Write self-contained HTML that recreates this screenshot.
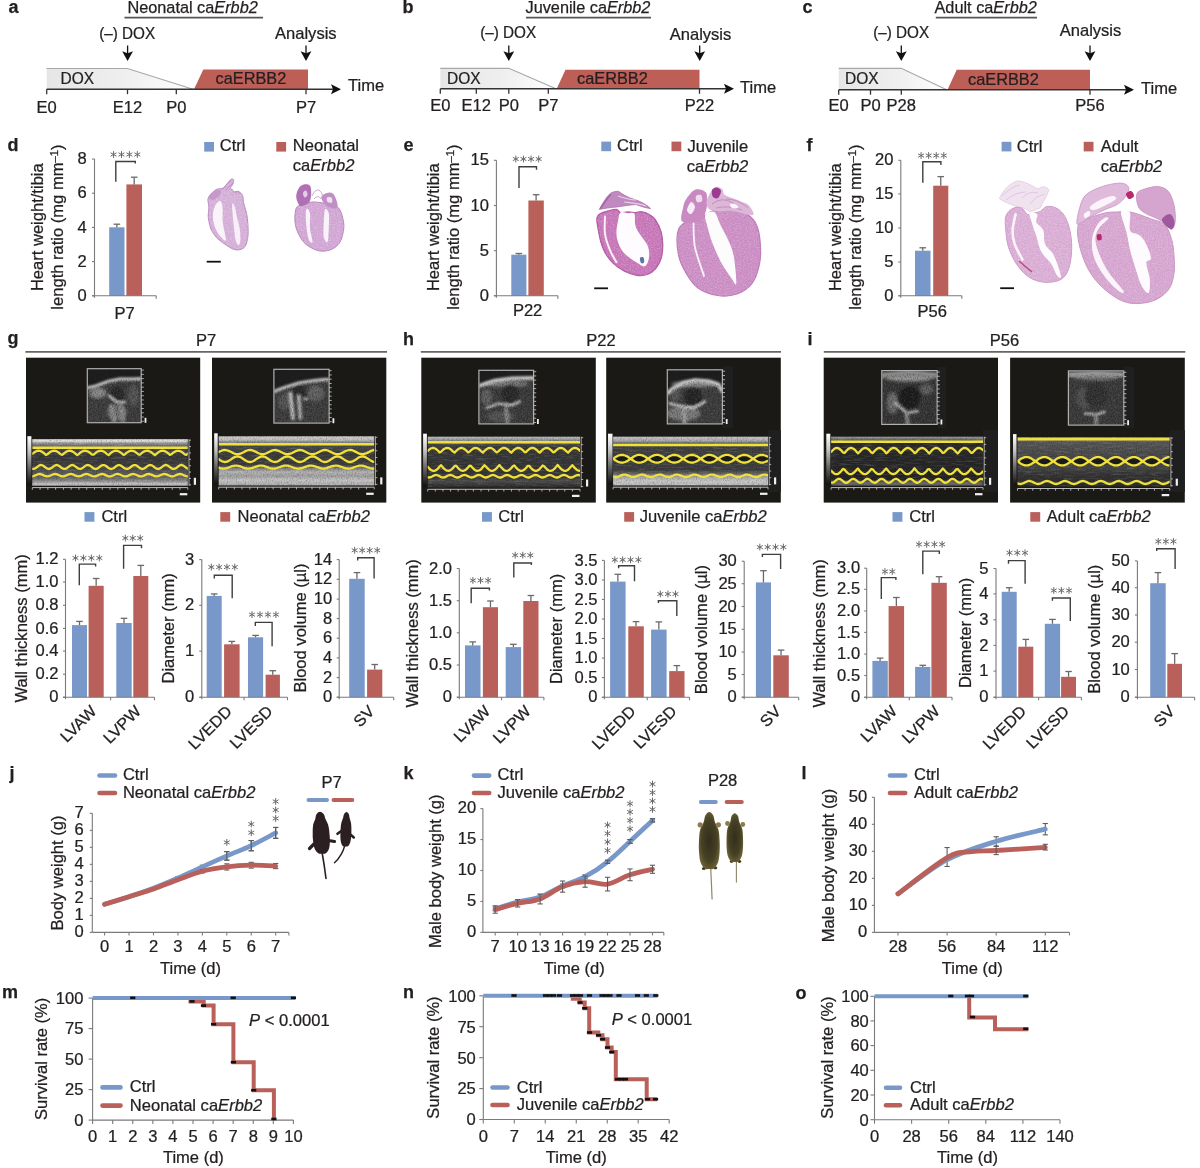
<!DOCTYPE html>
<html><head><meta charset="utf-8"><title>Figure</title>
<style>
html,body{margin:0;padding:0;background:#fff;}
svg{display:block;}
text{font-family:"Liberation Sans",sans-serif;fill:#231f20;stroke:#231f20;stroke-width:0.25px;}
</style></head><body>
<svg width="1200" height="1168" viewBox="0 0 1200 1168" style="will-change:transform">
<rect width="1200" height="1168" fill="#ffffff"/>
<text transform="translate(8.50 12.80)" font-size="18" font-weight="bold" fill="#111">a</text>
<text transform="translate(402.50 13.00)" font-size="18" font-weight="bold" fill="#111">b</text>
<text transform="translate(802.50 12.50)" font-size="18" font-weight="bold" fill="#111">c</text>
<linearGradient id="ga" x1="0" x2="1" y1="0" y2="0"><stop offset="0" stop-color="#e6e6e6"/><stop offset="0.55" stop-color="#efefef"/><stop offset="1" stop-color="#ffffff"/></linearGradient>
<path d="M46.7,89.2 L46.7,68.5 L127.5,68.5 L193,89.2 Z" fill="url(#ga)"/>
<path d="M46.7,68.5 L127.5,68.5 L193,89.2" fill="none" stroke="#a8a8a8" stroke-width="1.2"/>
<text transform="translate(60.50 84.00) scale(0.97 1)" font-size="16">DOX</text>
<path d="M194,89.2 L203.3,69.6 L308,69.6 L308,89.2 Z" fill="#bd5e57"/>
<text transform="translate(215.50 84.20) scale(1.035 1)" font-size="15.8" fill="#3a1d1c">caERBB2</text>
<line x1="46.70" y1="89.20" x2="335.00" y2="89.20" stroke="#333" stroke-width="1.4"/>
<path d="M341,89.2 L331,84.2 L333,89.2 L331,94.2 Z" fill="#111"/>
<text transform="translate(348.00 91.00) scale(1.035 1)" font-size="16">Time</text>
<line x1="46.70" y1="89.20" x2="46.70" y2="94.20" stroke="#333" stroke-width="1.3"/>
<text transform="translate(46.70 112.50) scale(1.035 1)" font-size="16" text-anchor="middle">E0</text>
<line x1="127.50" y1="89.20" x2="127.50" y2="94.20" stroke="#333" stroke-width="1.3"/>
<text transform="translate(127.50 112.50) scale(1.035 1)" font-size="16" text-anchor="middle">E12</text>
<line x1="176.30" y1="89.20" x2="176.30" y2="94.20" stroke="#333" stroke-width="1.3"/>
<text transform="translate(176.30 112.50) scale(1.035 1)" font-size="16" text-anchor="middle">P0</text>
<line x1="306.00" y1="89.20" x2="306.00" y2="94.20" stroke="#333" stroke-width="1.3"/>
<text transform="translate(306.00 112.50) scale(1.035 1)" font-size="16" text-anchor="middle">P7</text>
<line x1="127.60" y1="45.50" x2="127.60" y2="54.00" stroke="#111" stroke-width="1.3"/>
<path d="M122.2,51.2 L127.6,53.3 L133.0,51.2 L127.6,61.0 Z" fill="#111"/>
<text transform="translate(99.20 39.00) scale(0.955 1)" font-size="16">(–) DOX</text>
<line x1="306.00" y1="45.50" x2="306.00" y2="54.00" stroke="#111" stroke-width="1.3"/>
<path d="M300.6,51.2 L306.0,53.3 L311.4,51.2 L306.0,61.0 Z" fill="#111"/>
<text transform="translate(275.00 38.50) scale(1.035 1)" font-size="16">Analysis</text>
<text transform="translate(127.40 13.30)" font-size="16.3">Neonatal ca<tspan font-style="italic">Erbb2</tspan></text>
<line x1="124.50" y1="17.60" x2="263.00" y2="17.60" stroke="#555" stroke-width="1.6"/>
<linearGradient id="gb" x1="0" x2="1" y1="0" y2="0"><stop offset="0" stop-color="#e6e6e6"/><stop offset="0.55" stop-color="#efefef"/><stop offset="1" stop-color="#ffffff"/></linearGradient>
<path d="M440.3,88.8 L440.3,68.3 L508.8,68.3 L556,88.8 Z" fill="url(#gb)"/>
<path d="M440.3,68.3 L508.8,68.3 L556,88.8" fill="none" stroke="#a8a8a8" stroke-width="1.2"/>
<text transform="translate(447.00 83.50) scale(0.97 1)" font-size="16">DOX</text>
<path d="M556.7,88.8 L565.5,69.8 L699.5,69.8 L699.5,88.8 Z" fill="#bd5e57"/>
<text transform="translate(577.00 84.00) scale(1.035 1)" font-size="15.8" fill="#3a1d1c">caERBB2</text>
<line x1="440.30" y1="88.80" x2="728.00" y2="88.80" stroke="#333" stroke-width="1.4"/>
<path d="M734,88.8 L724,83.8 L726,88.8 L724,93.8 Z" fill="#111"/>
<text transform="translate(740.00 93.30) scale(1.035 1)" font-size="16">Time</text>
<line x1="440.30" y1="88.80" x2="440.30" y2="93.80" stroke="#333" stroke-width="1.3"/>
<text transform="translate(440.30 110.80) scale(1.035 1)" font-size="16" text-anchor="middle">E0</text>
<line x1="476.30" y1="88.80" x2="476.30" y2="93.80" stroke="#333" stroke-width="1.3"/>
<text transform="translate(476.30 110.80) scale(1.035 1)" font-size="16" text-anchor="middle">E12</text>
<line x1="508.80" y1="88.80" x2="508.80" y2="93.80" stroke="#333" stroke-width="1.3"/>
<text transform="translate(508.80 110.80) scale(1.035 1)" font-size="16" text-anchor="middle">P0</text>
<line x1="548.30" y1="88.80" x2="548.30" y2="93.80" stroke="#333" stroke-width="1.3"/>
<text transform="translate(548.30 110.80) scale(1.035 1)" font-size="16" text-anchor="middle">P7</text>
<line x1="699.50" y1="88.80" x2="699.50" y2="93.80" stroke="#333" stroke-width="1.3"/>
<text transform="translate(699.50 110.80) scale(1.035 1)" font-size="16" text-anchor="middle">P22</text>
<line x1="508.80" y1="45.50" x2="508.80" y2="54.00" stroke="#111" stroke-width="1.3"/>
<path d="M503.4,51.2 L508.8,53.3 L514.2,51.2 L508.8,61.0 Z" fill="#111"/>
<text transform="translate(480.20 38.00) scale(0.955 1)" font-size="16">(–) DOX</text>
<line x1="699.70" y1="45.50" x2="699.70" y2="54.00" stroke="#111" stroke-width="1.3"/>
<path d="M694.3,51.2 L699.7,53.3 L705.1,51.2 L699.7,61.0 Z" fill="#111"/>
<text transform="translate(669.70 39.70) scale(1.035 1)" font-size="16">Analysis</text>
<text transform="translate(525.50 13.30)" font-size="16.3">Juvenile ca<tspan font-style="italic">Erbb2</tspan></text>
<line x1="526.00" y1="17.60" x2="651.00" y2="17.60" stroke="#555" stroke-width="1.6"/>
<linearGradient id="gc" x1="0" x2="1" y1="0" y2="0"><stop offset="0" stop-color="#e6e6e6"/><stop offset="0.55" stop-color="#efefef"/><stop offset="1" stop-color="#ffffff"/></linearGradient>
<path d="M838.7,89.7 L838.7,68.3 L901.3,68.3 L946.7,89.7 Z" fill="url(#gc)"/>
<path d="M838.7,68.3 L901.3,68.3 L946.7,89.7" fill="none" stroke="#a8a8a8" stroke-width="1.2"/>
<text transform="translate(845.00 84.00) scale(0.97 1)" font-size="16">DOX</text>
<path d="M947.5,89.7 L956.7,69.8 L1090,69.8 L1090,89.7 Z" fill="#bd5e57"/>
<text transform="translate(968.00 84.50) scale(1.035 1)" font-size="15.8" fill="#3a1d1c">caERBB2</text>
<line x1="838.70" y1="89.70" x2="1128.00" y2="89.70" stroke="#333" stroke-width="1.4"/>
<path d="M1134,89.7 L1124,84.7 L1126,89.7 L1124,94.7 Z" fill="#111"/>
<text transform="translate(1141.00 94.00) scale(1.035 1)" font-size="16">Time</text>
<line x1="838.70" y1="89.70" x2="838.70" y2="94.70" stroke="#333" stroke-width="1.3"/>
<text transform="translate(838.70 110.80) scale(1.035 1)" font-size="16" text-anchor="middle">E0</text>
<line x1="870.50" y1="89.70" x2="870.50" y2="94.70" stroke="#333" stroke-width="1.3"/>
<text transform="translate(870.50 110.80) scale(1.035 1)" font-size="16" text-anchor="middle">P0</text>
<line x1="901.30" y1="89.70" x2="901.30" y2="94.70" stroke="#333" stroke-width="1.3"/>
<text transform="translate(901.30 110.80) scale(1.035 1)" font-size="16" text-anchor="middle">P28</text>
<line x1="1090.00" y1="89.70" x2="1090.00" y2="94.70" stroke="#333" stroke-width="1.3"/>
<text transform="translate(1090.00 110.80) scale(1.035 1)" font-size="16" text-anchor="middle">P56</text>
<line x1="901.30" y1="45.50" x2="901.30" y2="54.00" stroke="#111" stroke-width="1.3"/>
<path d="M895.9,51.2 L901.3,53.3 L906.7,51.2 L901.3,61.0 Z" fill="#111"/>
<text transform="translate(873.20 38.00) scale(0.955 1)" font-size="16">(–) DOX</text>
<line x1="1090.00" y1="45.50" x2="1090.00" y2="54.00" stroke="#111" stroke-width="1.3"/>
<path d="M1084.6,51.2 L1090.0,53.3 L1095.4,51.2 L1090.0,61.0 Z" fill="#111"/>
<text transform="translate(1059.70 35.80) scale(1.035 1)" font-size="16">Analysis</text>
<text transform="translate(934.50 13.30)" font-size="16.3">Adult ca<tspan font-style="italic">Erbb2</tspan></text>
<line x1="935.80" y1="17.60" x2="1037.00" y2="17.60" stroke="#555" stroke-width="1.6"/>
<text transform="translate(7.50 151.20)" font-size="18" font-weight="bold" fill="#111">d</text>
<text transform="translate(403.50 150.80)" font-size="18" font-weight="bold" fill="#111">e</text>
<text transform="translate(806.50 150.80)" font-size="18" font-weight="bold" fill="#111">f</text>
<defs>
<filter id="nzw2" x="0" y="0" width="1" height="1"><feTurbulence type="fractalNoise" baseFrequency="0.7" numOctaves="2" seed="11"/><feColorMatrix type="matrix" values="0 0 0 0 1  0 0 0 0 1  0 0 0 0 1  1.8 0 0 0 -0.8"/></filter>
<filter id="nzk2" x="0" y="0" width="1" height="1"><feTurbulence type="fractalNoise" baseFrequency="0.6" numOctaves="2" seed="5"/><feColorMatrix type="matrix" values="0 0 0 0 0.3  0 0 0 0 0  0 0 0 0 0.3  1.8 0 0 0 -0.8"/></filter>
</defs>
<rect x="109.20" y="227.30" width="15.30" height="68.50" fill="#7898ca"/>
<line x1="116.85" y1="227.30" x2="116.85" y2="224.20" stroke="#6a6a6a" stroke-width="1.3"/>
<line x1="113.55" y1="224.20" x2="120.15" y2="224.20" stroke="#6a6a6a" stroke-width="1.3"/>
<rect x="126.40" y="184.40" width="15.60" height="111.40" fill="#b9605a"/>
<line x1="134.20" y1="184.40" x2="134.20" y2="177.20" stroke="#6a6a6a" stroke-width="1.3"/>
<line x1="130.90" y1="177.20" x2="137.50" y2="177.20" stroke="#6a6a6a" stroke-width="1.3"/>
<line x1="94.50" y1="159.00" x2="94.50" y2="297.80" stroke="#7a7a7a" stroke-width="1.1"/>
<line x1="92.00" y1="295.80" x2="156.20" y2="295.80" stroke="#7a7a7a" stroke-width="1.1"/>
<line x1="92.00" y1="295.80" x2="94.50" y2="295.80" stroke="#7a7a7a" stroke-width="1.1"/>
<text transform="translate(86.80 300.90) scale(1.035 1)" font-size="16" text-anchor="end">0</text>
<line x1="92.00" y1="261.60" x2="94.50" y2="261.60" stroke="#7a7a7a" stroke-width="1.1"/>
<text transform="translate(86.80 266.70) scale(1.035 1)" font-size="16" text-anchor="end">2</text>
<line x1="92.00" y1="227.40" x2="94.50" y2="227.40" stroke="#7a7a7a" stroke-width="1.1"/>
<text transform="translate(86.80 232.50) scale(1.035 1)" font-size="16" text-anchor="end">4</text>
<line x1="92.00" y1="193.20" x2="94.50" y2="193.20" stroke="#7a7a7a" stroke-width="1.1"/>
<text transform="translate(86.80 198.30) scale(1.035 1)" font-size="16" text-anchor="end">6</text>
<line x1="92.00" y1="159.00" x2="94.50" y2="159.00" stroke="#7a7a7a" stroke-width="1.1"/>
<text transform="translate(86.80 164.10) scale(1.035 1)" font-size="16" text-anchor="end">8</text>
<line x1="156.20" y1="295.80" x2="156.20" y2="298.80" stroke="#7a7a7a" stroke-width="1.1"/>
<path d="M115.8,181.7 L115.8,161.5 L135.3,161.5 L135.3,163.6" fill="none" stroke="#3f3f3f" stroke-width="1.4"/>
<path d="M113.56,151.10 L113.56,157.90 M116.51,152.80 L110.62,156.20 M116.51,156.20 L110.62,152.80 " fill="none" stroke="#6a6a6a" stroke-width="1.0"/>
<path d="M121.49,151.10 L121.49,157.90 M124.43,152.80 L118.54,156.20 M124.43,156.20 L118.54,152.80 " fill="none" stroke="#6a6a6a" stroke-width="1.0"/>
<path d="M129.41,151.10 L129.41,157.90 M132.36,152.80 L126.47,156.20 M132.36,156.20 L126.47,152.80 " fill="none" stroke="#6a6a6a" stroke-width="1.0"/>
<path d="M137.34,151.10 L137.34,157.90 M140.28,152.80 L134.39,156.20 M140.28,156.20 L134.39,152.80 " fill="none" stroke="#6a6a6a" stroke-width="1.0"/>
<text transform="translate(42.70 227.20) rotate(-90) scale(1.035 1)" font-size="16" text-anchor="middle">Heart weight/tibia</text>
<text transform="translate(63.20 227.00) rotate(-90) scale(1.035 1)" font-size="16" text-anchor="middle">length ratio (mg mm<tspan dy="-5" font-size="11">–1</tspan><tspan dy="5">)</tspan></text>
<text transform="translate(124.50 319.20) scale(1.035 1)" font-size="16" text-anchor="middle">P7</text>
<rect x="511.30" y="254.70" width="15.10" height="41.10" fill="#7898ca"/>
<line x1="518.85" y1="254.70" x2="518.85" y2="253.50" stroke="#6a6a6a" stroke-width="1.3"/>
<line x1="515.55" y1="253.50" x2="522.15" y2="253.50" stroke="#6a6a6a" stroke-width="1.3"/>
<rect x="528.40" y="200.50" width="15.40" height="95.30" fill="#b9605a"/>
<line x1="536.10" y1="200.50" x2="536.10" y2="194.70" stroke="#6a6a6a" stroke-width="1.3"/>
<line x1="532.80" y1="194.70" x2="539.40" y2="194.70" stroke="#6a6a6a" stroke-width="1.3"/>
<line x1="496.40" y1="160.30" x2="496.40" y2="297.80" stroke="#7a7a7a" stroke-width="1.1"/>
<line x1="493.90" y1="295.80" x2="557.90" y2="295.80" stroke="#7a7a7a" stroke-width="1.1"/>
<line x1="493.90" y1="295.80" x2="496.40" y2="295.80" stroke="#7a7a7a" stroke-width="1.1"/>
<text transform="translate(489.00 300.90) scale(1.035 1)" font-size="16" text-anchor="end">0</text>
<line x1="493.90" y1="250.70" x2="496.40" y2="250.70" stroke="#7a7a7a" stroke-width="1.1"/>
<text transform="translate(489.00 255.80) scale(1.035 1)" font-size="16" text-anchor="end">5</text>
<line x1="493.90" y1="205.50" x2="496.40" y2="205.50" stroke="#7a7a7a" stroke-width="1.1"/>
<text transform="translate(489.00 210.60) scale(1.035 1)" font-size="16" text-anchor="end">10</text>
<line x1="493.90" y1="160.30" x2="496.40" y2="160.30" stroke="#7a7a7a" stroke-width="1.1"/>
<text transform="translate(489.00 165.40) scale(1.035 1)" font-size="16" text-anchor="end">15</text>
<line x1="557.90" y1="295.80" x2="557.90" y2="298.80" stroke="#7a7a7a" stroke-width="1.1"/>
<path d="M519.0,187.9 L519.0,166.8 L536.5,166.8 L536.5,169.7" fill="none" stroke="#3f3f3f" stroke-width="1.4"/>
<path d="M515.81,155.60 L515.81,162.40 M518.76,157.30 L512.87,160.70 M518.76,160.70 L512.87,157.30 " fill="none" stroke="#6a6a6a" stroke-width="1.0"/>
<path d="M523.44,155.60 L523.44,162.40 M526.38,157.30 L520.49,160.70 M526.38,160.70 L520.49,157.30 " fill="none" stroke="#6a6a6a" stroke-width="1.0"/>
<path d="M531.06,155.60 L531.06,162.40 M534.01,157.30 L528.12,160.70 M534.01,160.70 L528.12,157.30 " fill="none" stroke="#6a6a6a" stroke-width="1.0"/>
<path d="M538.69,155.60 L538.69,162.40 M541.63,157.30 L535.74,160.70 M541.63,160.70 L535.74,157.30 " fill="none" stroke="#6a6a6a" stroke-width="1.0"/>
<text transform="translate(439.20 227.20) rotate(-90) scale(1.035 1)" font-size="16" text-anchor="middle">Heart weight/tibia</text>
<text transform="translate(459.00 227.00) rotate(-90) scale(1.035 1)" font-size="16" text-anchor="middle">length ratio (mg mm<tspan dy="-5" font-size="11">–1</tspan><tspan dy="5">)</tspan></text>
<text transform="translate(527.60 316.30) scale(1.035 1)" font-size="16" text-anchor="middle">P22</text>
<rect x="915.00" y="250.70" width="15.50" height="45.10" fill="#7898ca"/>
<line x1="922.75" y1="250.70" x2="922.75" y2="247.80" stroke="#6a6a6a" stroke-width="1.3"/>
<line x1="919.45" y1="247.80" x2="926.05" y2="247.80" stroke="#6a6a6a" stroke-width="1.3"/>
<rect x="933.20" y="185.70" width="15.10" height="110.10" fill="#b9605a"/>
<line x1="940.75" y1="185.70" x2="940.75" y2="176.60" stroke="#6a6a6a" stroke-width="1.3"/>
<line x1="937.45" y1="176.60" x2="944.05" y2="176.60" stroke="#6a6a6a" stroke-width="1.3"/>
<line x1="900.80" y1="160.30" x2="900.80" y2="297.80" stroke="#7a7a7a" stroke-width="1.1"/>
<line x1="898.30" y1="295.80" x2="961.80" y2="295.80" stroke="#7a7a7a" stroke-width="1.1"/>
<line x1="898.30" y1="295.80" x2="900.80" y2="295.80" stroke="#7a7a7a" stroke-width="1.1"/>
<text transform="translate(893.50 300.90) scale(1.035 1)" font-size="16" text-anchor="end">0</text>
<line x1="898.30" y1="262.00" x2="900.80" y2="262.00" stroke="#7a7a7a" stroke-width="1.1"/>
<text transform="translate(893.50 267.10) scale(1.035 1)" font-size="16" text-anchor="end">5</text>
<line x1="898.30" y1="228.00" x2="900.80" y2="228.00" stroke="#7a7a7a" stroke-width="1.1"/>
<text transform="translate(893.50 233.10) scale(1.035 1)" font-size="16" text-anchor="end">10</text>
<line x1="898.30" y1="193.90" x2="900.80" y2="193.90" stroke="#7a7a7a" stroke-width="1.1"/>
<text transform="translate(893.50 199.00) scale(1.035 1)" font-size="16" text-anchor="end">15</text>
<line x1="898.30" y1="160.30" x2="900.80" y2="160.30" stroke="#7a7a7a" stroke-width="1.1"/>
<text transform="translate(893.50 165.40) scale(1.035 1)" font-size="16" text-anchor="end">20</text>
<line x1="961.80" y1="295.80" x2="961.80" y2="298.80" stroke="#7a7a7a" stroke-width="1.1"/>
<path d="M922.8,182.7 L922.8,161.7 L940.9,161.7 L940.9,165.1" fill="none" stroke="#3f3f3f" stroke-width="1.4"/>
<path d="M921.09,152.10 L921.09,158.90 M924.03,153.80 L918.14,157.20 M924.03,157.20 L918.14,153.80 " fill="none" stroke="#6a6a6a" stroke-width="1.0"/>
<path d="M928.66,152.10 L928.66,158.90 M931.61,153.80 L925.72,157.20 M931.61,157.20 L925.72,153.80 " fill="none" stroke="#6a6a6a" stroke-width="1.0"/>
<path d="M936.24,152.10 L936.24,158.90 M939.18,153.80 L933.29,157.20 M939.18,157.20 L933.29,153.80 " fill="none" stroke="#6a6a6a" stroke-width="1.0"/>
<path d="M943.81,152.10 L943.81,158.90 M946.76,153.80 L940.87,157.20 M946.76,157.20 L940.87,153.80 " fill="none" stroke="#6a6a6a" stroke-width="1.0"/>
<text transform="translate(841.00 227.20) rotate(-90) scale(1.035 1)" font-size="16" text-anchor="middle">Heart weight/tibia</text>
<text transform="translate(860.70 227.00) rotate(-90) scale(1.035 1)" font-size="16" text-anchor="middle">length ratio (mg mm<tspan dy="-5" font-size="11">–1</tspan><tspan dy="5">)</tspan></text>
<text transform="translate(932.20 316.60) scale(1.035 1)" font-size="16" text-anchor="middle">P56</text>
<rect x="204.20" y="142.00" width="9.80" height="9.60" fill="#7898ca"/>
<text transform="translate(219.70 151.40) scale(1.035 1)" font-size="16">Ctrl</text>
<rect x="276.30" y="142.00" width="9.80" height="9.60" fill="#b9605a"/>
<text transform="translate(292.80 151.40) scale(1.035 1)" font-size="16">Neonatal</text>
<text transform="translate(292.80 170.80) scale(1.035 1)" font-size="16">ca<tspan font-style="italic">Erbb2</tspan></text>
<rect x="601.30" y="141.60" width="9.80" height="9.60" fill="#7898ca"/>
<text transform="translate(617.00 151.40) scale(1.035 1)" font-size="16">Ctrl</text>
<rect x="671.50" y="141.60" width="9.80" height="9.60" fill="#b9605a"/>
<text transform="translate(687.50 151.80) scale(1.035 1)" font-size="16">Juvenile</text>
<text transform="translate(686.70 171.70) scale(1.035 1)" font-size="16">ca<tspan font-style="italic">Erbb2</tspan></text>
<rect x="1001.60" y="141.80" width="9.80" height="9.60" fill="#7898ca"/>
<text transform="translate(1016.70 151.60) scale(1.035 1)" font-size="16">Ctrl</text>
<rect x="1083.70" y="141.80" width="9.80" height="9.60" fill="#b9605a"/>
<text transform="translate(1100.70 151.60) scale(1.035 1)" font-size="16">Adult</text>
<text transform="translate(1100.70 171.80) scale(1.035 1)" font-size="16">ca<tspan font-style="italic">Erbb2</tspan></text>
<path d="M207.9,199.7 C207.9,201.5 208.9,205.2 208.9,207.9 C208.9,210.6 208.0,212.9 208.2,216.1 C208.4,219.3 209.4,224.1 210.3,227.1 C211.2,230.1 212.2,231.7 213.7,233.9 C215.2,236.1 217.1,238.3 219.2,240.1 C221.2,241.9 223.7,243.4 226.0,244.9 C228.3,246.4 230.6,248.2 232.9,249.0 C235.2,249.8 237.6,250.2 239.7,249.7 C241.8,249.2 243.8,248.4 245.2,246.2 C246.6,244.0 247.4,240.2 247.9,236.6 C248.4,232.9 248.1,228.2 247.9,224.3 C247.7,220.4 247.3,216.8 246.6,213.4 C245.9,210.0 244.5,206.8 243.8,203.8 C243.1,200.8 243.4,197.6 242.5,195.5 C241.6,193.4 239.8,192.0 238.4,191.4 C237.0,190.8 235.2,192.4 234.2,192.1 C233.2,191.8 232.9,190.0 232.2,189.4 C231.5,188.8 230.0,189.6 230.1,188.7 C230.2,187.8 232.3,185.4 232.9,183.9 C233.5,182.4 233.9,180.5 233.6,179.8 C233.2,179.1 232.1,178.6 230.8,179.5 C229.5,180.4 227.2,183.9 226.0,185.3 C224.8,186.7 224.2,187.4 223.3,188.0 C222.4,188.6 221.7,188.5 220.5,188.7 C219.3,188.9 217.8,188.7 216.4,189.4 C215.0,190.1 213.6,191.6 212.3,192.8 C211.1,194.1 209.6,195.8 208.9,196.9 C208.2,198.1 207.9,197.9 207.9,199.7 Z" fill="#d6b3d9" stroke="#bb8ac1" stroke-width="1.0"/>
<clipPath id="hc1"><path d="M207.9,199.7 C207.9,201.5 208.9,205.2 208.9,207.9 C208.9,210.6 208.0,212.9 208.2,216.1 C208.4,219.3 209.4,224.1 210.3,227.1 C211.2,230.1 212.2,231.7 213.7,233.9 C215.2,236.1 217.1,238.3 219.2,240.1 C221.2,241.9 223.7,243.4 226.0,244.9 C228.3,246.4 230.6,248.2 232.9,249.0 C235.2,249.8 237.6,250.2 239.7,249.7 C241.8,249.2 243.8,248.4 245.2,246.2 C246.6,244.0 247.4,240.2 247.9,236.6 C248.4,232.9 248.1,228.2 247.9,224.3 C247.7,220.4 247.3,216.8 246.6,213.4 C245.9,210.0 244.5,206.8 243.8,203.8 C243.1,200.8 243.4,197.6 242.5,195.5 C241.6,193.4 239.8,192.0 238.4,191.4 C237.0,190.8 235.2,192.4 234.2,192.1 C233.2,191.8 232.9,190.0 232.2,189.4 C231.5,188.8 230.0,189.6 230.1,188.7 C230.2,187.8 232.3,185.4 232.9,183.9 C233.5,182.4 233.9,180.5 233.6,179.8 C233.2,179.1 232.1,178.6 230.8,179.5 C229.5,180.4 227.2,183.9 226.0,185.3 C224.8,186.7 224.2,187.4 223.3,188.0 C222.4,188.6 221.7,188.5 220.5,188.7 C219.3,188.9 217.8,188.7 216.4,189.4 C215.0,190.1 213.6,191.6 212.3,192.8 C211.1,194.1 209.6,195.8 208.9,196.9 C208.2,198.1 207.9,197.9 207.9,199.7 Z"/></clipPath>
<g clip-path="url(#hc1)">
<rect x="205.90" y="177.50" width="44.00" height="74.20" fill="#fff" filter="url(#nzw2)" opacity="0.35"/>
<rect x="205.90" y="177.50" width="44.00" height="74.20" fill="#000" filter="url(#nzk2)" opacity="0.12"/>
</g>
<path d="M215.8,204.5 C217.1,202.4 219.4,200.4 220.5,201.0 C221.6,201.6 222.2,204.8 222.6,207.9 C222.9,211.0 222.4,215.8 222.6,219.5 C222.8,223.2 223.4,226.4 224.0,229.8 C224.6,233.2 226.2,238.6 226.0,240.1 C225.8,241.6 224.1,240.1 222.6,238.7 C221.1,237.3 218.6,234.4 217.1,231.8 C215.6,229.2 214.4,226.0 213.7,222.9 C213.0,219.8 212.7,216.5 213.0,213.4 C213.3,210.3 214.6,206.6 215.8,204.5 Z" fill="#faf4fa"/>
<path d="M232.2,203.8 C232.5,202.1 234.1,204.9 234.9,207.2 C235.7,209.5 236.2,214.0 237.0,217.5 C237.8,221.0 239.1,224.6 239.7,228.4 C240.3,232.2 240.6,237.2 240.4,240.1 C240.2,242.9 239.2,245.5 238.4,245.5 C237.6,245.5 236.3,242.7 235.6,240.1 C234.9,237.5 234.6,233.6 234.2,229.8 C233.8,226.0 233.2,221.8 232.9,217.5 C232.6,213.2 231.9,205.5 232.2,203.8 Z" fill="#f8eff8"/>
<path d="M208.5,197.0 C208.3,195.8 210.6,193.7 212.0,192.5 C213.4,191.3 215.5,190.2 217.0,190.0 C218.5,189.8 220.7,190.0 221.0,191.0 C221.3,192.0 220.3,194.5 219.0,196.0 C217.7,197.5 214.8,199.8 213.0,200.0 C211.2,200.2 208.7,198.2 208.5,197.0 Z" fill="#c59ac9"/>
<path d="M223,189 Q226,184 231,180.5 M226,190 Q229,186 233,183 M234,192 Q238,190 241,194" fill="none" stroke="#b98bbf" stroke-width="0.9"/>
<path d="M296.2,208.2 C295.0,211.2 294.6,217.6 295.0,222.0 C295.4,226.4 296.9,230.8 298.8,234.5 C300.6,238.2 302.9,241.8 306.2,244.5 C309.6,247.2 314.6,249.9 318.8,250.8 C322.9,251.6 327.7,251.0 331.2,249.5 C334.8,248.0 337.9,245.5 340.0,242.0 C342.1,238.5 343.3,232.4 343.8,228.2 C344.2,224.1 343.3,220.3 342.5,217.0 C341.7,213.7 340.5,210.4 338.8,208.2 C337.0,206.1 334.3,204.8 332.0,204.0 C329.7,203.2 328.2,203.6 325.0,203.2 C321.8,202.9 316.2,201.8 312.5,202.0 C308.8,202.2 305.2,203.5 302.5,204.5 C299.8,205.5 297.5,205.3 296.2,208.2 Z" fill="#d3a9d6" stroke="#b986be" stroke-width="1.0"/>
<clipPath id="hc2"><path d="M296.2,208.2 C295.0,211.2 294.6,217.6 295.0,222.0 C295.4,226.4 296.9,230.8 298.8,234.5 C300.6,238.2 302.9,241.8 306.2,244.5 C309.6,247.2 314.6,249.9 318.8,250.8 C322.9,251.6 327.7,251.0 331.2,249.5 C334.8,248.0 337.9,245.5 340.0,242.0 C342.1,238.5 343.3,232.4 343.8,228.2 C344.2,224.1 343.3,220.3 342.5,217.0 C341.7,213.7 340.5,210.4 338.8,208.2 C337.0,206.1 334.3,204.8 332.0,204.0 C329.7,203.2 328.2,203.6 325.0,203.2 C321.8,202.9 316.2,201.8 312.5,202.0 C308.8,202.2 305.2,203.5 302.5,204.5 C299.8,205.5 297.5,205.3 296.2,208.2 Z"/></clipPath>
<g clip-path="url(#hc2)">
<rect x="293.00" y="200.00" width="52.75" height="52.75" fill="#fff" filter="url(#nzw2)" opacity="0.35"/>
<rect x="293.00" y="200.00" width="52.75" height="52.75" fill="#000" filter="url(#nzk2)" opacity="0.12"/>
</g>
<path d="M296.2,197.0 C296.0,194.1 297.5,190.3 298.8,188.2 C300.0,186.2 301.9,184.9 303.8,184.5 C305.6,184.1 308.8,184.3 310.0,185.8 C311.2,187.2 311.2,190.8 311.2,193.2 C311.2,195.8 310.8,198.9 310.0,200.8 C309.2,202.6 307.9,203.7 306.2,204.5 C304.6,205.3 301.7,207.0 300.0,205.8 C298.3,204.5 296.5,199.9 296.2,197.0 Z" fill="#b070b4"/>
<path d="M303.0,193.0 C303.2,191.8 305.2,190.2 306.0,190.5 C306.8,190.8 307.8,193.8 307.5,195.0 C307.2,196.2 305.2,197.8 304.5,197.5 C303.8,197.2 302.8,194.2 303.0,193.0 Z" fill="#e6cde8"/>
<path d="M321.2,197.0 C321.5,195.1 324.4,193.9 326.2,193.2 C328.1,192.6 330.8,192.2 332.5,193.2 C334.2,194.3 335.4,197.2 336.2,199.5 C337.1,201.8 338.1,205.5 337.5,207.0 C336.9,208.5 334.6,208.7 332.5,208.2 C330.4,207.8 326.9,206.4 325.0,204.5 C323.1,202.6 321.0,198.9 321.2,197.0 Z" fill="#c08fc5"/>
<path d="M327.0,197.5 C327.7,196.8 330.7,196.7 331.5,197.5 C332.3,198.3 332.7,201.8 332.0,202.5 C331.3,203.2 328.3,202.8 327.5,202.0 C326.7,201.2 326.3,198.2 327.0,197.5 Z" fill="#efe0f0"/>
<path d="M312,196 Q315,189 319,190 Q322,192 323,197 M314,199 Q318,194 321,199" fill="none" stroke="#c7a2cb" stroke-width="0.9"/>
<path d="M306.2,209.5 C306.9,207.6 309.4,210.1 310.0,213.2 C310.6,216.4 309.6,223.5 310.0,228.2 C310.4,233.0 312.7,240.1 312.5,242.0 C312.3,243.9 309.8,242.4 308.8,239.5 C307.7,236.6 306.7,229.5 306.2,224.5 C305.8,219.5 305.6,211.4 306.2,209.5 Z" fill="#f9f2f9"/>
<path d="M325.0,209.5 C325.8,208.0 328.1,210.1 328.8,213.2 C329.4,216.4 329.0,223.5 328.8,228.2 C328.5,233.0 328.3,240.5 327.5,242.0 C326.7,243.5 324.4,240.3 323.8,237.0 C323.1,233.7 323.5,226.6 323.8,222.0 C324.0,217.4 324.2,211.0 325.0,209.5 Z" fill="#f9f2f9"/>
<path d="M596.9,219.1 C596.8,221.8 597.8,226.7 598.5,230.5 C599.2,234.3 599.8,238.2 600.9,241.9 C602.0,245.6 603.0,249.0 605.0,252.5 C607.0,256.0 609.9,259.9 613.1,263.0 C616.4,266.1 620.6,269.2 624.5,271.2 C628.4,273.2 632.9,274.7 636.7,275.2 C640.5,275.7 644.2,275.5 647.3,274.4 C650.4,273.3 653.1,271.4 655.4,268.7 C657.7,266.0 659.9,262.1 661.1,258.2 C662.3,254.3 662.7,249.5 662.7,245.2 C662.7,240.9 662.3,236.4 661.1,232.2 C659.9,228.0 657.4,223.0 655.4,220.0 C653.4,217.0 651.3,215.7 648.9,214.3 C646.5,212.9 643.0,212.1 640.8,211.8 C638.6,211.5 638.0,212.6 635.9,212.6 C633.8,212.6 630.6,212.0 628.0,212.0 C625.4,212.0 622.4,213.0 620.5,212.6 C618.6,212.2 618.4,209.7 616.4,209.4 C614.4,209.1 611.1,210.2 608.3,211.0 C605.4,211.8 601.2,213.0 599.3,214.3 C597.4,215.7 597.0,216.4 596.9,219.1 Z" fill="#c878b8" stroke="#b65ca7" stroke-width="1.4"/>
<clipPath id="hc3"><path d="M596.9,219.1 C596.8,221.8 597.8,226.7 598.5,230.5 C599.2,234.3 599.8,238.2 600.9,241.9 C602.0,245.6 603.0,249.0 605.0,252.5 C607.0,256.0 609.9,259.9 613.1,263.0 C616.4,266.1 620.6,269.2 624.5,271.2 C628.4,273.2 632.9,274.7 636.7,275.2 C640.5,275.7 644.2,275.5 647.3,274.4 C650.4,273.3 653.1,271.4 655.4,268.7 C657.7,266.0 659.9,262.1 661.1,258.2 C662.3,254.3 662.7,249.5 662.7,245.2 C662.7,240.9 662.3,236.4 661.1,232.2 C659.9,228.0 657.4,223.0 655.4,220.0 C653.4,217.0 651.3,215.7 648.9,214.3 C646.5,212.9 643.0,212.1 640.8,211.8 C638.6,211.5 638.0,212.6 635.9,212.6 C633.8,212.6 630.6,212.0 628.0,212.0 C625.4,212.0 622.4,213.0 620.5,212.6 C618.6,212.2 618.4,209.7 616.4,209.4 C614.4,209.1 611.1,210.2 608.3,211.0 C605.4,211.8 601.2,213.0 599.3,214.3 C597.4,215.7 597.0,216.4 596.9,219.1 Z"/></clipPath>
<g clip-path="url(#hc3)">
<rect x="594.90" y="207.40" width="69.80" height="69.80" fill="#fff" filter="url(#nzw2)" opacity="0.35"/>
<rect x="594.90" y="207.40" width="69.80" height="69.80" fill="#000" filter="url(#nzk2)" opacity="0.12"/>
</g>
<path d="M599.3,209.4 C603,203 606,197 610.7,193.1 C614,191.5 617,191 618.8,191.5 C622,194 626,196 630,198 C637,200 645,203 650.5,208.6 C646,208 640,206 635.9,204.5 C628,205 622,206.5 616.4,207 C610,207.5 604,208.5 599.3,209.4 Z" fill="#c08ac0" stroke="#b070b0" stroke-width="0.8"/>
<path d="M618,196 C624,198 630,200 636,200 M624,202 C630,203 638,203 646,206" fill="none" stroke="#e6d3e6" stroke-width="1.2"/>
<path d="M600.5,208.5 C605,202 608,197 611,194.5" fill="none" stroke="#a862a8" stroke-width="1.6"/>
<path d="M620.5,212.6 C622.2,211.2 625.7,213.0 628.0,213.2 C630.3,213.3 633.1,211.7 634.3,213.5 C635.5,215.3 634.6,221.2 635.1,224.0 C635.6,226.8 636.3,228.2 637.5,230.5 C638.7,232.8 640.6,235.1 642.4,237.8 C644.2,240.5 647.0,243.4 648.1,246.8 C649.2,250.2 649.5,254.9 648.9,258.2 C648.3,261.4 646.7,265.5 644.8,266.3 C642.9,267.1 639.9,264.4 637.5,263.0 C635.1,261.6 632.6,260.1 630.2,258.2 C627.8,256.3 624.9,254.4 622.9,251.7 C620.9,249.0 619.1,245.2 618.0,241.9 C616.9,238.7 616.4,235.6 616.4,232.2 C616.4,228.8 617.3,224.9 618.0,221.6 C618.7,218.3 618.8,214.0 620.5,212.6 Z" fill="#fefcfe"/>
<path d="M605.0,216.5 C605.0,219.4 604.2,228.2 605.0,233.8 C605.8,239.4 608.0,245.3 609.9,250.0 C611.8,254.7 615.3,260.2 616.4,262.2 " fill="none" stroke="#fbf0f9" stroke-width="2.0" stroke-linecap="round"/>
<path d="M640.0,258.0 C640.4,257.1 642.8,256.8 643.5,257.5 C644.2,258.2 644.4,261.6 644.0,262.5 C643.6,263.4 641.7,263.8 641.0,263.0 C640.3,262.2 639.6,258.9 640.0,258.0 Z" fill="#5a78a8"/>
<path d="M678.5,229.5 C676.2,235.5 677.2,247.8 678.5,255.0 C679.8,262.2 682.8,267.5 686.0,273.0 C689.2,278.5 692.8,284.2 698.0,288.0 C703.2,291.8 711.0,294.5 717.5,295.5 C724.0,296.5 731.2,296.0 737.0,294.0 C742.8,292.0 748.2,288.5 752.0,283.5 C755.8,278.5 758.1,270.8 759.5,264.0 C760.9,257.2 760.8,249.5 760.2,243.0 C759.8,236.5 758.6,229.8 756.5,225.0 C754.4,220.2 751.5,217.0 747.5,214.5 C743.5,212.0 738.0,210.8 732.5,210.0 C727.0,209.2 719.2,209.0 714.5,210.0 C709.8,211.0 707.8,214.5 704.0,216.0 C700.2,217.5 696.2,216.8 692.0,219.0 C687.8,221.2 680.8,223.5 678.5,229.5 Z" fill="#cc90c5" stroke="#c07ab8" stroke-width="1.2"/>
<clipPath id="hc4"><path d="M678.5,229.5 C676.2,235.5 677.2,247.8 678.5,255.0 C679.8,262.2 682.8,267.5 686.0,273.0 C689.2,278.5 692.8,284.2 698.0,288.0 C703.2,291.8 711.0,294.5 717.5,295.5 C724.0,296.5 731.2,296.0 737.0,294.0 C742.8,292.0 748.2,288.5 752.0,283.5 C755.8,278.5 758.1,270.8 759.5,264.0 C760.9,257.2 760.8,249.5 760.2,243.0 C759.8,236.5 758.6,229.8 756.5,225.0 C754.4,220.2 751.5,217.0 747.5,214.5 C743.5,212.0 738.0,210.8 732.5,210.0 C727.0,209.2 719.2,209.0 714.5,210.0 C709.8,211.0 707.8,214.5 704.0,216.0 C700.2,217.5 696.2,216.8 692.0,219.0 C687.8,221.2 680.8,223.5 678.5,229.5 Z"/></clipPath>
<g clip-path="url(#hc4)">
<rect x="676.50" y="208.00" width="85.75" height="89.50" fill="#fff" filter="url(#nzw2)" opacity="0.35"/>
<rect x="676.50" y="208.00" width="85.75" height="89.50" fill="#000" filter="url(#nzk2)" opacity="0.12"/>
</g>
<path d="M681.5,220.5 C680.3,218.0 682.2,211.5 683.0,208.0 C683.8,204.5 684.0,202.5 686.0,199.5 C688.0,196.5 691.8,191.0 695.0,189.8 C698.2,188.5 703.5,190.3 705.5,192.0 C707.5,193.7 706.9,197.0 707.0,200.0 C707.1,203.0 707.2,206.6 706.2,210.0 C705.2,213.4 703.7,218.3 701.0,220.5 C698.3,222.7 693.2,223.0 690.0,223.0 C686.8,223.0 682.7,223.0 681.5,220.5 Z" fill="#c98ac2"/>
<path d="M687.0,210.0 C687.0,208.0 689.7,202.5 691.0,202.0 C692.3,201.5 695.0,205.0 695.0,207.0 C695.0,209.0 692.3,213.5 691.0,214.0 C689.7,214.5 687.0,212.0 687.0,210.0 Z" fill="#f6ecf6"/>
<path d="M696.0,196.0 C696.7,194.8 700.0,194.2 701.0,195.0 C702.0,195.8 702.7,199.8 702.0,201.0 C701.3,202.2 698.0,202.8 697.0,202.0 C696.0,201.2 695.3,197.2 696.0,196.0 Z" fill="#efdcef"/>
<path d="M707.0,199.5 C708.1,196.1 712.0,189.2 714.5,187.5 C717.0,185.8 720.2,187.8 722.0,189.0 C723.8,190.2 722.0,193.0 725.0,195.0 C728.0,197.0 736.0,199.2 740.0,201.0 C744.0,202.8 746.8,203.2 749.0,205.5 C751.2,207.8 754.2,213.1 753.5,214.5 C752.8,215.9 748.6,214.6 745.0,214.0 C741.4,213.4 736.8,211.5 732.0,211.0 C727.2,210.5 720.0,211.5 716.0,211.0 C712.0,210.5 709.5,209.9 708.0,208.0 C706.5,206.1 705.9,202.9 707.0,199.5 Z" fill="#dcb8d8"/>
<path d="M712,204 Q722,196 733,203 M726,199 Q738,199 748,208 M716,208 Q728,205 742,210" fill="none" stroke="#c58cc0" stroke-width="1.0"/>
<path d="M730.0,204.0 C730.7,203.4 734.7,203.8 736.0,204.5 C737.3,205.2 738.7,207.4 738.0,208.0 C737.3,208.6 733.3,208.7 732.0,208.0 C730.7,207.3 729.3,204.6 730.0,204.0 Z" fill="#fbf4fb"/>
<path d="M712.0,190.0 C712.7,188.4 715.5,187.3 717.0,187.5 C718.5,187.7 720.8,189.2 721.0,191.0 C721.2,192.8 719.3,197.0 718.0,198.0 C716.7,199.0 714.0,198.3 713.0,197.0 C712.0,195.7 711.3,191.6 712.0,190.0 Z" fill="#9b3c91"/>
<path d="M705.5,214.5 C706.8,212.4 712.0,210.5 714.5,212.2 C717.0,214.0 718.0,219.9 720.5,225.0 C723.0,230.1 727.2,237.5 729.5,243.0 C731.8,248.5 732.9,251.2 734.0,258.0 C735.1,264.8 736.8,280.2 736.2,283.5 C735.8,286.8 733.4,280.8 731.0,277.5 C728.6,274.2 725.0,269.5 722.0,264.0 C719.0,258.5 715.5,251.0 713.0,244.5 C710.5,238.0 708.2,230.0 707.0,225.0 C705.8,220.0 704.2,216.6 705.5,214.5 Z" fill="#fdfcfd"/>
<path d="M693.5,223.5 C693.8,227.5 693.2,238.8 695.0,247.5 C696.8,256.2 702.5,271.2 704.0,276.0 " fill="none" stroke="#fbf2fa" stroke-width="1.8" stroke-linecap="round"/>
<path d="M999.4,198.6 C1003,190 1010,183 1017.6,180.9 C1025,181 1032,186 1038,189 C1042,186 1046,186 1049,189.8 C1047,196 1043,202 1040,208 L1030,212 C1026,208 1022,207.5 1018,207 C1010,204 1004,202 999.4,198.6 Z" fill="#f1e2f0" stroke="#e0c4de" stroke-width="0.7"/>
<path d="M1002,196 Q1012,186 1020,185 M1006,200 Q1016,192 1026,192 M1022,198 Q1030,190 1038,193 M1030,204 Q1036,196 1044,194" fill="none" stroke="#dcc0da" stroke-width="0.8"/>
<path d="M1005.8,216.4 C1006.9,212.8 1010.0,209.9 1012.6,208.5 C1015.2,207.1 1019.0,207.0 1021.5,208.0 C1024.0,209.0 1025.5,213.6 1027.4,214.4 C1029.3,215.2 1030.9,213.5 1033.0,213.0 C1035.1,212.5 1037.9,212.5 1040.2,211.4 C1042.5,210.3 1044.3,207.0 1047.1,206.5 C1049.9,206.0 1054.0,206.8 1057.0,208.5 C1060.0,210.2 1062.7,212.8 1064.8,216.4 C1066.9,220.0 1068.6,224.7 1069.8,230.1 C1071.0,235.5 1071.9,242.4 1071.7,248.8 C1071.5,255.2 1070.6,263.4 1068.8,268.5 C1067.0,273.6 1064.9,277.1 1060.9,279.4 C1057.0,281.7 1050.3,282.6 1045.1,282.3 C1039.8,282.0 1034.0,280.2 1029.4,277.4 C1024.8,274.6 1021.1,270.5 1017.6,265.6 C1014.1,260.7 1010.7,253.8 1008.7,247.9 C1006.7,242.0 1006.3,235.3 1005.8,230.1 C1005.3,224.8 1004.7,220.0 1005.8,216.4 Z" fill="#dbb0d6" stroke="#cd9bc8" stroke-width="1.0"/>
<clipPath id="hc5"><path d="M1005.8,216.4 C1006.9,212.8 1010.0,209.9 1012.6,208.5 C1015.2,207.1 1019.0,207.0 1021.5,208.0 C1024.0,209.0 1025.5,213.6 1027.4,214.4 C1029.3,215.2 1030.9,213.5 1033.0,213.0 C1035.1,212.5 1037.9,212.5 1040.2,211.4 C1042.5,210.3 1044.3,207.0 1047.1,206.5 C1049.9,206.0 1054.0,206.8 1057.0,208.5 C1060.0,210.2 1062.7,212.8 1064.8,216.4 C1066.9,220.0 1068.6,224.7 1069.8,230.1 C1071.0,235.5 1071.9,242.4 1071.7,248.8 C1071.5,255.2 1070.6,263.4 1068.8,268.5 C1067.0,273.6 1064.9,277.1 1060.9,279.4 C1057.0,281.7 1050.3,282.6 1045.1,282.3 C1039.8,282.0 1034.0,280.2 1029.4,277.4 C1024.8,274.6 1021.1,270.5 1017.6,265.6 C1014.1,260.7 1010.7,253.8 1008.7,247.9 C1006.7,242.0 1006.3,235.3 1005.8,230.1 C1005.3,224.8 1004.7,220.0 1005.8,216.4 Z"/></clipPath>
<g clip-path="url(#hc5)">
<rect x="1003.80" y="204.50" width="69.90" height="79.80" fill="#fff" filter="url(#nzw2)" opacity="0.35"/>
<rect x="1003.80" y="204.50" width="69.90" height="79.80" fill="#000" filter="url(#nzk2)" opacity="0.12"/>
</g>
<path d="M1029.4,212.4 C1030.2,210.8 1036.2,212.8 1037.3,214.4 C1038.4,216.1 1035.3,219.7 1036.3,222.3 C1037.3,224.9 1041.7,226.5 1043.2,230.1 C1044.7,233.7 1043.5,239.9 1045.1,243.9 C1046.7,247.9 1050.7,249.7 1053.0,253.8 C1055.3,257.9 1057.6,264.6 1058.9,268.5 C1060.2,272.4 1061.2,276.2 1060.9,277.4 C1060.6,278.5 1058.7,277.7 1057.0,275.4 C1055.3,273.1 1053.6,267.5 1051.0,263.6 C1048.4,259.7 1043.7,256.4 1041.2,251.8 C1038.8,247.2 1037.8,240.6 1036.3,236.0 C1034.8,231.4 1033.4,228.1 1032.3,224.2 C1031.2,220.3 1028.6,214.0 1029.4,212.4 Z" fill="#fdfbfd"/>
<path d="M1015.6,214.4 C1015.1,217.0 1012.8,225.2 1012.6,230.1 C1012.4,235.0 1013.0,239.0 1014.6,243.9 C1016.2,248.8 1021.2,257.1 1022.5,259.7 " fill="none" stroke="#fbf3fa" stroke-width="2.6" stroke-linecap="round"/>
<path d="M1019.5,261.5 C1020.6,262.4 1024.0,265.3 1026.0,267.0 C1028.0,268.7 1030.5,270.8 1031.4,271.5 " fill="none" stroke="#b8507e" stroke-width="1.6" stroke-linecap="round"/>
<path d="M1078.1,225.9 C1076.8,230.1 1077.8,237.8 1079.2,244.3 C1080.6,250.9 1083.3,259.0 1086.2,265.2 C1089.1,271.4 1092.5,276.5 1096.6,281.3 C1100.6,286.1 1105.7,290.5 1110.5,294.0 C1115.3,297.5 1120.3,300.6 1125.5,302.1 C1130.7,303.7 1136.3,303.9 1141.7,303.3 C1147.1,302.7 1153.2,301.2 1157.8,298.7 C1162.4,296.2 1166.7,292.6 1169.4,288.3 C1172.1,284.1 1173.2,278.6 1174.0,273.2 C1174.8,267.8 1174.4,261.5 1174.0,255.9 C1173.6,250.3 1173.2,244.9 1171.7,239.7 C1170.2,234.5 1168.3,228.2 1164.8,224.7 C1161.3,221.2 1155.9,220.8 1150.9,218.9 C1145.9,217.0 1138.6,214.2 1134.7,213.1 C1130.8,211.9 1130.9,212.2 1127.8,212.0 C1124.7,211.8 1120.0,211.8 1116.2,212.0 C1112.4,212.2 1109.5,211.9 1104.7,213.1 C1099.9,214.2 1091.7,216.8 1087.3,218.9 C1082.9,221.0 1079.4,221.7 1078.1,225.9 Z" fill="#d7a8d1" stroke="#c995c3" stroke-width="1.0"/>
<clipPath id="hc6"><path d="M1078.1,225.9 C1076.8,230.1 1077.8,237.8 1079.2,244.3 C1080.6,250.9 1083.3,259.0 1086.2,265.2 C1089.1,271.4 1092.5,276.5 1096.6,281.3 C1100.6,286.1 1105.7,290.5 1110.5,294.0 C1115.3,297.5 1120.3,300.6 1125.5,302.1 C1130.7,303.7 1136.3,303.9 1141.7,303.3 C1147.1,302.7 1153.2,301.2 1157.8,298.7 C1162.4,296.2 1166.7,292.6 1169.4,288.3 C1172.1,284.1 1173.2,278.6 1174.0,273.2 C1174.8,267.8 1174.4,261.5 1174.0,255.9 C1173.6,250.3 1173.2,244.9 1171.7,239.7 C1170.2,234.5 1168.3,228.2 1164.8,224.7 C1161.3,221.2 1155.9,220.8 1150.9,218.9 C1145.9,217.0 1138.6,214.2 1134.7,213.1 C1130.8,211.9 1130.9,212.2 1127.8,212.0 C1124.7,211.8 1120.0,211.8 1116.2,212.0 C1112.4,212.2 1109.5,211.9 1104.7,213.1 C1099.9,214.2 1091.7,216.8 1087.3,218.9 C1082.9,221.0 1079.4,221.7 1078.1,225.9 Z"/></clipPath>
<g clip-path="url(#hc6)">
<rect x="1076.10" y="210.00" width="99.90" height="95.30" fill="#fff" filter="url(#nzw2)" opacity="0.35"/>
<rect x="1076.10" y="210.00" width="99.90" height="95.30" fill="#000" filter="url(#nzk2)" opacity="0.12"/>
</g>
<path d="M1076.9,223.5 C1076.5,221.4 1077.9,214.3 1079.2,209.7 C1080.5,205.1 1081.7,199.5 1085.0,195.8 C1088.3,192.1 1094.1,189.7 1098.9,187.7 C1103.7,185.7 1109.7,184.4 1113.9,183.7 C1118.1,183.0 1121.8,182.8 1124.3,183.7 C1126.8,184.6 1128.9,186.5 1128.9,188.9 C1128.9,191.3 1126.4,195.4 1124.3,198.1 C1122.2,200.8 1119.5,203.1 1116.2,205.0 C1112.9,206.9 1108.6,207.9 1104.7,209.7 C1100.8,211.4 1096.9,213.4 1093.1,215.5 C1089.2,217.6 1084.3,221.1 1081.6,222.4 C1078.9,223.7 1077.3,225.6 1076.9,223.5 Z" fill="#dfbadb" stroke="#c99ac5" stroke-width="0.9"/>
<path d="M1090.0,207.0 C1091.0,205.3 1096.3,201.8 1100.0,200.0 C1103.7,198.2 1109.3,196.2 1112.0,196.0 C1114.7,195.8 1117.0,197.5 1116.0,199.0 C1115.0,200.5 1109.7,203.2 1106.0,205.0 C1102.3,206.8 1096.7,209.7 1094.0,210.0 C1091.3,210.3 1089.0,208.7 1090.0,207.0 Z" fill="#fbf4fb"/>
<path d="M1084.0,214.0 C1084.7,212.8 1088.0,210.8 1089.0,211.0 C1090.0,211.2 1090.7,213.8 1090.0,215.0 C1089.3,216.2 1086.0,218.2 1085.0,218.0 C1084.0,217.8 1083.3,215.2 1084.0,214.0 Z" fill="#fbf4fb"/>
<path d="M1137.0,193.5 C1138.2,190.6 1141.6,190.1 1145.1,188.9 C1148.6,187.8 1153.9,186.2 1157.8,186.6 C1161.7,187.0 1165.5,188.1 1168.2,191.2 C1170.9,194.3 1172.8,200.0 1174.0,205.0 C1175.2,210.0 1175.6,217.1 1175.2,221.2 C1174.8,225.2 1173.4,228.9 1171.7,229.3 C1170.0,229.7 1167.1,225.2 1164.8,223.5 C1162.5,221.8 1161.1,220.6 1157.8,218.9 C1154.5,217.2 1148.4,215.2 1145.1,213.1 C1141.8,211.0 1139.5,209.5 1138.2,206.2 C1136.9,202.9 1135.8,196.4 1137.0,193.5 Z" fill="#d5a5cf" stroke="#c893c2" stroke-width="0.9"/>
<path d="M1162.0,219.0 C1162.7,217.0 1167.9,213.5 1170.0,214.0 C1172.1,214.5 1174.2,219.5 1174.5,222.0 C1174.8,224.5 1173.4,228.3 1172.0,229.0 C1170.6,229.7 1167.7,227.7 1166.0,226.0 C1164.3,224.3 1161.3,221.0 1162.0,219.0 Z" fill="#a0589c"/>
<path d="M1126.0,194.0 C1126.3,192.7 1129.7,190.7 1131.0,191.0 C1132.3,191.3 1134.3,194.7 1134.0,196.0 C1133.7,197.3 1130.3,199.3 1129.0,199.0 C1127.7,198.7 1125.7,195.3 1126.0,194.0 Z" fill="#b8286a"/>
<path d="M1125.5,209.7 C1127.0,209.7 1129.3,209.6 1130.1,213.1 C1130.9,216.6 1128.6,226.8 1130.1,230.5 C1131.6,234.2 1136.6,232.8 1139.3,235.1 C1142.0,237.4 1144.4,240.5 1146.3,244.3 C1148.2,248.2 1150.9,255.1 1150.9,258.2 C1150.9,261.3 1146.5,259.3 1146.3,262.8 C1146.1,266.3 1149.4,274.0 1149.8,279.0 C1150.2,284.0 1149.9,291.7 1148.6,292.9 C1147.2,294.1 1143.8,289.9 1141.7,286.0 C1139.6,282.1 1137.8,275.8 1135.9,269.8 C1134.0,263.8 1131.6,256.3 1130.1,250.1 C1128.5,243.9 1128.1,239.0 1126.6,232.8 C1125.1,226.6 1121.1,216.9 1120.9,213.1 C1120.7,209.2 1124.0,209.7 1125.5,209.7 Z" fill="#fdfbfd"/>
<path d="M1108.1,218.9 C1107.1,220.6 1101.0,224.7 1098.9,228.2 C1096.8,231.7 1095.2,235.1 1095.4,239.7 C1095.6,244.3 1097.7,250.3 1100.0,255.9 C1102.3,261.5 1105.4,267.4 1109.3,273.2 C1113.2,279.0 1121.5,287.5 1123.2,290.6 C1124.9,293.7 1122.6,293.8 1119.7,291.7 C1116.8,289.6 1110.0,283.5 1105.8,277.9 C1101.6,272.3 1096.6,264.6 1094.3,258.2 C1092.0,251.8 1091.6,245.1 1092.0,239.7 C1092.4,234.3 1094.5,229.6 1096.6,225.9 C1098.7,222.2 1102.8,219.0 1104.7,217.8 C1106.6,216.6 1109.1,217.2 1108.1,218.9 Z" fill="#fbf5fb"/>
<path d="M1097.0,235.0 C1097.6,234.1 1100.2,233.8 1101.0,234.5 C1101.8,235.2 1102.1,238.6 1101.5,239.5 C1100.9,240.4 1098.2,240.8 1097.5,240.0 C1096.8,239.2 1096.4,235.9 1097.0,235.0 Z" fill="#b8286a"/>
<line x1="206.70" y1="261.70" x2="220.80" y2="261.70" stroke="#111" stroke-width="1.8"/>
<line x1="594.20" y1="288.30" x2="608.00" y2="288.30" stroke="#111" stroke-width="1.8"/>
<line x1="1000.20" y1="288.20" x2="1014.00" y2="288.20" stroke="#111" stroke-width="1.8"/>
<text transform="translate(7.50 344.00)" font-size="18" font-weight="bold" fill="#111">g</text>
<text transform="translate(403.00 344.70)" font-size="18" font-weight="bold" fill="#111">h</text>
<text transform="translate(807.50 344.70)" font-size="18" font-weight="bold" fill="#111">i</text>
<line x1="25.40" y1="351.90" x2="387.00" y2="351.90" stroke="#666" stroke-width="1.8"/>
<text transform="translate(206.00 345.80) scale(1.035 1)" font-size="16" text-anchor="middle">P7</text>
<line x1="420.80" y1="351.90" x2="781.00" y2="351.90" stroke="#666" stroke-width="1.8"/>
<text transform="translate(601.00 345.80) scale(1.035 1)" font-size="16" text-anchor="middle">P22</text>
<line x1="823.80" y1="351.90" x2="1185.30" y2="351.90" stroke="#666" stroke-width="1.8"/>
<text transform="translate(1004.50 345.80) scale(1.035 1)" font-size="16" text-anchor="middle">P56</text>
<defs>
<linearGradient id="gbar" x1="0" x2="0" y1="0" y2="1"><stop offset="0" stop-color="#ffffff"/><stop offset="0.3" stop-color="#c8c8c8"/><stop offset="0.7" stop-color="#5a5a5a"/><stop offset="1" stop-color="#101010"/></linearGradient>
<filter id="nzw" x="0" y="0" width="1" height="1"><feTurbulence type="fractalNoise" baseFrequency="0.9 0.6" numOctaves="2" seed="4"/><feColorMatrix type="matrix" values="0 0 0 0 1  0 0 0 0 1  0 0 0 0 1  1.6 0 0 0 -0.75"/></filter>
<filter id="nzk" x="0" y="0" width="1" height="1"><feTurbulence type="fractalNoise" baseFrequency="0.8 0.5" numOctaves="2" seed="9"/><feColorMatrix type="matrix" values="0 0 0 0 0  0 0 0 0 0  0 0 0 0 0  1.6 0 0 0 -0.7"/></filter>
<filter id="nzh" x="0" y="0" width="1" height="1"><feTurbulence type="fractalNoise" baseFrequency="0.08 0.7" numOctaves="2" seed="7"/><feColorMatrix type="matrix" values="0 0 0 0 1  0 0 0 0 1  0 0 0 0 1  1.8 0 0 0 -0.85"/></filter>
<filter id="blur1"><feGaussianBlur stdDeviation="0.8"/></filter>
<filter id="blur2"><feGaussianBlur stdDeviation="1.5"/></filter>
</defs>
<rect x="26.00" y="357.70" width="174.20" height="144.90" fill="#1a1915"/>
<rect x="86.70" y="368.10" width="55.10" height="55.20" fill="#1c1c1c"/>
<clipPath id="bc1"><rect x="87.7" y="369.1" width="53.1" height="53.2"/></clipPath>
<g clip-path="url(#bc1)">
<clipPath id="tc2"><path d="M86.7,423.3 L86.7,388.0 L95.0,386.3 L108.7,381.3 L119.8,379.1 L133.5,379.1 L141.8,378.6 L141.8,423.3 Z"/></clipPath>
<path d="M86.7,423.3 L86.7,388.0 L95.0,386.3 L108.7,381.3 L119.8,379.1 L133.5,379.1 L141.8,378.6 L141.8,423.3 Z" fill="#3e3e3e"/>
<g filter="url(#blur2)">
<ellipse cx="97.7" cy="392.9" rx="8.8" ry="5.5" fill="#9a9a9a" opacity="0.8"/>
<ellipse cx="117.0" cy="412.3" rx="9.9" ry="8.3" fill="#7a7a7a" opacity="0.8"/>
<ellipse cx="133.5" cy="395.7" rx="5.5" ry="11.0" fill="#5a5a5a" opacity="0.8"/>
</g>
<g filter="url(#blur1)">
<path d="M86.7,388.0 L95.0,386.3 L108.7,381.3 L119.8,379.1 L133.5,379.1 L141.8,378.6" fill="none" stroke="#c4c4c4" stroke-width="3.2"/>
<ellipse cx="117.0" cy="394.6" rx="7.7" ry="8.1" fill="#2c2c2c"/>
<path d="M108.7,395.7 L117.0,402.3 L125.3,402.3" fill="none" stroke="#d8d8d8" stroke-width="2" stroke-linecap="round"/>
<path d="M111.5,406.7 L114.2,420.5" fill="none" stroke="#8a8a8a" stroke-width="5" stroke-linecap="round"/>
<path d="M120.9,406.7 L123.1,420.5" fill="none" stroke="#8a8a8a" stroke-width="5" stroke-linecap="round"/>
</g>
<g clip-path="url(#tc2)">
<rect x="86.70" y="368.10" width="55.10" height="55.20" fill="#fff" filter="url(#nzw)" opacity="0.16"/>
<rect x="86.70" y="368.10" width="55.10" height="55.20" fill="#000" filter="url(#nzk)" opacity="0.55"/>
</g>
<rect x="86.70" y="368.10" width="55.10" height="55.20" fill="#fff" filter="url(#nzw)" opacity="0.06"/>
</g>
<rect x="87.3" y="368.7" width="53.9" height="54.0" fill="none" stroke="#b0b0b0" stroke-width="1.2"/>
<line x1="141.30" y1="370.10" x2="143.80" y2="370.10" stroke="#d0d0d0" stroke-width="0.8"/>
<line x1="141.30" y1="374.37" x2="143.80" y2="374.37" stroke="#d0d0d0" stroke-width="0.8"/>
<line x1="141.30" y1="378.63" x2="143.80" y2="378.63" stroke="#d0d0d0" stroke-width="0.8"/>
<line x1="141.30" y1="382.90" x2="143.80" y2="382.90" stroke="#d0d0d0" stroke-width="0.8"/>
<line x1="141.30" y1="387.17" x2="143.80" y2="387.17" stroke="#d0d0d0" stroke-width="0.8"/>
<line x1="141.30" y1="391.43" x2="143.80" y2="391.43" stroke="#d0d0d0" stroke-width="0.8"/>
<line x1="141.30" y1="395.70" x2="143.80" y2="395.70" stroke="#d0d0d0" stroke-width="0.8"/>
<line x1="141.30" y1="399.97" x2="143.80" y2="399.97" stroke="#d0d0d0" stroke-width="0.8"/>
<line x1="141.30" y1="404.23" x2="143.80" y2="404.23" stroke="#d0d0d0" stroke-width="0.8"/>
<line x1="141.30" y1="408.50" x2="143.80" y2="408.50" stroke="#d0d0d0" stroke-width="0.8"/>
<line x1="141.30" y1="412.77" x2="143.80" y2="412.77" stroke="#d0d0d0" stroke-width="0.8"/>
<line x1="141.30" y1="417.03" x2="143.80" y2="417.03" stroke="#d0d0d0" stroke-width="0.8"/>
<line x1="141.30" y1="421.30" x2="143.80" y2="421.30" stroke="#d0d0d0" stroke-width="0.8"/>
<rect x="144.60" y="417.80" width="1.80" height="5.00" fill="#f0f0f0"/>
<rect x="27.40" y="436.20" width="4.00" height="48.60" fill="url(#gbar)"/>
<defs><linearGradient id="vg3" gradientUnits="userSpaceOnUse" x1="0" x2="0" y1="439.2" y2="485.8"><stop offset="0.000" stop-color="#e6e6e6"/><stop offset="0.049" stop-color="#d6d6d6"/><stop offset="0.082" stop-color="#9a9a9a"/><stop offset="0.146" stop-color="#6a6a6a"/><stop offset="0.210" stop-color="#454545"/><stop offset="0.361" stop-color="#3a3a3a"/><stop offset="0.554" stop-color="#3c3c3c"/><stop offset="0.661" stop-color="#505050"/><stop offset="0.747" stop-color="#5a5a5a"/><stop offset="0.833" stop-color="#6a6a6a"/><stop offset="0.897" stop-color="#8e8e8e"/><stop offset="0.961" stop-color="#cacaca"/><stop offset="1.000" stop-color="#9a9a9a"/></linearGradient></defs>
<rect x="32.30" y="439.20" width="155.50" height="46.60" fill="url(#vg3)"/>
<clipPath id="mc4"><rect x="32.3" y="439.2" width="155.5" height="46.6"/></clipPath>
<g clip-path="url(#mc4)">
<rect x="32.30" y="439.20" width="155.50" height="46.60" fill="#fff" filter="url(#nzh)" opacity="0.22"/>
<rect x="32.30" y="439.20" width="155.50" height="46.60" fill="#000" filter="url(#nzk)" opacity="0.35"/>
<line x1="32.30" y1="447.70" x2="187.80" y2="447.70" stroke="#efe03c" stroke-width="2.4"/>
<path d="M32.3,453.9 L33.8,452.7 L35.3,451.7 L36.8,451.0 L38.3,450.7 L39.8,450.8 L41.3,451.4 L42.8,452.3 L44.3,453.4 L45.8,454.8 L47.3,454.4 L48.7,453.1 L50.2,452.0 L51.7,451.2 L53.2,450.8 L54.7,450.7 L56.2,451.1 L57.7,451.9 L59.2,453.0 L60.7,454.3 L62.2,454.9 L63.7,453.6 L65.2,452.4 L66.7,451.5 L68.2,450.9 L69.7,450.7 L71.2,450.9 L72.7,451.6 L74.2,452.6 L75.7,453.8 L77.2,455.1 L78.7,454.1 L80.1,452.8 L81.6,451.8 L83.1,451.0 L84.6,450.7 L86.1,450.8 L87.6,451.3 L89.1,452.2 L90.6,453.3 L92.1,454.6 L93.6,454.6 L95.1,453.3 L96.6,452.1 L98.1,451.3 L99.6,450.8 L101.1,450.7 L102.6,451.1 L104.1,451.8 L105.6,452.9 L107.1,454.1 L108.6,455.1 L110.0,453.7 L111.5,452.5 L113.0,451.5 L114.5,450.9 L116.0,450.7 L117.5,450.9 L119.0,451.5 L120.5,452.4 L122.0,453.7 L123.5,455.0 L125.0,454.2 L126.5,452.9 L128.0,451.9 L129.5,451.1 L131.0,450.7 L132.5,450.8 L134.0,451.2 L135.5,452.1 L137.0,453.2 L138.5,454.5 L140.0,454.7 L141.4,453.4 L142.9,452.2 L144.4,451.3 L145.9,450.8 L147.4,450.7 L148.9,451.0 L150.4,451.7 L151.9,452.7 L153.4,454.0 L154.9,455.2 L156.4,453.9 L157.9,452.6 L159.4,451.6 L160.9,451.0 L162.4,450.7 L163.9,450.9 L165.4,451.4 L166.9,452.3 L168.4,453.5 L169.9,454.9 L171.4,454.3 L172.8,453.0 L174.3,452.0 L175.8,451.2 L177.3,450.8 L178.8,450.8 L180.3,451.2 L181.8,452.0 L183.3,453.1 L184.8,454.4 L186.3,454.8 L187.8,453.5" fill="none" stroke="#efe03c" stroke-width="2.3" stroke-linejoin="round" stroke-linecap="round"/>
<path d="M32.3,468.9 L33.8,468.9 L35.3,468.3 L36.8,467.3 L38.3,466.1 L39.8,465.2 L41.3,465.0 L42.8,465.5 L44.3,466.5 L45.8,467.7 L47.3,468.6 L48.7,469.0 L50.2,468.7 L51.7,467.8 L53.2,466.6 L54.7,465.6 L56.2,465.0 L57.7,465.2 L59.2,466.0 L60.7,467.2 L62.2,468.3 L63.7,468.9 L65.2,468.9 L66.7,468.2 L68.2,467.1 L69.7,466.0 L71.2,465.2 L72.7,465.0 L74.2,465.6 L75.7,466.6 L77.2,467.8 L78.7,468.7 L80.1,469.0 L81.6,468.6 L83.1,467.6 L84.6,466.4 L86.1,465.4 L87.6,465.0 L89.1,465.3 L90.6,466.1 L92.1,467.3 L93.6,468.4 L95.1,469.0 L96.6,468.8 L98.1,468.1 L99.6,466.9 L101.1,465.8 L102.6,465.1 L104.1,465.1 L105.6,465.7 L107.1,466.8 L108.6,468.0 L110.0,468.8 L111.5,469.0 L113.0,468.5 L114.5,467.5 L116.0,466.3 L117.5,465.4 L119.0,465.0 L120.5,465.4 L122.0,466.3 L123.5,467.5 L125.0,468.5 L126.5,469.0 L128.0,468.8 L129.5,468.0 L131.0,466.8 L132.5,465.7 L134.0,465.1 L135.5,465.1 L137.0,465.8 L138.5,467.0 L140.0,468.1 L141.4,468.8 L142.9,469.0 L144.4,468.4 L145.9,467.3 L147.4,466.1 L148.9,465.3 L150.4,465.0 L151.9,465.4 L153.4,466.4 L154.9,467.6 L156.4,468.6 L157.9,469.0 L159.4,468.7 L160.9,467.8 L162.4,466.6 L163.9,465.6 L165.4,465.0 L166.9,465.2 L168.4,466.0 L169.9,467.1 L171.4,468.2 L172.8,468.9 L174.3,468.9 L175.8,468.3 L177.3,467.2 L178.8,466.0 L180.3,465.2 L181.8,465.0 L183.3,465.6 L184.8,466.6 L186.3,467.8 L187.8,468.7" fill="none" stroke="#efe03c" stroke-width="2.3" stroke-linejoin="round" stroke-linecap="round"/>
<path d="M32.3,476.4 L33.8,476.0 L35.3,475.4 L36.8,474.7 L38.3,474.1 L39.8,474.0 L41.3,474.3 L42.8,474.9 L44.3,475.6 L45.8,476.2 L47.3,476.4 L48.7,476.2 L50.2,475.7 L51.7,475.0 L53.2,474.3 L54.7,474.0 L56.2,474.1 L57.7,474.6 L59.2,475.3 L60.7,476.0 L62.2,476.3 L63.7,476.3 L65.2,475.9 L66.7,475.3 L68.2,474.6 L69.7,474.1 L71.2,474.0 L72.7,474.3 L74.2,475.0 L75.7,475.7 L77.2,476.2 L78.7,476.4 L80.1,476.2 L81.6,475.6 L83.1,474.9 L84.6,474.3 L86.1,474.0 L87.6,474.2 L89.1,474.7 L90.6,475.4 L92.1,476.0 L93.6,476.4 L95.1,476.3 L96.6,475.9 L98.1,475.2 L99.6,474.5 L101.1,474.1 L102.6,474.0 L104.1,474.4 L105.6,475.1 L107.1,475.8 L108.6,476.3 L110.0,476.4 L111.5,476.1 L113.0,475.5 L114.5,474.8 L116.0,474.2 L117.5,474.0 L119.0,474.2 L120.5,474.8 L122.0,475.5 L123.5,476.1 L125.0,476.4 L126.5,476.3 L128.0,475.8 L129.5,475.1 L131.0,474.4 L132.5,474.0 L134.0,474.1 L135.5,474.5 L137.0,475.2 L138.5,475.9 L140.0,476.3 L141.4,476.4 L142.9,476.0 L144.4,475.4 L145.9,474.7 L147.4,474.2 L148.9,474.0 L150.4,474.3 L151.9,474.9 L153.4,475.6 L154.9,476.2 L156.4,476.4 L157.9,476.2 L159.4,475.7 L160.9,475.0 L162.4,474.4 L163.9,474.0 L165.4,474.1 L166.9,474.6 L168.4,475.3 L169.9,475.9 L171.4,476.3 L172.8,476.4 L174.3,476.0 L175.8,475.3 L177.3,474.6 L178.8,474.1 L180.3,474.0 L181.8,474.3 L183.3,475.0 L184.8,475.7 L186.3,476.2 L187.8,476.4" fill="none" stroke="#efe03c" stroke-width="2.3" stroke-linejoin="round" stroke-linecap="round"/>
</g>
<line x1="32.30" y1="487.60" x2="187.80" y2="487.60" stroke="#cfcfcf" stroke-width="0.9"/>
<line x1="32.30" y1="487.60" x2="32.30" y2="489.80" stroke="#cfcfcf" stroke-width="0.8"/>
<line x1="40.07" y1="487.60" x2="40.07" y2="489.80" stroke="#cfcfcf" stroke-width="0.8"/>
<line x1="47.85" y1="487.60" x2="47.85" y2="489.80" stroke="#cfcfcf" stroke-width="0.8"/>
<line x1="55.62" y1="487.60" x2="55.62" y2="489.80" stroke="#cfcfcf" stroke-width="0.8"/>
<line x1="63.40" y1="487.60" x2="63.40" y2="489.80" stroke="#cfcfcf" stroke-width="0.8"/>
<line x1="71.17" y1="487.60" x2="71.17" y2="489.80" stroke="#cfcfcf" stroke-width="0.8"/>
<line x1="78.95" y1="487.60" x2="78.95" y2="489.80" stroke="#cfcfcf" stroke-width="0.8"/>
<line x1="86.72" y1="487.60" x2="86.72" y2="489.80" stroke="#cfcfcf" stroke-width="0.8"/>
<line x1="94.50" y1="487.60" x2="94.50" y2="489.80" stroke="#cfcfcf" stroke-width="0.8"/>
<line x1="102.27" y1="487.60" x2="102.27" y2="489.80" stroke="#cfcfcf" stroke-width="0.8"/>
<line x1="110.05" y1="487.60" x2="110.05" y2="489.80" stroke="#cfcfcf" stroke-width="0.8"/>
<line x1="117.83" y1="487.60" x2="117.83" y2="489.80" stroke="#cfcfcf" stroke-width="0.8"/>
<line x1="125.60" y1="487.60" x2="125.60" y2="489.80" stroke="#cfcfcf" stroke-width="0.8"/>
<line x1="133.38" y1="487.60" x2="133.38" y2="489.80" stroke="#cfcfcf" stroke-width="0.8"/>
<line x1="141.15" y1="487.60" x2="141.15" y2="489.80" stroke="#cfcfcf" stroke-width="0.8"/>
<line x1="148.93" y1="487.60" x2="148.93" y2="489.80" stroke="#cfcfcf" stroke-width="0.8"/>
<line x1="156.70" y1="487.60" x2="156.70" y2="489.80" stroke="#cfcfcf" stroke-width="0.8"/>
<line x1="164.48" y1="487.60" x2="164.48" y2="489.80" stroke="#cfcfcf" stroke-width="0.8"/>
<line x1="172.25" y1="487.60" x2="172.25" y2="489.80" stroke="#cfcfcf" stroke-width="0.8"/>
<line x1="180.02" y1="487.60" x2="180.02" y2="489.80" stroke="#cfcfcf" stroke-width="0.8"/>
<line x1="187.80" y1="487.60" x2="187.80" y2="489.80" stroke="#cfcfcf" stroke-width="0.8"/>
<rect x="179.80" y="493.10" width="7.50" height="2.20" fill="#f0f0f0"/>
<line x1="189.00" y1="439.20" x2="189.00" y2="485.80" stroke="#cfcfcf" stroke-width="0.8"/>
<line x1="189.00" y1="440.20" x2="191.00" y2="440.20" stroke="#cfcfcf" stroke-width="0.8"/>
<line x1="189.00" y1="446.57" x2="191.00" y2="446.57" stroke="#cfcfcf" stroke-width="0.8"/>
<line x1="189.00" y1="452.94" x2="191.00" y2="452.94" stroke="#cfcfcf" stroke-width="0.8"/>
<line x1="189.00" y1="459.31" x2="191.00" y2="459.31" stroke="#cfcfcf" stroke-width="0.8"/>
<line x1="189.00" y1="465.69" x2="191.00" y2="465.69" stroke="#cfcfcf" stroke-width="0.8"/>
<line x1="189.00" y1="472.06" x2="191.00" y2="472.06" stroke="#cfcfcf" stroke-width="0.8"/>
<line x1="189.00" y1="478.43" x2="191.00" y2="478.43" stroke="#cfcfcf" stroke-width="0.8"/>
<line x1="189.00" y1="484.80" x2="191.00" y2="484.80" stroke="#cfcfcf" stroke-width="0.8"/>
<rect x="193.80" y="477.80" width="2.20" height="7.00" fill="#f0f0f0"/>
<rect x="212.00" y="357.70" width="174.30" height="144.90" fill="#1a1915"/>
<rect x="273.30" y="368.70" width="56.40" height="55.00" fill="#1c1c1c"/>
<clipPath id="bc5"><rect x="274.3" y="369.7" width="54.4" height="53.0"/></clipPath>
<g clip-path="url(#bc5)">
<clipPath id="tc6"><path d="M273.3,423.7 L273.3,391.8 L284.6,387.4 L298.7,383.0 L312.8,380.8 L324.1,379.7 L329.7,379.7 L329.7,423.7 Z"/></clipPath>
<path d="M273.3,423.7 L273.3,391.8 L284.6,387.4 L298.7,383.0 L312.8,380.8 L324.1,379.7 L329.7,379.7 L329.7,423.7 Z" fill="#3e3e3e"/>
<g filter="url(#blur2)">
<ellipse cx="315.6" cy="393.4" rx="8.5" ry="8.2" fill="#6a6a6a" opacity="0.8"/>
<ellipse cx="284.6" cy="401.7" rx="6.8" ry="8.2" fill="#5a5a5a" opacity="0.8"/>
</g>
<g filter="url(#blur1)">
<path d="M273.3,391.8 L284.6,387.4 L298.7,383.0 L312.8,380.8 L324.1,379.7 L329.7,379.7" fill="none" stroke="#c4c4c4" stroke-width="3.2"/>
<ellipse cx="298.7" cy="391.8" rx="6.8" ry="7.1" fill="#2a2a2a"/>
<path d="M290.2,393.4 L293.0,418.2" fill="none" stroke="#bdbdbd" stroke-width="4" stroke-linecap="round"/>
<path d="M298.7,396.2 L300.4,418.2" fill="none" stroke="#a8a8a8" stroke-width="4" stroke-linecap="round"/>
<path d="M304.3,398.9 L307.1,398.9" fill="none" stroke="#c8c8c8" stroke-width="2" stroke-linecap="round"/>
</g>
<g clip-path="url(#tc6)">
<rect x="273.30" y="368.70" width="56.40" height="55.00" fill="#fff" filter="url(#nzw)" opacity="0.16"/>
<rect x="273.30" y="368.70" width="56.40" height="55.00" fill="#000" filter="url(#nzk)" opacity="0.55"/>
</g>
<rect x="273.30" y="368.70" width="56.40" height="55.00" fill="#fff" filter="url(#nzw)" opacity="0.06"/>
</g>
<rect x="273.9" y="369.3" width="55.2" height="53.8" fill="none" stroke="#b0b0b0" stroke-width="1.2"/>
<line x1="329.20" y1="370.70" x2="331.70" y2="370.70" stroke="#d0d0d0" stroke-width="0.8"/>
<line x1="329.20" y1="374.95" x2="331.70" y2="374.95" stroke="#d0d0d0" stroke-width="0.8"/>
<line x1="329.20" y1="379.20" x2="331.70" y2="379.20" stroke="#d0d0d0" stroke-width="0.8"/>
<line x1="329.20" y1="383.45" x2="331.70" y2="383.45" stroke="#d0d0d0" stroke-width="0.8"/>
<line x1="329.20" y1="387.70" x2="331.70" y2="387.70" stroke="#d0d0d0" stroke-width="0.8"/>
<line x1="329.20" y1="391.95" x2="331.70" y2="391.95" stroke="#d0d0d0" stroke-width="0.8"/>
<line x1="329.20" y1="396.20" x2="331.70" y2="396.20" stroke="#d0d0d0" stroke-width="0.8"/>
<line x1="329.20" y1="400.45" x2="331.70" y2="400.45" stroke="#d0d0d0" stroke-width="0.8"/>
<line x1="329.20" y1="404.70" x2="331.70" y2="404.70" stroke="#d0d0d0" stroke-width="0.8"/>
<line x1="329.20" y1="408.95" x2="331.70" y2="408.95" stroke="#d0d0d0" stroke-width="0.8"/>
<line x1="329.20" y1="413.20" x2="331.70" y2="413.20" stroke="#d0d0d0" stroke-width="0.8"/>
<line x1="329.20" y1="417.45" x2="331.70" y2="417.45" stroke="#d0d0d0" stroke-width="0.8"/>
<line x1="329.20" y1="421.70" x2="331.70" y2="421.70" stroke="#d0d0d0" stroke-width="0.8"/>
<rect x="332.50" y="418.20" width="1.80" height="5.00" fill="#f0f0f0"/>
<rect x="214.20" y="433.30" width="3.50" height="51.10" fill="url(#gbar)"/>
<defs><linearGradient id="vg7" gradientUnits="userSpaceOnUse" x1="0" x2="0" y1="436.3" y2="485.4"><stop offset="0.000" stop-color="#d2d2d2"/><stop offset="0.075" stop-color="#bdbdbd"/><stop offset="0.116" stop-color="#8a8a8a"/><stop offset="0.198" stop-color="#4a4a4a"/><stop offset="0.381" stop-color="#3c3c3c"/><stop offset="0.585" stop-color="#3e3e3e"/><stop offset="0.666" stop-color="#8a8a8a"/><stop offset="0.727" stop-color="#b5b5b5"/><stop offset="0.809" stop-color="#a0a0a0"/><stop offset="0.890" stop-color="#c4c4c4"/><stop offset="1.000" stop-color="#b0b0b0"/></linearGradient></defs>
<rect x="218.70" y="436.30" width="155.50" height="49.10" fill="url(#vg7)"/>
<clipPath id="mc8"><rect x="218.7" y="436.3" width="155.5" height="49.1"/></clipPath>
<g clip-path="url(#mc8)">
<rect x="218.70" y="436.30" width="155.50" height="49.10" fill="#fff" filter="url(#nzh)" opacity="0.22"/>
<rect x="218.70" y="436.30" width="155.50" height="49.10" fill="#000" filter="url(#nzk)" opacity="0.35"/>
<line x1="218.70" y1="444.20" x2="374.20" y2="444.20" stroke="#efe03c" stroke-width="2.4"/>
<path d="M218.7,452.1 L220.2,451.3 L221.7,450.7 L223.2,450.2 L224.7,450.0 L226.2,450.1 L227.7,450.5 L229.2,451.1 L230.7,451.8 L232.2,452.6 L233.7,453.3 L235.1,453.9 L236.6,454.2 L238.1,454.2 L239.6,453.9 L241.1,453.4 L242.6,452.7 L244.1,451.9 L245.6,451.1 L247.1,450.5 L248.6,450.1 L250.1,450.0 L251.6,450.2 L253.1,450.6 L254.6,451.3 L256.1,452.0 L257.6,452.8 L259.1,453.5 L260.6,454.0 L262.1,454.2 L263.6,454.1 L265.1,453.8 L266.5,453.2 L268.0,452.4 L269.5,451.7 L271.0,450.9 L272.5,450.4 L274.0,450.1 L275.5,450.0 L277.0,450.3 L278.5,450.8 L280.0,451.5 L281.5,452.3 L283.0,453.0 L284.5,453.6 L286.0,454.1 L287.5,454.2 L289.0,454.0 L290.5,453.6 L292.0,453.0 L293.5,452.2 L295.0,451.4 L296.4,450.8 L297.9,450.3 L299.4,450.0 L300.9,450.1 L302.4,450.4 L303.9,451.0 L305.4,451.7 L306.9,452.5 L308.4,453.2 L309.9,453.8 L311.4,454.1 L312.9,454.2 L314.4,454.0 L315.9,453.5 L317.4,452.8 L318.9,452.0 L320.4,451.2 L321.9,450.6 L323.4,450.2 L324.9,450.0 L326.4,450.1 L327.8,450.5 L329.3,451.2 L330.8,451.9 L332.3,452.7 L333.8,453.4 L335.3,453.9 L336.8,454.2 L338.3,454.2 L339.8,453.8 L341.3,453.3 L342.8,452.6 L344.3,451.8 L345.8,451.0 L347.3,450.5 L348.8,450.1 L350.3,450.0 L351.8,450.2 L353.3,450.7 L354.8,451.4 L356.3,452.1 L357.8,452.9 L359.2,453.6 L360.7,454.0 L362.2,454.2 L363.7,454.1 L365.2,453.7 L366.7,453.1 L368.2,452.4 L369.7,451.6 L371.2,450.9 L372.7,450.3 L374.2,450.0" fill="none" stroke="#efe03c" stroke-width="2.3" stroke-linejoin="round" stroke-linecap="round"/>
<path d="M218.7,459.2 L220.2,460.2 L221.7,461.1 L223.2,461.7 L224.7,462.0 L226.2,461.9 L227.7,461.4 L229.2,460.6 L230.7,459.6 L232.2,458.5 L233.7,457.6 L235.1,456.9 L236.6,456.5 L238.1,456.4 L239.6,456.8 L241.1,457.5 L242.6,458.5 L244.1,459.5 L245.6,460.5 L247.1,461.3 L248.6,461.8 L250.1,462.0 L251.6,461.8 L253.1,461.2 L254.6,460.3 L256.1,459.3 L257.6,458.3 L259.1,457.4 L260.6,456.7 L262.1,456.4 L263.6,456.5 L265.1,457.0 L266.5,457.8 L268.0,458.7 L269.5,459.8 L271.0,460.7 L272.5,461.5 L274.0,461.9 L275.5,462.0 L277.0,461.6 L278.5,461.0 L280.0,460.0 L281.5,459.0 L283.0,458.0 L284.5,457.1 L286.0,456.6 L287.5,456.4 L289.0,456.6 L290.5,457.2 L292.0,458.0 L293.5,459.0 L295.0,460.1 L296.4,461.0 L297.9,461.7 L299.4,462.0 L300.9,461.9 L302.4,461.5 L303.9,460.7 L305.4,459.7 L306.9,458.7 L308.4,457.7 L309.9,457.0 L311.4,456.5 L312.9,456.4 L314.4,456.7 L315.9,457.4 L317.4,458.3 L318.9,459.3 L320.4,460.3 L321.9,461.2 L323.4,461.8 L324.9,462.0 L326.4,461.8 L327.8,461.3 L329.3,460.5 L330.8,459.5 L332.3,458.4 L333.8,457.5 L335.3,456.8 L336.8,456.4 L338.3,456.5 L339.8,456.9 L341.3,457.6 L342.8,458.6 L344.3,459.6 L345.8,460.6 L347.3,461.4 L348.8,461.9 L350.3,462.0 L351.8,461.7 L353.3,461.1 L354.8,460.2 L356.3,459.2 L357.8,458.1 L359.2,457.3 L360.7,456.7 L362.2,456.4 L363.7,456.5 L365.2,457.1 L366.7,457.9 L368.2,458.9 L369.7,459.9 L371.2,460.9 L372.7,461.6 L374.2,462.0" fill="none" stroke="#efe03c" stroke-width="2.3" stroke-linejoin="round" stroke-linecap="round"/>
<path d="M218.7,467.7 L220.2,468.2 L221.7,468.5 L223.2,468.6 L224.7,468.5 L226.2,468.2 L227.7,467.8 L229.2,467.3 L230.7,466.7 L232.2,466.2 L233.7,465.8 L235.1,465.6 L236.6,465.6 L238.1,465.8 L239.6,466.2 L241.1,466.7 L242.6,467.3 L244.1,467.8 L245.6,468.3 L247.1,468.5 L248.6,468.6 L250.1,468.5 L251.6,468.1 L253.1,467.7 L254.6,467.1 L256.1,466.6 L257.6,466.1 L259.1,465.7 L260.6,465.6 L262.1,465.7 L263.6,465.9 L265.1,466.4 L266.5,466.9 L268.0,467.4 L269.5,468.0 L271.0,468.4 L272.5,468.6 L274.0,468.6 L275.5,468.4 L277.0,468.0 L278.5,467.5 L280.0,467.0 L281.5,466.4 L283.0,466.0 L284.5,465.7 L286.0,465.6 L287.5,465.7 L289.0,466.0 L290.5,466.5 L292.0,467.0 L293.5,467.6 L295.0,468.1 L296.4,468.4 L297.9,468.6 L299.4,468.5 L300.9,468.3 L302.4,467.9 L303.9,467.4 L305.4,466.8 L306.9,466.3 L308.4,465.9 L309.9,465.6 L311.4,465.6 L312.9,465.8 L314.4,466.2 L315.9,466.6 L317.4,467.2 L318.9,467.7 L320.4,468.2 L321.9,468.5 L323.4,468.6 L324.9,468.5 L326.4,468.2 L327.8,467.7 L329.3,467.2 L330.8,466.6 L332.3,466.2 L333.8,465.8 L335.3,465.6 L336.8,465.6 L338.3,465.9 L339.8,466.3 L341.3,466.8 L342.8,467.4 L344.3,467.9 L345.8,468.3 L347.3,468.5 L348.8,468.6 L350.3,468.4 L351.8,468.1 L353.3,467.6 L354.8,467.0 L356.3,466.5 L357.8,466.0 L359.2,465.7 L360.7,465.6 L362.2,465.7 L363.7,466.0 L365.2,466.4 L366.7,467.0 L368.2,467.5 L369.7,468.0 L371.2,468.4 L372.7,468.6 L374.2,468.6" fill="none" stroke="#efe03c" stroke-width="2.3" stroke-linejoin="round" stroke-linecap="round"/>
</g>
<line x1="218.70" y1="487.20" x2="374.20" y2="487.20" stroke="#cfcfcf" stroke-width="0.9"/>
<line x1="218.70" y1="487.20" x2="218.70" y2="489.40" stroke="#cfcfcf" stroke-width="0.8"/>
<line x1="226.47" y1="487.20" x2="226.47" y2="489.40" stroke="#cfcfcf" stroke-width="0.8"/>
<line x1="234.25" y1="487.20" x2="234.25" y2="489.40" stroke="#cfcfcf" stroke-width="0.8"/>
<line x1="242.02" y1="487.20" x2="242.02" y2="489.40" stroke="#cfcfcf" stroke-width="0.8"/>
<line x1="249.80" y1="487.20" x2="249.80" y2="489.40" stroke="#cfcfcf" stroke-width="0.8"/>
<line x1="257.57" y1="487.20" x2="257.57" y2="489.40" stroke="#cfcfcf" stroke-width="0.8"/>
<line x1="265.35" y1="487.20" x2="265.35" y2="489.40" stroke="#cfcfcf" stroke-width="0.8"/>
<line x1="273.12" y1="487.20" x2="273.12" y2="489.40" stroke="#cfcfcf" stroke-width="0.8"/>
<line x1="280.90" y1="487.20" x2="280.90" y2="489.40" stroke="#cfcfcf" stroke-width="0.8"/>
<line x1="288.67" y1="487.20" x2="288.67" y2="489.40" stroke="#cfcfcf" stroke-width="0.8"/>
<line x1="296.45" y1="487.20" x2="296.45" y2="489.40" stroke="#cfcfcf" stroke-width="0.8"/>
<line x1="304.23" y1="487.20" x2="304.23" y2="489.40" stroke="#cfcfcf" stroke-width="0.8"/>
<line x1="312.00" y1="487.20" x2="312.00" y2="489.40" stroke="#cfcfcf" stroke-width="0.8"/>
<line x1="319.77" y1="487.20" x2="319.77" y2="489.40" stroke="#cfcfcf" stroke-width="0.8"/>
<line x1="327.55" y1="487.20" x2="327.55" y2="489.40" stroke="#cfcfcf" stroke-width="0.8"/>
<line x1="335.32" y1="487.20" x2="335.32" y2="489.40" stroke="#cfcfcf" stroke-width="0.8"/>
<line x1="343.10" y1="487.20" x2="343.10" y2="489.40" stroke="#cfcfcf" stroke-width="0.8"/>
<line x1="350.88" y1="487.20" x2="350.88" y2="489.40" stroke="#cfcfcf" stroke-width="0.8"/>
<line x1="358.65" y1="487.20" x2="358.65" y2="489.40" stroke="#cfcfcf" stroke-width="0.8"/>
<line x1="366.42" y1="487.20" x2="366.42" y2="489.40" stroke="#cfcfcf" stroke-width="0.8"/>
<line x1="374.20" y1="487.20" x2="374.20" y2="489.40" stroke="#cfcfcf" stroke-width="0.8"/>
<rect x="366.20" y="492.70" width="7.50" height="2.20" fill="#f0f0f0"/>
<line x1="375.40" y1="436.30" x2="375.40" y2="485.40" stroke="#cfcfcf" stroke-width="0.8"/>
<line x1="375.40" y1="437.30" x2="377.40" y2="437.30" stroke="#cfcfcf" stroke-width="0.8"/>
<line x1="375.40" y1="444.03" x2="377.40" y2="444.03" stroke="#cfcfcf" stroke-width="0.8"/>
<line x1="375.40" y1="450.76" x2="377.40" y2="450.76" stroke="#cfcfcf" stroke-width="0.8"/>
<line x1="375.40" y1="457.49" x2="377.40" y2="457.49" stroke="#cfcfcf" stroke-width="0.8"/>
<line x1="375.40" y1="464.21" x2="377.40" y2="464.21" stroke="#cfcfcf" stroke-width="0.8"/>
<line x1="375.40" y1="470.94" x2="377.40" y2="470.94" stroke="#cfcfcf" stroke-width="0.8"/>
<line x1="375.40" y1="477.67" x2="377.40" y2="477.67" stroke="#cfcfcf" stroke-width="0.8"/>
<line x1="375.40" y1="484.40" x2="377.40" y2="484.40" stroke="#cfcfcf" stroke-width="0.8"/>
<rect x="380.20" y="477.40" width="2.20" height="7.00" fill="#f0f0f0"/>
<rect x="421.30" y="357.70" width="174.50" height="144.90" fill="#1a1915"/>
<rect x="478.30" y="369.70" width="55.90" height="54.80" fill="#1c1c1c"/>
<clipPath id="bc9"><rect x="479.3" y="370.7" width="53.9" height="52.8"/></clipPath>
<g clip-path="url(#bc9)">
<clipPath id="tc10"><path d="M478.3,424.5 L478.3,386.1 L495.1,380.7 L511.8,378.5 L534.2,377.9 L534.2,424.5 Z"/></clipPath>
<path d="M478.3,424.5 L478.3,386.1 L495.1,380.7 L511.8,378.5 L534.2,377.9 L534.2,424.5 Z" fill="#3c3c3c"/>
<g filter="url(#blur2)">
<ellipse cx="506.2" cy="383.9" rx="22.4" ry="3.3" fill="#8a8a8a" opacity="0.8"/>
<ellipse cx="486.7" cy="397.1" rx="5.6" ry="8.2" fill="#6a6a6a" opacity="0.8"/>
<ellipse cx="500.7" cy="416.3" rx="14.0" ry="5.5" fill="#5a5a5a" opacity="0.8"/>
</g>
<g filter="url(#blur1)">
<path d="M478.3,386.1 L495.1,380.7 L511.8,378.5 L534.2,377.9" fill="none" stroke="#c4c4c4" stroke-width="4"/>
<ellipse cx="510.2" cy="394.4" rx="8.9" ry="9.4" fill="#2c2c2c"/>
<path d="M486.7,408.1 L497.9,403.7 L511.8,405.3 L520.2,401.5" fill="none" stroke="#cfcfcf" stroke-width="2.2" stroke-linecap="round"/>
<path d="M506.2,408.1 L507.4,421.8" fill="none" stroke="#8a8a8a" stroke-width="4" stroke-linecap="round"/>
</g>
<g clip-path="url(#tc10)">
<rect x="478.30" y="369.70" width="55.90" height="54.80" fill="#fff" filter="url(#nzw)" opacity="0.16"/>
<rect x="478.30" y="369.70" width="55.90" height="54.80" fill="#000" filter="url(#nzk)" opacity="0.55"/>
</g>
<rect x="478.30" y="369.70" width="55.90" height="54.80" fill="#fff" filter="url(#nzw)" opacity="0.06"/>
</g>
<rect x="478.9" y="370.3" width="54.7" height="53.6" fill="none" stroke="#b0b0b0" stroke-width="1.2"/>
<line x1="533.70" y1="371.70" x2="536.20" y2="371.70" stroke="#d0d0d0" stroke-width="0.8"/>
<line x1="533.70" y1="375.93" x2="536.20" y2="375.93" stroke="#d0d0d0" stroke-width="0.8"/>
<line x1="533.70" y1="380.17" x2="536.20" y2="380.17" stroke="#d0d0d0" stroke-width="0.8"/>
<line x1="533.70" y1="384.40" x2="536.20" y2="384.40" stroke="#d0d0d0" stroke-width="0.8"/>
<line x1="533.70" y1="388.63" x2="536.20" y2="388.63" stroke="#d0d0d0" stroke-width="0.8"/>
<line x1="533.70" y1="392.87" x2="536.20" y2="392.87" stroke="#d0d0d0" stroke-width="0.8"/>
<line x1="533.70" y1="397.10" x2="536.20" y2="397.10" stroke="#d0d0d0" stroke-width="0.8"/>
<line x1="533.70" y1="401.33" x2="536.20" y2="401.33" stroke="#d0d0d0" stroke-width="0.8"/>
<line x1="533.70" y1="405.57" x2="536.20" y2="405.57" stroke="#d0d0d0" stroke-width="0.8"/>
<line x1="533.70" y1="409.80" x2="536.20" y2="409.80" stroke="#d0d0d0" stroke-width="0.8"/>
<line x1="533.70" y1="414.03" x2="536.20" y2="414.03" stroke="#d0d0d0" stroke-width="0.8"/>
<line x1="533.70" y1="418.27" x2="536.20" y2="418.27" stroke="#d0d0d0" stroke-width="0.8"/>
<line x1="533.70" y1="422.50" x2="536.20" y2="422.50" stroke="#d0d0d0" stroke-width="0.8"/>
<rect x="537.00" y="419.00" width="1.80" height="5.00" fill="#f0f0f0"/>
<rect x="423.10" y="433.70" width="3.80" height="52.80" fill="url(#gbar)"/>
<defs><linearGradient id="vg11" gradientUnits="userSpaceOnUse" x1="0" x2="0" y1="436.7" y2="487.5"><stop offset="0.000" stop-color="#c4c4c4"/><stop offset="0.055" stop-color="#9a9a9a"/><stop offset="0.144" stop-color="#4a4a4a"/><stop offset="0.222" stop-color="#383838"/><stop offset="0.656" stop-color="#363636"/><stop offset="0.813" stop-color="#3a3a3a"/><stop offset="0.872" stop-color="#4e4e4e"/><stop offset="1.000" stop-color="#2a2a2a"/></linearGradient></defs>
<rect x="427.70" y="436.70" width="152.30" height="50.80" fill="url(#vg11)"/>
<clipPath id="mc12"><rect x="427.7" y="436.7" width="152.3" height="50.8"/></clipPath>
<g clip-path="url(#mc12)">
<rect x="427.70" y="436.70" width="152.30" height="50.80" fill="#fff" filter="url(#nzh)" opacity="0.22"/>
<rect x="427.70" y="436.70" width="152.30" height="50.80" fill="#000" filter="url(#nzk)" opacity="0.35"/>
<line x1="427.70" y1="442.30" x2="580.00" y2="442.30" stroke="#efe03c" stroke-width="2.4"/>
<path d="M427.7,451.0 L429.2,449.6 L430.7,448.5 L432.2,448.0 L433.7,448.0 L435.2,448.5 L436.7,449.5 L438.2,450.8 L439.6,452.4 L441.1,451.8 L442.6,450.2 L444.1,449.0 L445.6,448.2 L447.1,447.9 L448.6,448.1 L450.1,448.9 L451.6,450.1 L453.1,451.6 L454.6,452.6 L456.1,451.0 L457.6,449.6 L459.1,448.6 L460.5,448.0 L462.0,448.0 L463.5,448.5 L465.0,449.4 L466.5,450.8 L468.0,452.4 L469.5,451.8 L471.0,450.3 L472.5,449.0 L474.0,448.2 L475.5,447.9 L477.0,448.1 L478.5,448.9 L480.0,450.1 L481.5,451.5 L482.9,452.6 L484.4,451.0 L485.9,449.6 L487.4,448.6 L488.9,448.0 L490.4,447.9 L491.9,448.4 L493.4,449.4 L494.9,450.8 L496.4,452.3 L497.9,451.8 L499.4,450.3 L500.9,449.1 L502.4,448.2 L503.9,447.9 L505.3,448.1 L506.8,448.9 L508.3,450.0 L509.8,451.5 L511.3,452.7 L512.8,451.0 L514.3,449.6 L515.8,448.6 L517.3,448.0 L518.8,447.9 L520.3,448.4 L521.8,449.4 L523.3,450.7 L524.8,452.3 L526.2,451.9 L527.7,450.3 L529.2,449.1 L530.7,448.2 L532.2,447.9 L533.7,448.1 L535.2,448.8 L536.7,450.0 L538.2,451.5 L539.7,452.7 L541.2,451.1 L542.7,449.7 L544.2,448.6 L545.7,448.0 L547.2,447.9 L548.6,448.4 L550.1,449.4 L551.6,450.7 L553.1,452.3 L554.6,451.9 L556.1,450.4 L557.6,449.1 L559.1,448.2 L560.6,447.9 L562.1,448.1 L563.6,448.8 L565.1,450.0 L566.6,451.4 L568.1,452.7 L569.5,451.1 L571.0,449.7 L572.5,448.6 L574.0,448.0 L575.5,447.9 L577.0,448.4 L578.5,449.3 L580.0,450.7" fill="none" stroke="#efe03c" stroke-width="2.3" stroke-linejoin="round" stroke-linecap="round"/>
<path d="M427.7,466.7 L429.2,468.4 L430.7,469.8 L432.2,470.6 L433.7,470.9 L435.2,470.6 L436.7,469.7 L438.2,468.3 L439.6,466.5 L441.1,465.2 L442.6,467.1 L444.1,468.7 L445.6,470.0 L447.1,470.7 L448.6,470.9 L450.1,470.4 L451.6,469.4 L453.1,467.9 L454.6,466.1 L456.1,465.6 L457.6,467.5 L459.1,469.1 L460.5,470.2 L462.0,470.8 L463.5,470.8 L465.0,470.2 L466.5,469.1 L468.0,467.5 L469.5,465.7 L471.0,466.0 L472.5,467.8 L474.0,469.3 L475.5,470.4 L477.0,470.9 L478.5,470.7 L480.0,470.0 L481.5,468.8 L482.9,467.1 L484.4,465.2 L485.9,466.5 L487.4,468.2 L488.9,469.6 L490.4,470.6 L491.9,470.9 L493.4,470.6 L494.9,469.8 L496.4,468.4 L497.9,466.7 L499.4,465.0 L500.9,466.9 L502.4,468.6 L503.9,469.9 L505.3,470.7 L506.8,470.9 L508.3,470.5 L509.8,469.5 L511.3,468.1 L512.8,466.3 L514.3,465.4 L515.8,467.3 L517.3,468.9 L518.8,470.1 L520.3,470.8 L521.8,470.9 L523.3,470.3 L524.8,469.2 L526.2,467.7 L527.7,465.9 L529.2,465.8 L530.7,467.7 L532.2,469.2 L533.7,470.3 L535.2,470.9 L536.7,470.8 L538.2,470.1 L539.7,468.9 L541.2,467.3 L542.7,465.5 L544.2,466.3 L545.7,468.0 L547.2,469.5 L548.6,470.5 L550.1,470.9 L551.6,470.7 L553.1,469.9 L554.6,468.6 L556.1,466.9 L557.6,465.0 L559.1,466.7 L560.6,468.4 L562.1,469.8 L563.6,470.6 L565.1,470.9 L566.6,470.6 L568.1,469.7 L569.5,468.3 L571.0,466.5 L572.5,465.2 L574.0,467.1 L575.5,468.7 L577.0,470.0 L578.5,470.7 L580.0,470.9" fill="none" stroke="#efe03c" stroke-width="2.3" stroke-linejoin="round" stroke-linecap="round"/>
<path d="M427.7,477.3 L429.2,477.5 L430.7,477.2 L432.2,476.5 L433.7,475.6 L435.2,475.1 L436.7,475.0 L438.2,475.5 L439.6,476.3 L441.1,477.1 L442.6,477.5 L444.1,477.4 L445.6,476.9 L447.1,476.0 L448.6,475.3 L450.1,475.0 L451.6,475.2 L453.1,475.8 L454.6,476.7 L456.1,477.3 L457.6,477.5 L459.1,477.2 L460.5,476.5 L462.0,475.6 L463.5,475.1 L465.0,475.0 L466.5,475.4 L468.0,476.2 L469.5,477.0 L471.0,477.5 L472.5,477.4 L474.0,476.9 L475.5,476.1 L477.0,475.3 L478.5,475.0 L480.0,475.1 L481.5,475.8 L482.9,476.6 L484.4,477.3 L485.9,477.5 L487.4,477.2 L488.9,476.5 L490.4,475.7 L491.9,475.1 L493.4,475.0 L494.9,475.4 L496.4,476.2 L497.9,477.0 L499.4,477.5 L500.9,477.5 L502.4,476.9 L503.9,476.1 L505.3,475.3 L506.8,475.0 L508.3,475.1 L509.8,475.8 L511.3,476.6 L512.8,477.3 L514.3,477.5 L515.8,477.2 L517.3,476.5 L518.8,475.7 L520.3,475.1 L521.8,475.0 L523.3,475.4 L524.8,476.2 L526.2,477.0 L527.7,477.5 L529.2,477.5 L530.7,476.9 L532.2,476.1 L533.7,475.3 L535.2,475.0 L536.7,475.1 L538.2,475.8 L539.7,476.6 L541.2,477.3 L542.7,477.5 L544.2,477.2 L545.7,476.5 L547.2,475.7 L548.6,475.1 L550.1,475.0 L551.6,475.4 L553.1,476.2 L554.6,477.0 L556.1,477.5 L557.6,477.5 L559.1,476.9 L560.6,476.1 L562.1,475.3 L563.6,475.0 L565.1,475.1 L566.6,475.8 L568.1,476.6 L569.5,477.3 L571.0,477.5 L572.5,477.3 L574.0,476.5 L575.5,475.7 L577.0,475.1 L578.5,475.0 L580.0,475.4" fill="none" stroke="#efe03c" stroke-width="2.3" stroke-linejoin="round" stroke-linecap="round"/>
</g>
<line x1="427.70" y1="489.30" x2="580.00" y2="489.30" stroke="#cfcfcf" stroke-width="0.9"/>
<line x1="427.70" y1="489.30" x2="427.70" y2="491.50" stroke="#cfcfcf" stroke-width="0.8"/>
<line x1="435.31" y1="489.30" x2="435.31" y2="491.50" stroke="#cfcfcf" stroke-width="0.8"/>
<line x1="442.93" y1="489.30" x2="442.93" y2="491.50" stroke="#cfcfcf" stroke-width="0.8"/>
<line x1="450.55" y1="489.30" x2="450.55" y2="491.50" stroke="#cfcfcf" stroke-width="0.8"/>
<line x1="458.16" y1="489.30" x2="458.16" y2="491.50" stroke="#cfcfcf" stroke-width="0.8"/>
<line x1="465.77" y1="489.30" x2="465.77" y2="491.50" stroke="#cfcfcf" stroke-width="0.8"/>
<line x1="473.39" y1="489.30" x2="473.39" y2="491.50" stroke="#cfcfcf" stroke-width="0.8"/>
<line x1="481.00" y1="489.30" x2="481.00" y2="491.50" stroke="#cfcfcf" stroke-width="0.8"/>
<line x1="488.62" y1="489.30" x2="488.62" y2="491.50" stroke="#cfcfcf" stroke-width="0.8"/>
<line x1="496.24" y1="489.30" x2="496.24" y2="491.50" stroke="#cfcfcf" stroke-width="0.8"/>
<line x1="503.85" y1="489.30" x2="503.85" y2="491.50" stroke="#cfcfcf" stroke-width="0.8"/>
<line x1="511.47" y1="489.30" x2="511.47" y2="491.50" stroke="#cfcfcf" stroke-width="0.8"/>
<line x1="519.08" y1="489.30" x2="519.08" y2="491.50" stroke="#cfcfcf" stroke-width="0.8"/>
<line x1="526.69" y1="489.30" x2="526.69" y2="491.50" stroke="#cfcfcf" stroke-width="0.8"/>
<line x1="534.31" y1="489.30" x2="534.31" y2="491.50" stroke="#cfcfcf" stroke-width="0.8"/>
<line x1="541.92" y1="489.30" x2="541.92" y2="491.50" stroke="#cfcfcf" stroke-width="0.8"/>
<line x1="549.54" y1="489.30" x2="549.54" y2="491.50" stroke="#cfcfcf" stroke-width="0.8"/>
<line x1="557.15" y1="489.30" x2="557.15" y2="491.50" stroke="#cfcfcf" stroke-width="0.8"/>
<line x1="564.77" y1="489.30" x2="564.77" y2="491.50" stroke="#cfcfcf" stroke-width="0.8"/>
<line x1="572.38" y1="489.30" x2="572.38" y2="491.50" stroke="#cfcfcf" stroke-width="0.8"/>
<line x1="580.00" y1="489.30" x2="580.00" y2="491.50" stroke="#cfcfcf" stroke-width="0.8"/>
<rect x="572.00" y="494.80" width="7.50" height="2.20" fill="#f0f0f0"/>
<line x1="581.20" y1="436.70" x2="581.20" y2="487.50" stroke="#cfcfcf" stroke-width="0.8"/>
<line x1="581.20" y1="437.70" x2="583.20" y2="437.70" stroke="#cfcfcf" stroke-width="0.8"/>
<line x1="581.20" y1="444.67" x2="583.20" y2="444.67" stroke="#cfcfcf" stroke-width="0.8"/>
<line x1="581.20" y1="451.64" x2="583.20" y2="451.64" stroke="#cfcfcf" stroke-width="0.8"/>
<line x1="581.20" y1="458.61" x2="583.20" y2="458.61" stroke="#cfcfcf" stroke-width="0.8"/>
<line x1="581.20" y1="465.59" x2="583.20" y2="465.59" stroke="#cfcfcf" stroke-width="0.8"/>
<line x1="581.20" y1="472.56" x2="583.20" y2="472.56" stroke="#cfcfcf" stroke-width="0.8"/>
<line x1="581.20" y1="479.53" x2="583.20" y2="479.53" stroke="#cfcfcf" stroke-width="0.8"/>
<line x1="581.20" y1="486.50" x2="583.20" y2="486.50" stroke="#cfcfcf" stroke-width="0.8"/>
<rect x="586.00" y="479.50" width="2.20" height="7.00" fill="#f0f0f0"/>
<rect x="606.20" y="357.70" width="174.60" height="144.90" fill="#1a1915"/>
<rect x="723.00" y="366.00" width="10.00" height="62.00" fill="#1f1f1f"/>
<rect x="768.00" y="430.00" width="12.80" height="62.00" fill="#1f1f1f"/>
<rect x="666.70" y="369.20" width="56.30" height="55.30" fill="#1c1c1c"/>
<clipPath id="bc13"><rect x="667.7" y="370.2" width="54.3" height="53.3"/></clipPath>
<g clip-path="url(#bc13)">
<clipPath id="tc14"><path d="M666.7,424.5 L666.7,394.1 L672.3,389.1 L683.6,383.0 L694.9,380.3 L708.9,381.4 L718.5,384.7 L723.0,392.4 L723.0,424.5 Z"/></clipPath>
<path d="M666.7,424.5 L666.7,394.1 L672.3,389.1 L683.6,383.0 L694.9,380.3 L708.9,381.4 L718.5,384.7 L723.0,392.4 L723.0,424.5 Z" fill="#3e3e3e"/>
<g filter="url(#blur2)">
<ellipse cx="694.9" cy="384.1" rx="23.6" ry="3.3" fill="#9a9a9a" opacity="0.8"/>
<ellipse cx="683.6" cy="413.4" rx="16.9" ry="7.7" fill="#8a8a8a" opacity="0.8"/>
<ellipse cx="675.1" cy="394.1" rx="5.6" ry="8.3" fill="#5a5a5a" opacity="0.8"/>
</g>
<g filter="url(#blur1)">
<path d="M666.7,394.1 L672.3,389.1 L683.6,383.0 L694.9,380.3 L708.9,381.4 L718.5,384.7 L723.0,392.4" fill="none" stroke="#c4c4c4" stroke-width="4"/>
<ellipse cx="693.2" cy="396.9" rx="9.0" ry="9.5" fill="#262626"/>
<path d="M669.5,403.5 L683.6,406.8 L693.2,407.9 L701.6,404.0 L705.0,401.3" fill="none" stroke="#d2d2d2" stroke-width="2.5" stroke-linecap="round"/>
<path d="M683.6,409.0 L684.7,421.7" fill="none" stroke="#9a9a9a" stroke-width="5" stroke-linecap="round"/>
</g>
<g clip-path="url(#tc14)">
<rect x="666.70" y="369.20" width="56.30" height="55.30" fill="#fff" filter="url(#nzw)" opacity="0.16"/>
<rect x="666.70" y="369.20" width="56.30" height="55.30" fill="#000" filter="url(#nzk)" opacity="0.55"/>
</g>
<rect x="666.70" y="369.20" width="56.30" height="55.30" fill="#fff" filter="url(#nzw)" opacity="0.06"/>
</g>
<rect x="667.3" y="369.8" width="55.1" height="54.1" fill="none" stroke="#b0b0b0" stroke-width="1.2"/>
<line x1="722.50" y1="371.20" x2="725.00" y2="371.20" stroke="#d0d0d0" stroke-width="0.8"/>
<line x1="722.50" y1="375.47" x2="725.00" y2="375.47" stroke="#d0d0d0" stroke-width="0.8"/>
<line x1="722.50" y1="379.75" x2="725.00" y2="379.75" stroke="#d0d0d0" stroke-width="0.8"/>
<line x1="722.50" y1="384.02" x2="725.00" y2="384.02" stroke="#d0d0d0" stroke-width="0.8"/>
<line x1="722.50" y1="388.30" x2="725.00" y2="388.30" stroke="#d0d0d0" stroke-width="0.8"/>
<line x1="722.50" y1="392.57" x2="725.00" y2="392.57" stroke="#d0d0d0" stroke-width="0.8"/>
<line x1="722.50" y1="396.85" x2="725.00" y2="396.85" stroke="#d0d0d0" stroke-width="0.8"/>
<line x1="722.50" y1="401.12" x2="725.00" y2="401.12" stroke="#d0d0d0" stroke-width="0.8"/>
<line x1="722.50" y1="405.40" x2="725.00" y2="405.40" stroke="#d0d0d0" stroke-width="0.8"/>
<line x1="722.50" y1="409.68" x2="725.00" y2="409.68" stroke="#d0d0d0" stroke-width="0.8"/>
<line x1="722.50" y1="413.95" x2="725.00" y2="413.95" stroke="#d0d0d0" stroke-width="0.8"/>
<line x1="722.50" y1="418.23" x2="725.00" y2="418.23" stroke="#d0d0d0" stroke-width="0.8"/>
<line x1="722.50" y1="422.50" x2="725.00" y2="422.50" stroke="#d0d0d0" stroke-width="0.8"/>
<rect x="725.80" y="419.00" width="1.80" height="5.00" fill="#f0f0f0"/>
<rect x="608.00" y="433.70" width="4.50" height="50.70" fill="url(#gbar)"/>
<defs><linearGradient id="vg15" gradientUnits="userSpaceOnUse" x1="0" x2="0" y1="436.7" y2="485.4"><stop offset="0.000" stop-color="#cacaca"/><stop offset="0.088" stop-color="#a8a8a8"/><stop offset="0.129" stop-color="#6a6a6a"/><stop offset="0.211" stop-color="#414141"/><stop offset="0.684" stop-color="#3d3d3d"/><stop offset="0.766" stop-color="#6a6a6a"/><stop offset="0.828" stop-color="#a8a8a8"/><stop offset="0.910" stop-color="#c8c8c8"/><stop offset="1.000" stop-color="#bcbcbc"/></linearGradient></defs>
<rect x="613.10" y="436.70" width="154.90" height="48.70" fill="url(#vg15)"/>
<clipPath id="mc16"><rect x="613.1" y="436.7" width="154.9" height="48.7"/></clipPath>
<g clip-path="url(#mc16)">
<rect x="613.10" y="436.70" width="154.90" height="48.70" fill="#fff" filter="url(#nzh)" opacity="0.22"/>
<rect x="613.10" y="436.70" width="154.90" height="48.70" fill="#000" filter="url(#nzk)" opacity="0.35"/>
<line x1="613.10" y1="445.00" x2="768.00" y2="445.00" stroke="#efe03c" stroke-width="2.4"/>
<path d="M613.1,458.8 L614.6,459.8 L616.1,460.7 L617.6,461.6 L619.1,462.2 L620.5,462.5 L622.0,462.6 L623.5,462.5 L625.0,462.0 L626.5,461.4 L628.0,460.5 L629.5,459.5 L631.0,458.5 L632.5,457.5 L634.0,456.5 L635.4,455.8 L636.9,455.2 L638.4,454.9 L639.9,454.9 L641.4,455.1 L642.9,455.6 L644.4,456.3 L645.9,457.2 L647.4,458.2 L648.8,459.3 L650.3,460.3 L651.8,461.2 L653.3,461.9 L654.8,462.4 L656.3,462.6 L657.8,462.6 L659.3,462.3 L660.8,461.7 L662.3,461.0 L663.7,460.0 L665.2,459.0 L666.7,458.0 L668.2,457.0 L669.7,456.1 L671.2,455.5 L672.7,455.0 L674.2,454.9 L675.7,455.0 L677.1,455.3 L678.6,455.9 L680.1,456.8 L681.6,457.7 L683.1,458.8 L684.6,459.8 L686.1,460.7 L687.6,461.6 L689.1,462.2 L690.5,462.5 L692.0,462.6 L693.5,462.5 L695.0,462.0 L696.5,461.4 L698.0,460.5 L699.5,459.5 L701.0,458.5 L702.5,457.5 L704.0,456.5 L705.4,455.8 L706.9,455.2 L708.4,454.9 L709.9,454.9 L711.4,455.1 L712.9,455.6 L714.4,456.3 L715.9,457.2 L717.4,458.2 L718.8,459.3 L720.3,460.3 L721.8,461.2 L723.3,461.9 L724.8,462.4 L726.3,462.6 L727.8,462.6 L729.3,462.3 L730.8,461.7 L732.3,461.0 L733.7,460.0 L735.2,459.0 L736.7,458.0 L738.2,457.0 L739.7,456.1 L741.2,455.5 L742.7,455.0 L744.2,454.9 L745.7,455.0 L747.1,455.3 L748.6,455.9 L750.1,456.8 L751.6,457.7 L753.1,458.8 L754.6,459.8 L756.1,460.7 L757.6,461.6 L759.1,462.2 L760.6,462.5 L762.0,462.6 L763.5,462.5 L765.0,462.0 L766.5,461.4 L768.0,460.5 L768.0,457.0 L766.5,456.1 L765.0,455.5 L763.5,455.0 L762.0,454.9 L760.6,455.0 L759.1,455.3 L757.6,455.9 L756.1,456.8 L754.6,457.7 L753.1,458.7 L751.6,459.8 L750.1,460.7 L748.6,461.6 L747.1,462.2 L745.7,462.5 L744.2,462.6 L742.7,462.5 L741.2,462.0 L739.7,461.4 L738.2,460.5 L736.7,459.5 L735.2,458.5 L733.7,457.5 L732.3,456.5 L730.8,455.8 L729.3,455.2 L727.8,454.9 L726.3,454.9 L724.8,455.1 L723.3,455.6 L721.8,456.3 L720.3,457.2 L718.8,458.2 L717.4,459.3 L715.9,460.3 L714.4,461.2 L712.9,461.9 L711.4,462.4 L709.9,462.6 L708.4,462.6 L706.9,462.3 L705.4,461.7 L704.0,461.0 L702.5,460.0 L701.0,459.0 L699.5,458.0 L698.0,457.0 L696.5,456.1 L695.0,455.5 L693.5,455.0 L692.0,454.9 L690.5,455.0 L689.1,455.3 L687.6,455.9 L686.1,456.8 L684.6,457.7 L683.1,458.7 L681.6,459.8 L680.1,460.7 L678.6,461.6 L677.1,462.2 L675.7,462.5 L674.2,462.6 L672.7,462.5 L671.2,462.0 L669.7,461.4 L668.2,460.5 L666.7,459.5 L665.2,458.5 L663.7,457.5 L662.3,456.5 L660.8,455.8 L659.3,455.2 L657.8,454.9 L656.3,454.9 L654.8,455.1 L653.3,455.6 L651.8,456.3 L650.3,457.2 L648.8,458.2 L647.4,459.3 L645.9,460.3 L644.4,461.2 L642.9,461.9 L641.4,462.4 L639.9,462.6 L638.4,462.6 L636.9,462.3 L635.4,461.7 L634.0,461.0 L632.5,460.0 L631.0,459.0 L629.5,458.0 L628.0,457.0 L626.5,456.1 L625.0,455.5 L623.5,455.0 L622.0,454.9 L620.5,455.0 L619.1,455.3 L617.6,455.9 L616.1,456.8 L614.6,457.7 L613.1,458.8 Z" fill="#1a1a1a" fill-rule="evenodd"/>
<path d="M613.1,458.8 L614.6,459.8 L616.1,460.7 L617.6,461.6 L619.1,462.2 L620.5,462.5 L622.0,462.6 L623.5,462.5 L625.0,462.0 L626.5,461.4 L628.0,460.5 L629.5,459.5 L631.0,458.5 L632.5,457.5 L634.0,456.5 L635.4,455.8 L636.9,455.2 L638.4,454.9 L639.9,454.9 L641.4,455.1 L642.9,455.6 L644.4,456.3 L645.9,457.2 L647.4,458.2 L648.8,459.3 L650.3,460.3 L651.8,461.2 L653.3,461.9 L654.8,462.4 L656.3,462.6 L657.8,462.6 L659.3,462.3 L660.8,461.7 L662.3,461.0 L663.7,460.0 L665.2,459.0 L666.7,458.0 L668.2,457.0 L669.7,456.1 L671.2,455.5 L672.7,455.0 L674.2,454.9 L675.7,455.0 L677.1,455.3 L678.6,455.9 L680.1,456.8 L681.6,457.7 L683.1,458.8 L684.6,459.8 L686.1,460.7 L687.6,461.6 L689.1,462.2 L690.5,462.5 L692.0,462.6 L693.5,462.5 L695.0,462.0 L696.5,461.4 L698.0,460.5 L699.5,459.5 L701.0,458.5 L702.5,457.5 L704.0,456.5 L705.4,455.8 L706.9,455.2 L708.4,454.9 L709.9,454.9 L711.4,455.1 L712.9,455.6 L714.4,456.3 L715.9,457.2 L717.4,458.2 L718.8,459.3 L720.3,460.3 L721.8,461.2 L723.3,461.9 L724.8,462.4 L726.3,462.6 L727.8,462.6 L729.3,462.3 L730.8,461.7 L732.3,461.0 L733.7,460.0 L735.2,459.0 L736.7,458.0 L738.2,457.0 L739.7,456.1 L741.2,455.5 L742.7,455.0 L744.2,454.9 L745.7,455.0 L747.1,455.3 L748.6,455.9 L750.1,456.8 L751.6,457.7 L753.1,458.8 L754.6,459.8 L756.1,460.7 L757.6,461.6 L759.1,462.2 L760.6,462.5 L762.0,462.6 L763.5,462.5 L765.0,462.0 L766.5,461.4 L768.0,460.5" fill="none" stroke="#efe03c" stroke-width="2.3" stroke-linejoin="round"/>
<path d="M613.1,458.8 L614.6,457.7 L616.1,456.8 L617.6,455.9 L619.1,455.3 L620.5,455.0 L622.0,454.9 L623.5,455.0 L625.0,455.5 L626.5,456.1 L628.0,457.0 L629.5,458.0 L631.0,459.0 L632.5,460.0 L634.0,461.0 L635.4,461.7 L636.9,462.3 L638.4,462.6 L639.9,462.6 L641.4,462.4 L642.9,461.9 L644.4,461.2 L645.9,460.3 L647.4,459.3 L648.8,458.2 L650.3,457.2 L651.8,456.3 L653.3,455.6 L654.8,455.1 L656.3,454.9 L657.8,454.9 L659.3,455.2 L660.8,455.8 L662.3,456.5 L663.7,457.5 L665.2,458.5 L666.7,459.5 L668.2,460.5 L669.7,461.4 L671.2,462.0 L672.7,462.5 L674.2,462.6 L675.7,462.5 L677.1,462.2 L678.6,461.6 L680.1,460.7 L681.6,459.8 L683.1,458.7 L684.6,457.7 L686.1,456.8 L687.6,455.9 L689.1,455.3 L690.5,455.0 L692.0,454.9 L693.5,455.0 L695.0,455.5 L696.5,456.1 L698.0,457.0 L699.5,458.0 L701.0,459.0 L702.5,460.0 L704.0,461.0 L705.4,461.7 L706.9,462.3 L708.4,462.6 L709.9,462.6 L711.4,462.4 L712.9,461.9 L714.4,461.2 L715.9,460.3 L717.4,459.3 L718.8,458.2 L720.3,457.2 L721.8,456.3 L723.3,455.6 L724.8,455.1 L726.3,454.9 L727.8,454.9 L729.3,455.2 L730.8,455.8 L732.3,456.5 L733.7,457.5 L735.2,458.5 L736.7,459.5 L738.2,460.5 L739.7,461.4 L741.2,462.0 L742.7,462.5 L744.2,462.6 L745.7,462.5 L747.1,462.2 L748.6,461.6 L750.1,460.7 L751.6,459.8 L753.1,458.7 L754.6,457.7 L756.1,456.8 L757.6,455.9 L759.1,455.3 L760.6,455.0 L762.0,454.9 L763.5,455.0 L765.0,455.5 L766.5,456.1 L768.0,457.0" fill="none" stroke="#efe03c" stroke-width="2.3" stroke-linejoin="round"/>
<path d="M613.1,476.5 L614.6,476.9 L616.1,477.0 L617.6,476.8 L619.1,476.3 L620.5,475.6 L622.0,475.1 L623.5,474.7 L625.0,474.6 L626.5,474.9 L628.0,475.4 L629.5,476.0 L631.0,476.6 L632.5,476.9 L634.0,477.0 L635.4,476.7 L636.9,476.1 L638.4,475.5 L639.9,474.9 L641.4,474.6 L642.9,474.7 L644.4,475.0 L645.9,475.6 L647.4,476.2 L648.8,476.7 L650.3,477.0 L651.8,476.9 L653.3,476.5 L654.8,476.0 L656.3,475.3 L657.8,474.8 L659.3,474.6 L660.8,474.7 L662.3,475.1 L663.7,475.7 L665.2,476.3 L666.7,476.8 L668.2,477.0 L669.7,476.9 L671.2,476.4 L672.7,475.8 L674.2,475.2 L675.7,474.7 L677.1,474.6 L678.6,474.8 L680.1,475.3 L681.6,475.9 L683.1,476.5 L684.6,476.9 L686.1,477.0 L687.6,476.8 L689.1,476.3 L690.5,475.6 L692.0,475.1 L693.5,474.7 L695.0,474.6 L696.5,474.9 L698.0,475.4 L699.5,476.0 L701.0,476.6 L702.5,476.9 L704.0,477.0 L705.4,476.7 L706.9,476.1 L708.4,475.5 L709.9,474.9 L711.4,474.6 L712.9,474.7 L714.4,475.0 L715.9,475.6 L717.4,476.2 L718.8,476.7 L720.3,477.0 L721.8,476.9 L723.3,476.5 L724.8,476.0 L726.3,475.3 L727.8,474.8 L729.3,474.6 L730.8,474.7 L732.3,475.1 L733.7,475.7 L735.2,476.3 L736.7,476.8 L738.2,477.0 L739.7,476.9 L741.2,476.4 L742.7,475.8 L744.2,475.2 L745.7,474.7 L747.1,474.6 L748.6,474.8 L750.1,475.3 L751.6,475.9 L753.1,476.5 L754.6,476.9 L756.1,477.0 L757.6,476.8 L759.1,476.3 L760.6,475.6 L762.0,475.1 L763.5,474.7 L765.0,474.6 L766.5,474.9 L768.0,475.4" fill="none" stroke="#efe03c" stroke-width="2.3" stroke-linejoin="round" stroke-linecap="round"/>
</g>
<line x1="613.10" y1="487.20" x2="768.00" y2="487.20" stroke="#cfcfcf" stroke-width="0.9"/>
<line x1="613.10" y1="487.20" x2="613.10" y2="489.40" stroke="#cfcfcf" stroke-width="0.8"/>
<line x1="620.85" y1="487.20" x2="620.85" y2="489.40" stroke="#cfcfcf" stroke-width="0.8"/>
<line x1="628.59" y1="487.20" x2="628.59" y2="489.40" stroke="#cfcfcf" stroke-width="0.8"/>
<line x1="636.34" y1="487.20" x2="636.34" y2="489.40" stroke="#cfcfcf" stroke-width="0.8"/>
<line x1="644.08" y1="487.20" x2="644.08" y2="489.40" stroke="#cfcfcf" stroke-width="0.8"/>
<line x1="651.83" y1="487.20" x2="651.83" y2="489.40" stroke="#cfcfcf" stroke-width="0.8"/>
<line x1="659.57" y1="487.20" x2="659.57" y2="489.40" stroke="#cfcfcf" stroke-width="0.8"/>
<line x1="667.32" y1="487.20" x2="667.32" y2="489.40" stroke="#cfcfcf" stroke-width="0.8"/>
<line x1="675.06" y1="487.20" x2="675.06" y2="489.40" stroke="#cfcfcf" stroke-width="0.8"/>
<line x1="682.81" y1="487.20" x2="682.81" y2="489.40" stroke="#cfcfcf" stroke-width="0.8"/>
<line x1="690.55" y1="487.20" x2="690.55" y2="489.40" stroke="#cfcfcf" stroke-width="0.8"/>
<line x1="698.29" y1="487.20" x2="698.29" y2="489.40" stroke="#cfcfcf" stroke-width="0.8"/>
<line x1="706.04" y1="487.20" x2="706.04" y2="489.40" stroke="#cfcfcf" stroke-width="0.8"/>
<line x1="713.78" y1="487.20" x2="713.78" y2="489.40" stroke="#cfcfcf" stroke-width="0.8"/>
<line x1="721.53" y1="487.20" x2="721.53" y2="489.40" stroke="#cfcfcf" stroke-width="0.8"/>
<line x1="729.27" y1="487.20" x2="729.27" y2="489.40" stroke="#cfcfcf" stroke-width="0.8"/>
<line x1="737.02" y1="487.20" x2="737.02" y2="489.40" stroke="#cfcfcf" stroke-width="0.8"/>
<line x1="744.76" y1="487.20" x2="744.76" y2="489.40" stroke="#cfcfcf" stroke-width="0.8"/>
<line x1="752.51" y1="487.20" x2="752.51" y2="489.40" stroke="#cfcfcf" stroke-width="0.8"/>
<line x1="760.25" y1="487.20" x2="760.25" y2="489.40" stroke="#cfcfcf" stroke-width="0.8"/>
<line x1="768.00" y1="487.20" x2="768.00" y2="489.40" stroke="#cfcfcf" stroke-width="0.8"/>
<rect x="760.00" y="492.70" width="7.50" height="2.20" fill="#f0f0f0"/>
<line x1="769.20" y1="436.70" x2="769.20" y2="485.40" stroke="#cfcfcf" stroke-width="0.8"/>
<line x1="769.20" y1="437.70" x2="771.20" y2="437.70" stroke="#cfcfcf" stroke-width="0.8"/>
<line x1="769.20" y1="444.37" x2="771.20" y2="444.37" stroke="#cfcfcf" stroke-width="0.8"/>
<line x1="769.20" y1="451.04" x2="771.20" y2="451.04" stroke="#cfcfcf" stroke-width="0.8"/>
<line x1="769.20" y1="457.71" x2="771.20" y2="457.71" stroke="#cfcfcf" stroke-width="0.8"/>
<line x1="769.20" y1="464.39" x2="771.20" y2="464.39" stroke="#cfcfcf" stroke-width="0.8"/>
<line x1="769.20" y1="471.06" x2="771.20" y2="471.06" stroke="#cfcfcf" stroke-width="0.8"/>
<line x1="769.20" y1="477.73" x2="771.20" y2="477.73" stroke="#cfcfcf" stroke-width="0.8"/>
<line x1="769.20" y1="484.40" x2="771.20" y2="484.40" stroke="#cfcfcf" stroke-width="0.8"/>
<rect x="774.00" y="477.40" width="2.20" height="7.00" fill="#f0f0f0"/>
<rect x="823.70" y="357.70" width="174.30" height="144.90" fill="#1a1915"/>
<rect x="937.70" y="367.00" width="8.30" height="61.00" fill="#1f1f1f"/>
<rect x="983.00" y="430.00" width="15.00" height="62.00" fill="#1f1f1f"/>
<rect x="881.20" y="370.00" width="56.50" height="55.00" fill="#1c1c1c"/>
<clipPath id="bc17"><rect x="882.2" y="371.0" width="54.5" height="53.0"/></clipPath>
<g clip-path="url(#bc17)">
<clipPath id="tc18"><path d="M881.2,425 L881.2,375.5 L909.5,373.3 L937.7,375.5 L937.7,425 Z"/></clipPath>
<path d="M881.2,425 L881.2,375.5 L909.5,373.3 L937.7,375.5 L937.7,425 Z" fill="#363636"/>
<g filter="url(#blur2)">
<ellipse cx="909.5" cy="377.7" rx="23.7" ry="3.9" fill="#a0a0a0" opacity="0.9"/>
<ellipse cx="892.5" cy="403.0" rx="5.7" ry="11.0" fill="#7a7a7a" opacity="0.8"/>
<ellipse cx="926.4" cy="389.2" rx="6.8" ry="5.5" fill="#707070" opacity="0.7"/>
</g>
<g filter="url(#blur1)">
<path d="M881.2,375.5 L909.5,373.3 L937.7,375.5" fill="none" stroke="#8a8a8a" stroke-width="6"/>
<ellipse cx="909.5" cy="397.5" rx="10.7" ry="11.3" fill="#1e1e1e"/>
<path d="M895.3,403.0 L906.6,412.9 L917.9,411.2" fill="none" stroke="#bdbdbd" stroke-width="2.5" stroke-linecap="round"/>
<path d="M906.6,414.0 L907.8,423.9" fill="none" stroke="#8a8a8a" stroke-width="4" stroke-linecap="round"/>
</g>
<g clip-path="url(#tc18)">
<rect x="881.20" y="370.00" width="56.50" height="55.00" fill="#fff" filter="url(#nzw)" opacity="0.16"/>
<rect x="881.20" y="370.00" width="56.50" height="55.00" fill="#000" filter="url(#nzk)" opacity="0.55"/>
</g>
<rect x="881.20" y="370.00" width="56.50" height="55.00" fill="#fff" filter="url(#nzw)" opacity="0.06"/>
</g>
<rect x="881.8" y="370.6" width="55.3" height="53.8" fill="none" stroke="#b0b0b0" stroke-width="1.2"/>
<line x1="937.20" y1="372.00" x2="939.70" y2="372.00" stroke="#d0d0d0" stroke-width="0.8"/>
<line x1="937.20" y1="376.25" x2="939.70" y2="376.25" stroke="#d0d0d0" stroke-width="0.8"/>
<line x1="937.20" y1="380.50" x2="939.70" y2="380.50" stroke="#d0d0d0" stroke-width="0.8"/>
<line x1="937.20" y1="384.75" x2="939.70" y2="384.75" stroke="#d0d0d0" stroke-width="0.8"/>
<line x1="937.20" y1="389.00" x2="939.70" y2="389.00" stroke="#d0d0d0" stroke-width="0.8"/>
<line x1="937.20" y1="393.25" x2="939.70" y2="393.25" stroke="#d0d0d0" stroke-width="0.8"/>
<line x1="937.20" y1="397.50" x2="939.70" y2="397.50" stroke="#d0d0d0" stroke-width="0.8"/>
<line x1="937.20" y1="401.75" x2="939.70" y2="401.75" stroke="#d0d0d0" stroke-width="0.8"/>
<line x1="937.20" y1="406.00" x2="939.70" y2="406.00" stroke="#d0d0d0" stroke-width="0.8"/>
<line x1="937.20" y1="410.25" x2="939.70" y2="410.25" stroke="#d0d0d0" stroke-width="0.8"/>
<line x1="937.20" y1="414.50" x2="939.70" y2="414.50" stroke="#d0d0d0" stroke-width="0.8"/>
<line x1="937.20" y1="418.75" x2="939.70" y2="418.75" stroke="#d0d0d0" stroke-width="0.8"/>
<line x1="937.20" y1="423.00" x2="939.70" y2="423.00" stroke="#d0d0d0" stroke-width="0.8"/>
<rect x="940.50" y="419.50" width="1.80" height="5.00" fill="#f0f0f0"/>
<rect x="826.30" y="433.70" width="4.00" height="51.10" fill="url(#gbar)"/>
<defs><linearGradient id="vg19" gradientUnits="userSpaceOnUse" x1="0" x2="0" y1="436.7" y2="485.8"><stop offset="0.000" stop-color="#a0a0a0"/><stop offset="0.057" stop-color="#6a6a6a"/><stop offset="0.128" stop-color="#2c2c2c"/><stop offset="0.780" stop-color="#252525"/><stop offset="1.000" stop-color="#232323"/></linearGradient></defs>
<rect x="831.10" y="436.70" width="151.90" height="49.10" fill="url(#vg19)"/>
<clipPath id="mc20"><rect x="831.1" y="436.7" width="151.9" height="49.1"/></clipPath>
<g clip-path="url(#mc20)">
<rect x="831.10" y="436.70" width="151.90" height="49.10" fill="#fff" filter="url(#nzh)" opacity="0.22"/>
<rect x="831.10" y="436.70" width="151.90" height="49.10" fill="#000" filter="url(#nzk)" opacity="0.35"/>
<rect x="831.10" y="481.00" width="151.90" height="5.00" fill="#8a8a8a" filter="url(#blur2)" opacity="0.7"/>
<line x1="831.10" y1="441.70" x2="983.00" y2="441.70" stroke="#efe03c" stroke-width="2.4"/>
<path d="M831.1,452.0 L832.6,450.3 L834.1,449.0 L835.6,448.1 L837.1,447.9 L838.5,448.3 L840.0,449.3 L841.5,450.7 L843.0,452.5 L844.5,453.0 L846.0,451.2 L847.5,449.6 L849.0,448.5 L850.5,447.9 L851.9,448.0 L853.4,448.7 L854.9,449.9 L856.4,451.5 L857.9,453.4 L859.4,452.1 L860.9,450.4 L862.4,449.0 L863.9,448.2 L865.4,447.9 L866.8,448.3 L868.3,449.2 L869.8,450.6 L871.3,452.4 L872.8,453.1 L874.3,451.3 L875.8,449.7 L877.3,448.6 L878.8,448.0 L880.2,448.0 L881.7,448.6 L883.2,449.8 L884.7,451.4 L886.2,453.3 L887.7,452.2 L889.2,450.5 L890.7,449.1 L892.2,448.2 L893.6,447.9 L895.1,448.2 L896.6,449.1 L898.1,450.5 L899.6,452.3 L901.1,453.3 L902.6,451.4 L904.1,449.8 L905.6,448.6 L907.0,448.0 L908.5,448.0 L910.0,448.6 L911.5,449.7 L913.0,451.3 L914.5,453.1 L916.0,452.4 L917.5,450.6 L919.0,449.2 L920.5,448.3 L921.9,447.9 L923.4,448.2 L924.9,449.0 L926.4,450.4 L927.9,452.1 L929.4,453.4 L930.9,451.5 L932.4,449.9 L933.9,448.7 L935.3,448.0 L936.8,447.9 L938.3,448.5 L939.8,449.6 L941.3,451.2 L942.8,453.0 L944.3,452.5 L945.8,450.7 L947.3,449.3 L948.7,448.3 L950.2,447.9 L951.7,448.1 L953.2,449.0 L954.7,450.3 L956.2,452.0 L957.7,453.5 L959.2,451.7 L960.7,450.0 L962.2,448.8 L963.6,448.0 L965.1,447.9 L966.6,448.4 L968.1,449.5 L969.6,451.0 L971.1,452.9 L972.6,452.6 L974.1,450.9 L975.6,449.4 L977.0,448.4 L978.5,447.9 L980.0,448.1 L981.5,448.9 L983.0,450.2" fill="none" stroke="#efe03c" stroke-width="2.3" stroke-linejoin="round" stroke-linecap="round"/>
<path d="M831.1,470.6 L832.6,472.2 L834.1,473.5 L835.6,474.2 L837.1,474.2 L838.5,473.6 L840.0,472.4 L841.5,470.8 L843.0,468.9 L844.5,469.6 L846.0,471.4 L847.5,472.9 L849.0,473.9 L850.5,474.2 L851.9,474.0 L853.4,473.1 L854.9,471.7 L856.4,469.9 L857.9,468.5 L859.4,470.5 L860.9,472.1 L862.4,473.4 L863.9,474.1 L865.4,474.2 L866.8,473.6 L868.3,472.5 L869.8,470.9 L871.3,469.0 L872.8,469.4 L874.3,471.3 L875.8,472.8 L877.3,473.8 L878.8,474.2 L880.2,474.0 L881.7,473.2 L883.2,471.8 L884.7,470.1 L886.2,468.4 L887.7,470.3 L889.2,472.0 L890.7,473.3 L892.2,474.1 L893.6,474.2 L895.1,473.7 L896.6,472.6 L898.1,471.0 L899.6,469.2 L901.1,469.3 L902.6,471.2 L904.1,472.7 L905.6,473.8 L907.0,474.2 L908.5,474.1 L910.0,473.3 L911.5,471.9 L913.0,470.2 L914.5,468.3 L916.0,470.2 L917.5,471.9 L919.0,473.3 L920.5,474.1 L921.9,474.2 L923.4,473.8 L924.9,472.7 L926.4,471.2 L927.9,469.3 L929.4,469.2 L930.9,471.0 L932.4,472.6 L933.9,473.7 L935.3,474.2 L936.8,474.1 L938.3,473.3 L939.8,472.0 L941.3,470.3 L942.8,468.4 L944.3,470.1 L945.8,471.8 L947.3,473.2 L948.7,474.0 L950.2,474.2 L951.7,473.8 L953.2,472.8 L954.7,471.3 L956.2,469.4 L957.7,469.0 L959.2,470.9 L960.7,472.5 L962.2,473.6 L963.6,474.2 L965.1,474.1 L966.6,473.4 L968.1,472.1 L969.6,470.4 L971.1,468.5 L972.6,469.9 L974.1,471.7 L975.6,473.1 L977.0,474.0 L978.5,474.2 L980.0,473.9 L981.5,472.9 L983.0,471.4" fill="none" stroke="#efe03c" stroke-width="2.3" stroke-linejoin="round" stroke-linecap="round"/>
<path d="M831.1,482.7 L832.6,482.7 L834.1,482.0 L835.6,480.7 L837.1,479.5 L838.5,478.8 L840.0,479.0 L841.5,479.9 L843.0,481.2 L844.5,482.3 L846.0,482.8 L847.5,482.5 L849.0,481.4 L850.5,480.1 L851.9,479.1 L853.4,478.8 L854.9,479.3 L856.4,480.5 L857.9,481.7 L859.4,482.6 L860.9,482.7 L862.4,482.0 L863.9,480.8 L865.4,479.6 L866.8,478.9 L868.3,479.0 L869.8,479.8 L871.3,481.1 L872.8,482.2 L874.3,482.8 L875.8,482.5 L877.3,481.5 L878.8,480.2 L880.2,479.2 L881.7,478.8 L883.2,479.3 L884.7,480.4 L886.2,481.7 L887.7,482.6 L889.2,482.8 L890.7,482.1 L892.2,480.9 L893.6,479.7 L895.1,478.9 L896.6,478.9 L898.1,479.7 L899.6,481.0 L901.1,482.2 L902.6,482.8 L904.1,482.6 L905.6,481.6 L907.0,480.3 L908.5,479.2 L910.0,478.8 L911.5,479.2 L913.0,480.3 L914.5,481.6 L916.0,482.5 L917.5,482.8 L919.0,482.2 L920.5,481.0 L921.9,479.7 L923.4,478.9 L924.9,478.9 L926.4,479.7 L927.9,480.9 L929.4,482.1 L930.9,482.8 L932.4,482.6 L933.9,481.7 L935.3,480.4 L936.8,479.3 L938.3,478.8 L939.8,479.2 L941.3,480.2 L942.8,481.5 L944.3,482.5 L945.8,482.8 L947.3,482.2 L948.7,481.1 L950.2,479.8 L951.7,479.0 L953.2,478.9 L954.7,479.6 L956.2,480.8 L957.7,482.0 L959.2,482.7 L960.7,482.6 L962.2,481.8 L963.6,480.5 L965.1,479.3 L966.6,478.8 L968.1,479.1 L969.6,480.1 L971.1,481.4 L972.6,482.4 L974.1,482.8 L975.6,482.3 L977.0,481.2 L978.5,479.9 L980.0,479.0 L981.5,478.8 L983.0,479.5" fill="none" stroke="#efe03c" stroke-width="2.3" stroke-linejoin="round" stroke-linecap="round"/>
</g>
<line x1="831.10" y1="487.60" x2="983.00" y2="487.60" stroke="#cfcfcf" stroke-width="0.9"/>
<line x1="831.10" y1="487.60" x2="831.10" y2="489.80" stroke="#cfcfcf" stroke-width="0.8"/>
<line x1="838.70" y1="487.60" x2="838.70" y2="489.80" stroke="#cfcfcf" stroke-width="0.8"/>
<line x1="846.29" y1="487.60" x2="846.29" y2="489.80" stroke="#cfcfcf" stroke-width="0.8"/>
<line x1="853.88" y1="487.60" x2="853.88" y2="489.80" stroke="#cfcfcf" stroke-width="0.8"/>
<line x1="861.48" y1="487.60" x2="861.48" y2="489.80" stroke="#cfcfcf" stroke-width="0.8"/>
<line x1="869.08" y1="487.60" x2="869.08" y2="489.80" stroke="#cfcfcf" stroke-width="0.8"/>
<line x1="876.67" y1="487.60" x2="876.67" y2="489.80" stroke="#cfcfcf" stroke-width="0.8"/>
<line x1="884.26" y1="487.60" x2="884.26" y2="489.80" stroke="#cfcfcf" stroke-width="0.8"/>
<line x1="891.86" y1="487.60" x2="891.86" y2="489.80" stroke="#cfcfcf" stroke-width="0.8"/>
<line x1="899.46" y1="487.60" x2="899.46" y2="489.80" stroke="#cfcfcf" stroke-width="0.8"/>
<line x1="907.05" y1="487.60" x2="907.05" y2="489.80" stroke="#cfcfcf" stroke-width="0.8"/>
<line x1="914.64" y1="487.60" x2="914.64" y2="489.80" stroke="#cfcfcf" stroke-width="0.8"/>
<line x1="922.24" y1="487.60" x2="922.24" y2="489.80" stroke="#cfcfcf" stroke-width="0.8"/>
<line x1="929.84" y1="487.60" x2="929.84" y2="489.80" stroke="#cfcfcf" stroke-width="0.8"/>
<line x1="937.43" y1="487.60" x2="937.43" y2="489.80" stroke="#cfcfcf" stroke-width="0.8"/>
<line x1="945.02" y1="487.60" x2="945.02" y2="489.80" stroke="#cfcfcf" stroke-width="0.8"/>
<line x1="952.62" y1="487.60" x2="952.62" y2="489.80" stroke="#cfcfcf" stroke-width="0.8"/>
<line x1="960.22" y1="487.60" x2="960.22" y2="489.80" stroke="#cfcfcf" stroke-width="0.8"/>
<line x1="967.81" y1="487.60" x2="967.81" y2="489.80" stroke="#cfcfcf" stroke-width="0.8"/>
<line x1="975.40" y1="487.60" x2="975.40" y2="489.80" stroke="#cfcfcf" stroke-width="0.8"/>
<line x1="983.00" y1="487.60" x2="983.00" y2="489.80" stroke="#cfcfcf" stroke-width="0.8"/>
<rect x="975.00" y="493.10" width="7.50" height="2.20" fill="#f0f0f0"/>
<line x1="984.20" y1="436.70" x2="984.20" y2="485.80" stroke="#cfcfcf" stroke-width="0.8"/>
<line x1="984.20" y1="437.70" x2="986.20" y2="437.70" stroke="#cfcfcf" stroke-width="0.8"/>
<line x1="984.20" y1="444.43" x2="986.20" y2="444.43" stroke="#cfcfcf" stroke-width="0.8"/>
<line x1="984.20" y1="451.16" x2="986.20" y2="451.16" stroke="#cfcfcf" stroke-width="0.8"/>
<line x1="984.20" y1="457.89" x2="986.20" y2="457.89" stroke="#cfcfcf" stroke-width="0.8"/>
<line x1="984.20" y1="464.61" x2="986.20" y2="464.61" stroke="#cfcfcf" stroke-width="0.8"/>
<line x1="984.20" y1="471.34" x2="986.20" y2="471.34" stroke="#cfcfcf" stroke-width="0.8"/>
<line x1="984.20" y1="478.07" x2="986.20" y2="478.07" stroke="#cfcfcf" stroke-width="0.8"/>
<line x1="984.20" y1="484.80" x2="986.20" y2="484.80" stroke="#cfcfcf" stroke-width="0.8"/>
<rect x="989.00" y="477.80" width="2.20" height="7.00" fill="#f0f0f0"/>
<rect x="1010.10" y="357.70" width="174.70" height="144.90" fill="#1a1915"/>
<rect x="1124.40" y="367.00" width="9.60" height="61.00" fill="#1f1f1f"/>
<rect x="1169.70" y="430.00" width="15.10" height="62.00" fill="#1f1f1f"/>
<rect x="1067.80" y="370.30" width="56.60" height="55.40" fill="#1c1c1c"/>
<clipPath id="bc21"><rect x="1068.8" y="371.3" width="54.6" height="53.4"/></clipPath>
<g clip-path="url(#bc21)">
<clipPath id="tc22"><path d="M1067.8,425.7 L1067.8,374.7 L1096.1,373.6 L1124.4,374.7 L1124.4,425.7 Z"/></clipPath>
<path d="M1067.8,425.7 L1067.8,374.7 L1096.1,373.6 L1124.4,374.7 L1124.4,425.7 Z" fill="#3c3c3c"/>
<g filter="url(#blur2)">
<ellipse cx="1096.1" cy="376.9" rx="23.8" ry="3.3" fill="#8a8a8a" opacity="0.8"/>
<ellipse cx="1084.8" cy="398.0" rx="8.5" ry="11.1" fill="#555555" opacity="0.8"/>
</g>
<g filter="url(#blur1)">
<path d="M1067.8,374.7 L1096.1,373.6 L1124.4,374.7" fill="none" stroke="#9a9a9a" stroke-width="5"/>
<ellipse cx="1096.1" cy="395.2" rx="11.3" ry="11.9" fill="#333333"/>
<path d="M1084.8,413.5 L1096.1,414.6 L1104.6,411.9" fill="none" stroke="#cfcfcf" stroke-width="2.2" stroke-linecap="round"/>
<path d="M1096.1,415.7 L1096.1,424.6" fill="none" stroke="#8a8a8a" stroke-width="4" stroke-linecap="round"/>
</g>
<g clip-path="url(#tc22)">
<rect x="1067.80" y="370.30" width="56.60" height="55.40" fill="#fff" filter="url(#nzw)" opacity="0.16"/>
<rect x="1067.80" y="370.30" width="56.60" height="55.40" fill="#000" filter="url(#nzk)" opacity="0.55"/>
</g>
<rect x="1067.80" y="370.30" width="56.60" height="55.40" fill="#fff" filter="url(#nzw)" opacity="0.06"/>
</g>
<rect x="1068.4" y="370.9" width="55.4" height="54.2" fill="none" stroke="#b0b0b0" stroke-width="1.2"/>
<line x1="1123.90" y1="372.30" x2="1126.40" y2="372.30" stroke="#d0d0d0" stroke-width="0.8"/>
<line x1="1123.90" y1="376.58" x2="1126.40" y2="376.58" stroke="#d0d0d0" stroke-width="0.8"/>
<line x1="1123.90" y1="380.87" x2="1126.40" y2="380.87" stroke="#d0d0d0" stroke-width="0.8"/>
<line x1="1123.90" y1="385.15" x2="1126.40" y2="385.15" stroke="#d0d0d0" stroke-width="0.8"/>
<line x1="1123.90" y1="389.43" x2="1126.40" y2="389.43" stroke="#d0d0d0" stroke-width="0.8"/>
<line x1="1123.90" y1="393.72" x2="1126.40" y2="393.72" stroke="#d0d0d0" stroke-width="0.8"/>
<line x1="1123.90" y1="398.00" x2="1126.40" y2="398.00" stroke="#d0d0d0" stroke-width="0.8"/>
<line x1="1123.90" y1="402.28" x2="1126.40" y2="402.28" stroke="#d0d0d0" stroke-width="0.8"/>
<line x1="1123.90" y1="406.57" x2="1126.40" y2="406.57" stroke="#d0d0d0" stroke-width="0.8"/>
<line x1="1123.90" y1="410.85" x2="1126.40" y2="410.85" stroke="#d0d0d0" stroke-width="0.8"/>
<line x1="1123.90" y1="415.13" x2="1126.40" y2="415.13" stroke="#d0d0d0" stroke-width="0.8"/>
<line x1="1123.90" y1="419.42" x2="1126.40" y2="419.42" stroke="#d0d0d0" stroke-width="0.8"/>
<line x1="1123.90" y1="423.70" x2="1126.40" y2="423.70" stroke="#d0d0d0" stroke-width="0.8"/>
<rect x="1127.20" y="420.20" width="1.80" height="5.00" fill="#f0f0f0"/>
<rect x="1013.00" y="434.10" width="3.50" height="51.60" fill="url(#gbar)"/>
<defs><linearGradient id="vg23" gradientUnits="userSpaceOnUse" x1="0" x2="0" y1="437.1" y2="486.7"><stop offset="0.000" stop-color="#9a9a9a"/><stop offset="0.038" stop-color="#7a7a7a"/><stop offset="0.099" stop-color="#575757"/><stop offset="0.361" stop-color="#4a4a4a"/><stop offset="0.623" stop-color="#454545"/><stop offset="0.764" stop-color="#343434"/><stop offset="1.000" stop-color="#2a2a2a"/></linearGradient></defs>
<rect x="1017.50" y="437.10" width="152.20" height="49.60" fill="url(#vg23)"/>
<clipPath id="mc24"><rect x="1017.5" y="437.1" width="152.2" height="49.6"/></clipPath>
<g clip-path="url(#mc24)">
<rect x="1017.50" y="437.10" width="152.20" height="49.60" fill="#fff" filter="url(#nzh)" opacity="0.22"/>
<rect x="1017.50" y="437.10" width="152.20" height="49.60" fill="#000" filter="url(#nzk)" opacity="0.35"/>
<line x1="1017.50" y1="439.30" x2="1169.70" y2="439.30" stroke="#efe03c" stroke-width="2.4"/>
<path d="M1017.5,461.2 L1019.0,462.3 L1020.5,463.4 L1022.0,464.2 L1023.5,464.9 L1025.0,465.3 L1026.5,465.4 L1027.9,465.3 L1029.4,464.9 L1030.9,464.2 L1032.4,463.3 L1033.9,462.3 L1035.4,461.2 L1036.9,460.2 L1038.4,459.1 L1039.9,458.3 L1041.4,457.6 L1042.9,457.2 L1044.4,457.1 L1045.9,457.2 L1047.3,457.6 L1048.8,458.3 L1050.3,459.2 L1051.8,460.2 L1053.3,461.3 L1054.8,462.3 L1056.3,463.4 L1057.8,464.2 L1059.3,464.9 L1060.8,465.3 L1062.3,465.4 L1063.8,465.3 L1065.2,464.9 L1066.7,464.2 L1068.2,463.3 L1069.7,462.3 L1071.2,461.2 L1072.7,460.2 L1074.2,459.1 L1075.7,458.3 L1077.2,457.6 L1078.7,457.2 L1080.2,457.1 L1081.7,457.2 L1083.2,457.6 L1084.6,458.3 L1086.1,459.2 L1087.6,460.2 L1089.1,461.3 L1090.6,462.4 L1092.1,463.4 L1093.6,464.2 L1095.1,464.9 L1096.6,465.3 L1098.1,465.4 L1099.6,465.3 L1101.1,464.9 L1102.6,464.2 L1104.0,463.3 L1105.5,462.3 L1107.0,461.2 L1108.5,460.1 L1110.0,459.1 L1111.5,458.3 L1113.0,457.6 L1114.5,457.2 L1116.0,457.1 L1117.5,457.2 L1119.0,457.6 L1120.5,458.3 L1122.0,459.2 L1123.4,460.2 L1124.9,461.3 L1126.4,462.4 L1127.9,463.4 L1129.4,464.2 L1130.9,464.9 L1132.4,465.3 L1133.9,465.4 L1135.4,465.3 L1136.9,464.9 L1138.4,464.2 L1139.9,463.3 L1141.3,462.3 L1142.8,461.2 L1144.3,460.1 L1145.8,459.1 L1147.3,458.3 L1148.8,457.6 L1150.3,457.2 L1151.8,457.1 L1153.3,457.2 L1154.8,457.6 L1156.3,458.3 L1157.8,459.2 L1159.3,460.2 L1160.7,461.3 L1162.2,462.4 L1163.7,463.4 L1165.2,464.2 L1166.7,464.9 L1168.2,465.3 L1169.7,465.4 L1169.7,457.1 L1168.2,457.2 L1166.7,457.6 L1165.2,458.3 L1163.7,459.1 L1162.2,460.1 L1160.7,461.2 L1159.3,462.3 L1157.8,463.3 L1156.3,464.2 L1154.8,464.9 L1153.3,465.3 L1151.8,465.4 L1150.3,465.3 L1148.8,464.9 L1147.3,464.2 L1145.8,463.4 L1144.3,462.4 L1142.8,461.3 L1141.3,460.2 L1139.9,459.2 L1138.4,458.3 L1136.9,457.6 L1135.4,457.2 L1133.9,457.1 L1132.4,457.2 L1130.9,457.6 L1129.4,458.3 L1127.9,459.1 L1126.4,460.1 L1124.9,461.2 L1123.4,462.3 L1122.0,463.3 L1120.5,464.2 L1119.0,464.9 L1117.5,465.3 L1116.0,465.4 L1114.5,465.3 L1113.0,464.9 L1111.5,464.2 L1110.0,463.4 L1108.5,462.4 L1107.0,461.3 L1105.5,460.2 L1104.0,459.2 L1102.6,458.3 L1101.1,457.6 L1099.6,457.2 L1098.1,457.1 L1096.6,457.2 L1095.1,457.6 L1093.6,458.3 L1092.1,459.1 L1090.6,460.1 L1089.1,461.2 L1087.6,462.3 L1086.1,463.3 L1084.6,464.2 L1083.2,464.9 L1081.7,465.3 L1080.2,465.4 L1078.7,465.3 L1077.2,464.9 L1075.7,464.2 L1074.2,463.4 L1072.7,462.3 L1071.2,461.3 L1069.7,460.2 L1068.2,459.2 L1066.7,458.3 L1065.2,457.6 L1063.8,457.2 L1062.3,457.1 L1060.8,457.2 L1059.3,457.6 L1057.8,458.3 L1056.3,459.1 L1054.8,460.2 L1053.3,461.2 L1051.8,462.3 L1050.3,463.3 L1048.8,464.2 L1047.3,464.9 L1045.9,465.3 L1044.4,465.4 L1042.9,465.3 L1041.4,464.9 L1039.9,464.2 L1038.4,463.4 L1036.9,462.3 L1035.4,461.3 L1033.9,460.2 L1032.4,459.2 L1030.9,458.3 L1029.4,457.6 L1027.9,457.2 L1026.5,457.1 L1025.0,457.2 L1023.5,457.6 L1022.0,458.3 L1020.5,459.1 L1019.0,460.2 L1017.5,461.2 Z" fill="#1a1a1a" fill-rule="evenodd"/>
<path d="M1017.5,461.2 L1019.0,462.3 L1020.5,463.4 L1022.0,464.2 L1023.5,464.9 L1025.0,465.3 L1026.5,465.4 L1027.9,465.3 L1029.4,464.9 L1030.9,464.2 L1032.4,463.3 L1033.9,462.3 L1035.4,461.2 L1036.9,460.2 L1038.4,459.1 L1039.9,458.3 L1041.4,457.6 L1042.9,457.2 L1044.4,457.1 L1045.9,457.2 L1047.3,457.6 L1048.8,458.3 L1050.3,459.2 L1051.8,460.2 L1053.3,461.3 L1054.8,462.3 L1056.3,463.4 L1057.8,464.2 L1059.3,464.9 L1060.8,465.3 L1062.3,465.4 L1063.8,465.3 L1065.2,464.9 L1066.7,464.2 L1068.2,463.3 L1069.7,462.3 L1071.2,461.2 L1072.7,460.2 L1074.2,459.1 L1075.7,458.3 L1077.2,457.6 L1078.7,457.2 L1080.2,457.1 L1081.7,457.2 L1083.2,457.6 L1084.6,458.3 L1086.1,459.2 L1087.6,460.2 L1089.1,461.3 L1090.6,462.4 L1092.1,463.4 L1093.6,464.2 L1095.1,464.9 L1096.6,465.3 L1098.1,465.4 L1099.6,465.3 L1101.1,464.9 L1102.6,464.2 L1104.0,463.3 L1105.5,462.3 L1107.0,461.2 L1108.5,460.1 L1110.0,459.1 L1111.5,458.3 L1113.0,457.6 L1114.5,457.2 L1116.0,457.1 L1117.5,457.2 L1119.0,457.6 L1120.5,458.3 L1122.0,459.2 L1123.4,460.2 L1124.9,461.3 L1126.4,462.4 L1127.9,463.4 L1129.4,464.2 L1130.9,464.9 L1132.4,465.3 L1133.9,465.4 L1135.4,465.3 L1136.9,464.9 L1138.4,464.2 L1139.9,463.3 L1141.3,462.3 L1142.8,461.2 L1144.3,460.1 L1145.8,459.1 L1147.3,458.3 L1148.8,457.6 L1150.3,457.2 L1151.8,457.1 L1153.3,457.2 L1154.8,457.6 L1156.3,458.3 L1157.8,459.2 L1159.3,460.2 L1160.7,461.3 L1162.2,462.4 L1163.7,463.4 L1165.2,464.2 L1166.7,464.9 L1168.2,465.3 L1169.7,465.4" fill="none" stroke="#efe03c" stroke-width="2.3" stroke-linejoin="round"/>
<path d="M1017.5,461.2 L1019.0,460.2 L1020.5,459.1 L1022.0,458.3 L1023.5,457.6 L1025.0,457.2 L1026.5,457.1 L1027.9,457.2 L1029.4,457.6 L1030.9,458.3 L1032.4,459.2 L1033.9,460.2 L1035.4,461.3 L1036.9,462.3 L1038.4,463.4 L1039.9,464.2 L1041.4,464.9 L1042.9,465.3 L1044.4,465.4 L1045.9,465.3 L1047.3,464.9 L1048.8,464.2 L1050.3,463.3 L1051.8,462.3 L1053.3,461.2 L1054.8,460.2 L1056.3,459.1 L1057.8,458.3 L1059.3,457.6 L1060.8,457.2 L1062.3,457.1 L1063.8,457.2 L1065.2,457.6 L1066.7,458.3 L1068.2,459.2 L1069.7,460.2 L1071.2,461.3 L1072.7,462.3 L1074.2,463.4 L1075.7,464.2 L1077.2,464.9 L1078.7,465.3 L1080.2,465.4 L1081.7,465.3 L1083.2,464.9 L1084.6,464.2 L1086.1,463.3 L1087.6,462.3 L1089.1,461.2 L1090.6,460.1 L1092.1,459.1 L1093.6,458.3 L1095.1,457.6 L1096.6,457.2 L1098.1,457.1 L1099.6,457.2 L1101.1,457.6 L1102.6,458.3 L1104.0,459.2 L1105.5,460.2 L1107.0,461.3 L1108.5,462.4 L1110.0,463.4 L1111.5,464.2 L1113.0,464.9 L1114.5,465.3 L1116.0,465.4 L1117.5,465.3 L1119.0,464.9 L1120.5,464.2 L1122.0,463.3 L1123.4,462.3 L1124.9,461.2 L1126.4,460.1 L1127.9,459.1 L1129.4,458.3 L1130.9,457.6 L1132.4,457.2 L1133.9,457.1 L1135.4,457.2 L1136.9,457.6 L1138.4,458.3 L1139.9,459.2 L1141.3,460.2 L1142.8,461.3 L1144.3,462.4 L1145.8,463.4 L1147.3,464.2 L1148.8,464.9 L1150.3,465.3 L1151.8,465.4 L1153.3,465.3 L1154.8,464.9 L1156.3,464.2 L1157.8,463.3 L1159.3,462.3 L1160.7,461.2 L1162.2,460.1 L1163.7,459.1 L1165.2,458.3 L1166.7,457.6 L1168.2,457.2 L1169.7,457.1" fill="none" stroke="#efe03c" stroke-width="2.3" stroke-linejoin="round"/>
<path d="M1017.5,483.3 L1019.0,483.9 L1020.5,484.0 L1022.0,483.7 L1023.5,483.1 L1025.0,482.4 L1026.5,481.7 L1027.9,481.1 L1029.4,481.0 L1030.9,481.3 L1032.4,481.9 L1033.9,482.6 L1035.4,483.3 L1036.9,483.9 L1038.4,484.0 L1039.9,483.7 L1041.4,483.1 L1042.9,482.4 L1044.4,481.6 L1045.9,481.1 L1047.3,481.0 L1048.8,481.3 L1050.3,481.9 L1051.8,482.6 L1053.3,483.4 L1054.8,483.9 L1056.3,484.0 L1057.8,483.7 L1059.3,483.1 L1060.8,482.4 L1062.3,481.6 L1063.8,481.1 L1065.2,481.0 L1066.7,481.3 L1068.2,481.9 L1069.7,482.6 L1071.2,483.4 L1072.7,483.9 L1074.2,484.0 L1075.7,483.7 L1077.2,483.1 L1078.7,482.4 L1080.2,481.6 L1081.7,481.1 L1083.2,481.0 L1084.6,481.3 L1086.1,481.9 L1087.6,482.6 L1089.1,483.4 L1090.6,483.9 L1092.1,484.0 L1093.6,483.7 L1095.1,483.1 L1096.6,482.4 L1098.1,481.6 L1099.6,481.1 L1101.1,481.0 L1102.6,481.3 L1104.0,481.9 L1105.5,482.6 L1107.0,483.4 L1108.5,483.9 L1110.0,484.0 L1111.5,483.7 L1113.0,483.1 L1114.5,482.4 L1116.0,481.6 L1117.5,481.1 L1119.0,481.0 L1120.5,481.3 L1122.0,481.9 L1123.4,482.6 L1124.9,483.4 L1126.4,483.9 L1127.9,484.0 L1129.4,483.7 L1130.9,483.1 L1132.4,482.4 L1133.9,481.6 L1135.4,481.1 L1136.9,481.0 L1138.4,481.3 L1139.9,481.9 L1141.3,482.6 L1142.8,483.4 L1144.3,483.9 L1145.8,484.0 L1147.3,483.7 L1148.8,483.1 L1150.3,482.4 L1151.8,481.6 L1153.3,481.1 L1154.8,481.0 L1156.3,481.3 L1157.8,481.9 L1159.3,482.6 L1160.7,483.4 L1162.2,483.9 L1163.7,484.0 L1165.2,483.7 L1166.7,483.1 L1168.2,482.4 L1169.7,481.6" fill="none" stroke="#efe03c" stroke-width="2.3" stroke-linejoin="round" stroke-linecap="round"/>
</g>
<line x1="1017.50" y1="488.50" x2="1169.70" y2="488.50" stroke="#cfcfcf" stroke-width="0.9"/>
<line x1="1017.50" y1="488.50" x2="1017.50" y2="490.70" stroke="#cfcfcf" stroke-width="0.8"/>
<line x1="1025.11" y1="488.50" x2="1025.11" y2="490.70" stroke="#cfcfcf" stroke-width="0.8"/>
<line x1="1032.72" y1="488.50" x2="1032.72" y2="490.70" stroke="#cfcfcf" stroke-width="0.8"/>
<line x1="1040.33" y1="488.50" x2="1040.33" y2="490.70" stroke="#cfcfcf" stroke-width="0.8"/>
<line x1="1047.94" y1="488.50" x2="1047.94" y2="490.70" stroke="#cfcfcf" stroke-width="0.8"/>
<line x1="1055.55" y1="488.50" x2="1055.55" y2="490.70" stroke="#cfcfcf" stroke-width="0.8"/>
<line x1="1063.16" y1="488.50" x2="1063.16" y2="490.70" stroke="#cfcfcf" stroke-width="0.8"/>
<line x1="1070.77" y1="488.50" x2="1070.77" y2="490.70" stroke="#cfcfcf" stroke-width="0.8"/>
<line x1="1078.38" y1="488.50" x2="1078.38" y2="490.70" stroke="#cfcfcf" stroke-width="0.8"/>
<line x1="1085.99" y1="488.50" x2="1085.99" y2="490.70" stroke="#cfcfcf" stroke-width="0.8"/>
<line x1="1093.60" y1="488.50" x2="1093.60" y2="490.70" stroke="#cfcfcf" stroke-width="0.8"/>
<line x1="1101.21" y1="488.50" x2="1101.21" y2="490.70" stroke="#cfcfcf" stroke-width="0.8"/>
<line x1="1108.82" y1="488.50" x2="1108.82" y2="490.70" stroke="#cfcfcf" stroke-width="0.8"/>
<line x1="1116.43" y1="488.50" x2="1116.43" y2="490.70" stroke="#cfcfcf" stroke-width="0.8"/>
<line x1="1124.04" y1="488.50" x2="1124.04" y2="490.70" stroke="#cfcfcf" stroke-width="0.8"/>
<line x1="1131.65" y1="488.50" x2="1131.65" y2="490.70" stroke="#cfcfcf" stroke-width="0.8"/>
<line x1="1139.26" y1="488.50" x2="1139.26" y2="490.70" stroke="#cfcfcf" stroke-width="0.8"/>
<line x1="1146.87" y1="488.50" x2="1146.87" y2="490.70" stroke="#cfcfcf" stroke-width="0.8"/>
<line x1="1154.48" y1="488.50" x2="1154.48" y2="490.70" stroke="#cfcfcf" stroke-width="0.8"/>
<line x1="1162.09" y1="488.50" x2="1162.09" y2="490.70" stroke="#cfcfcf" stroke-width="0.8"/>
<line x1="1169.70" y1="488.50" x2="1169.70" y2="490.70" stroke="#cfcfcf" stroke-width="0.8"/>
<rect x="1161.70" y="494.00" width="7.50" height="2.20" fill="#f0f0f0"/>
<line x1="1170.90" y1="437.10" x2="1170.90" y2="486.70" stroke="#cfcfcf" stroke-width="0.8"/>
<line x1="1170.90" y1="438.10" x2="1172.90" y2="438.10" stroke="#cfcfcf" stroke-width="0.8"/>
<line x1="1170.90" y1="444.90" x2="1172.90" y2="444.90" stroke="#cfcfcf" stroke-width="0.8"/>
<line x1="1170.90" y1="451.70" x2="1172.90" y2="451.70" stroke="#cfcfcf" stroke-width="0.8"/>
<line x1="1170.90" y1="458.50" x2="1172.90" y2="458.50" stroke="#cfcfcf" stroke-width="0.8"/>
<line x1="1170.90" y1="465.30" x2="1172.90" y2="465.30" stroke="#cfcfcf" stroke-width="0.8"/>
<line x1="1170.90" y1="472.10" x2="1172.90" y2="472.10" stroke="#cfcfcf" stroke-width="0.8"/>
<line x1="1170.90" y1="478.90" x2="1172.90" y2="478.90" stroke="#cfcfcf" stroke-width="0.8"/>
<line x1="1170.90" y1="485.70" x2="1172.90" y2="485.70" stroke="#cfcfcf" stroke-width="0.8"/>
<rect x="1175.70" y="478.70" width="2.20" height="7.00" fill="#f0f0f0"/>
<rect x="84.50" y="512.10" width="9.90" height="9.60" fill="#7898ca"/>
<text transform="translate(101.40 521.90) scale(1.035 1)" font-size="16">Ctrl</text>
<rect x="220.30" y="512.10" width="9.90" height="9.60" fill="#b9605a"/>
<text transform="translate(237.50 521.90) scale(1.035 1)" font-size="16">Neonatal ca<tspan font-style="italic">Erbb2</tspan></text>
<rect x="482.00" y="512.10" width="9.90" height="9.60" fill="#7898ca"/>
<text transform="translate(498.30 521.90) scale(1.035 1)" font-size="16">Ctrl</text>
<rect x="624.20" y="512.10" width="9.90" height="9.60" fill="#b9605a"/>
<text transform="translate(639.70 521.90) scale(1.035 1)" font-size="16">Juvenile ca<tspan font-style="italic">Erbb2</tspan></text>
<rect x="892.50" y="512.10" width="9.90" height="9.60" fill="#7898ca"/>
<text transform="translate(909.20 521.90) scale(1.035 1)" font-size="16">Ctrl</text>
<rect x="1030.30" y="512.10" width="9.90" height="9.60" fill="#b9605a"/>
<text transform="translate(1046.70 521.90) scale(1.035 1)" font-size="16">Adult ca<tspan font-style="italic">Erbb2</tspan></text>
<rect x="72.00" y="625.10" width="15.00" height="72.10" fill="#7898ca"/>
<line x1="79.50" y1="625.10" x2="79.50" y2="621.40" stroke="#6a6a6a" stroke-width="1.3"/>
<line x1="76.20" y1="621.40" x2="82.80" y2="621.40" stroke="#6a6a6a" stroke-width="1.3"/>
<rect x="88.60" y="585.80" width="15.10" height="111.40" fill="#b9605a"/>
<line x1="96.15" y1="585.80" x2="96.15" y2="578.50" stroke="#6a6a6a" stroke-width="1.3"/>
<line x1="92.85" y1="578.50" x2="99.45" y2="578.50" stroke="#6a6a6a" stroke-width="1.3"/>
<rect x="116.30" y="623.00" width="15.40" height="74.20" fill="#7898ca"/>
<line x1="124.00" y1="623.00" x2="124.00" y2="618.30" stroke="#6a6a6a" stroke-width="1.3"/>
<line x1="120.70" y1="618.30" x2="127.30" y2="618.30" stroke="#6a6a6a" stroke-width="1.3"/>
<rect x="133.30" y="576.00" width="15.00" height="121.20" fill="#b9605a"/>
<line x1="140.80" y1="576.00" x2="140.80" y2="565.40" stroke="#6a6a6a" stroke-width="1.3"/>
<line x1="137.50" y1="565.40" x2="144.10" y2="565.40" stroke="#6a6a6a" stroke-width="1.3"/>
<line x1="65.50" y1="559.30" x2="65.50" y2="699.20" stroke="#7a7a7a" stroke-width="1.1"/>
<line x1="63.00" y1="697.20" x2="154.50" y2="697.20" stroke="#7a7a7a" stroke-width="1.1"/>
<line x1="63.00" y1="697.20" x2="65.50" y2="697.20" stroke="#7a7a7a" stroke-width="1.1"/>
<text transform="translate(58.50 702.30) scale(1.035 1)" font-size="16" text-anchor="end">0</text>
<line x1="63.00" y1="674.20" x2="65.50" y2="674.20" stroke="#7a7a7a" stroke-width="1.1"/>
<text transform="translate(58.50 679.30) scale(1.035 1)" font-size="16" text-anchor="end">0.2</text>
<line x1="63.00" y1="651.10" x2="65.50" y2="651.10" stroke="#7a7a7a" stroke-width="1.1"/>
<text transform="translate(58.50 656.20) scale(1.035 1)" font-size="16" text-anchor="end">0.4</text>
<line x1="63.00" y1="628.40" x2="65.50" y2="628.40" stroke="#7a7a7a" stroke-width="1.1"/>
<text transform="translate(58.50 633.50) scale(1.035 1)" font-size="16" text-anchor="end">0.6</text>
<line x1="63.00" y1="605.30" x2="65.50" y2="605.30" stroke="#7a7a7a" stroke-width="1.1"/>
<text transform="translate(58.50 610.40) scale(1.035 1)" font-size="16" text-anchor="end">0.8</text>
<line x1="63.00" y1="582.00" x2="65.50" y2="582.00" stroke="#7a7a7a" stroke-width="1.1"/>
<text transform="translate(58.50 587.10) scale(1.035 1)" font-size="16" text-anchor="end">1.0</text>
<line x1="63.00" y1="559.30" x2="65.50" y2="559.30" stroke="#7a7a7a" stroke-width="1.1"/>
<text transform="translate(58.50 564.40) scale(1.035 1)" font-size="16" text-anchor="end">1.2</text>
<line x1="110.60" y1="697.20" x2="110.60" y2="700.20" stroke="#7a7a7a" stroke-width="1.1"/>
<line x1="154.50" y1="697.20" x2="154.50" y2="700.20" stroke="#7a7a7a" stroke-width="1.1"/>
<path d="M79.3,585.3 L79.3,564.1 L95.6,564.1 L95.6,566.6" fill="none" stroke="#3f3f3f" stroke-width="1.4"/>
<path d="M123.6,568.7 L123.6,545.4 L141.5,545.4 L141.5,548.2" fill="none" stroke="#3f3f3f" stroke-width="1.4"/>
<path d="M75.47,554.60 L75.47,561.40 M78.42,556.30 L72.53,559.70 M78.42,559.70 L72.53,556.30 " fill="none" stroke="#6a6a6a" stroke-width="1.0"/>
<path d="M83.42,554.60 L83.42,561.40 M86.37,556.30 L80.48,559.70 M86.37,559.70 L80.48,556.30 " fill="none" stroke="#6a6a6a" stroke-width="1.0"/>
<path d="M91.38,554.60 L91.38,561.40 M94.32,556.30 L88.43,559.70 M94.32,559.70 L88.43,556.30 " fill="none" stroke="#6a6a6a" stroke-width="1.0"/>
<path d="M99.32,554.60 L99.32,561.40 M102.27,556.30 L96.38,559.70 M102.27,559.70 L96.38,556.30 " fill="none" stroke="#6a6a6a" stroke-width="1.0"/>
<path d="M125.32,534.70 L125.32,541.50 M128.26,536.40 L122.37,539.80 M128.26,539.80 L122.37,536.40 " fill="none" stroke="#6a6a6a" stroke-width="1.0"/>
<path d="M132.75,534.70 L132.75,541.50 M135.69,536.40 L129.81,539.80 M135.69,539.80 L129.81,536.40 " fill="none" stroke="#6a6a6a" stroke-width="1.0"/>
<path d="M140.18,534.70 L140.18,541.50 M143.13,536.40 L137.24,539.80 M143.13,539.80 L137.24,536.40 " fill="none" stroke="#6a6a6a" stroke-width="1.0"/>
<text transform="translate(27.00 628.40) rotate(-90) scale(1.035 1)" font-size="16" text-anchor="middle">Wall thickness (mm)</text>
<text transform="translate(97.65 712.30) rotate(-45) scale(1.035 1)" font-size="16" text-anchor="end">LVAW</text>
<text transform="translate(142.10 712.30) rotate(-45) scale(1.035 1)" font-size="16" text-anchor="end">LVPW</text>
<rect x="206.70" y="595.90" width="15.00" height="101.30" fill="#7898ca"/>
<line x1="214.20" y1="595.90" x2="214.20" y2="593.90" stroke="#6a6a6a" stroke-width="1.3"/>
<line x1="210.90" y1="593.90" x2="217.50" y2="593.90" stroke="#6a6a6a" stroke-width="1.3"/>
<rect x="224.10" y="644.30" width="15.50" height="52.90" fill="#b9605a"/>
<line x1="231.85" y1="644.30" x2="231.85" y2="641.40" stroke="#6a6a6a" stroke-width="1.3"/>
<line x1="228.55" y1="641.40" x2="235.15" y2="641.40" stroke="#6a6a6a" stroke-width="1.3"/>
<rect x="248.00" y="637.30" width="15.10" height="59.90" fill="#7898ca"/>
<line x1="255.55" y1="637.30" x2="255.55" y2="635.40" stroke="#6a6a6a" stroke-width="1.3"/>
<line x1="252.25" y1="635.40" x2="258.85" y2="635.40" stroke="#6a6a6a" stroke-width="1.3"/>
<rect x="265.60" y="674.70" width="14.30" height="22.50" fill="#b9605a"/>
<line x1="272.75" y1="674.70" x2="272.75" y2="670.70" stroke="#6a6a6a" stroke-width="1.3"/>
<line x1="269.45" y1="670.70" x2="276.05" y2="670.70" stroke="#6a6a6a" stroke-width="1.3"/>
<line x1="201.80" y1="559.60" x2="201.80" y2="699.20" stroke="#7a7a7a" stroke-width="1.1"/>
<line x1="199.30" y1="697.20" x2="287.50" y2="697.20" stroke="#7a7a7a" stroke-width="1.1"/>
<line x1="199.30" y1="697.20" x2="201.80" y2="697.20" stroke="#7a7a7a" stroke-width="1.1"/>
<text transform="translate(194.30 702.30) scale(1.035 1)" font-size="16" text-anchor="end">0</text>
<line x1="199.30" y1="651.10" x2="201.80" y2="651.10" stroke="#7a7a7a" stroke-width="1.1"/>
<text transform="translate(194.30 656.20) scale(1.035 1)" font-size="16" text-anchor="end">1</text>
<line x1="199.30" y1="605.30" x2="201.80" y2="605.30" stroke="#7a7a7a" stroke-width="1.1"/>
<text transform="translate(194.30 610.40) scale(1.035 1)" font-size="16" text-anchor="end">2</text>
<line x1="199.30" y1="559.60" x2="201.80" y2="559.60" stroke="#7a7a7a" stroke-width="1.1"/>
<text transform="translate(194.30 564.70) scale(1.035 1)" font-size="16" text-anchor="end">3</text>
<line x1="244.10" y1="697.20" x2="244.10" y2="700.20" stroke="#7a7a7a" stroke-width="1.1"/>
<line x1="287.50" y1="697.20" x2="287.50" y2="700.20" stroke="#7a7a7a" stroke-width="1.1"/>
<path d="M214.3,578.5 L214.3,575.2 L232.2,575.2 L232.2,598.3" fill="none" stroke="#3f3f3f" stroke-width="1.4"/>
<path d="M255.3,626.0 L255.3,622.4 L272.1,622.4 L272.1,646.3" fill="none" stroke="#3f3f3f" stroke-width="1.4"/>
<path d="M211.31,563.70 L211.31,570.50 M214.26,565.40 L208.37,568.80 M214.26,568.80 L208.37,565.40 " fill="none" stroke="#6a6a6a" stroke-width="1.0"/>
<path d="M219.14,563.70 L219.14,570.50 M222.08,565.40 L216.19,568.80 M222.08,568.80 L216.19,565.40 " fill="none" stroke="#6a6a6a" stroke-width="1.0"/>
<path d="M226.96,563.70 L226.96,570.50 M229.91,565.40 L224.02,568.80 M229.91,568.80 L224.02,565.40 " fill="none" stroke="#6a6a6a" stroke-width="1.0"/>
<path d="M234.79,563.70 L234.79,570.50 M237.73,565.40 L231.84,568.80 M237.73,568.80 L231.84,565.40 " fill="none" stroke="#6a6a6a" stroke-width="1.0"/>
<path d="M251.99,611.20 L251.99,618.00 M254.93,612.90 L249.04,616.30 M254.93,616.30 L249.04,612.90 " fill="none" stroke="#6a6a6a" stroke-width="1.0"/>
<path d="M259.96,611.20 L259.96,618.00 M262.91,612.90 L257.02,616.30 M262.91,616.30 L257.02,612.90 " fill="none" stroke="#6a6a6a" stroke-width="1.0"/>
<path d="M267.94,611.20 L267.94,618.00 M270.88,612.90 L264.99,616.30 M270.88,616.30 L264.99,612.90 " fill="none" stroke="#6a6a6a" stroke-width="1.0"/>
<path d="M275.91,611.20 L275.91,618.00 M278.86,612.90 L272.97,616.30 M278.86,616.30 L272.97,612.90 " fill="none" stroke="#6a6a6a" stroke-width="1.0"/>
<text transform="translate(173.80 628.40) rotate(-90) scale(1.035 1)" font-size="16" text-anchor="middle">Diameter (mm)</text>
<text transform="translate(232.95 712.30) rotate(-45) scale(1.035 1)" font-size="16" text-anchor="end">LVEDD</text>
<text transform="translate(273.75 712.30) rotate(-45) scale(1.035 1)" font-size="16" text-anchor="end">LVESD</text>
<rect x="349.20" y="578.80" width="15.50" height="118.40" fill="#7898ca"/>
<line x1="356.95" y1="578.80" x2="356.95" y2="572.60" stroke="#6a6a6a" stroke-width="1.3"/>
<line x1="353.65" y1="572.60" x2="360.25" y2="572.60" stroke="#6a6a6a" stroke-width="1.3"/>
<rect x="367.10" y="669.60" width="15.20" height="27.60" fill="#b9605a"/>
<line x1="374.70" y1="669.60" x2="374.70" y2="664.50" stroke="#6a6a6a" stroke-width="1.3"/>
<line x1="371.40" y1="664.50" x2="378.00" y2="664.50" stroke="#6a6a6a" stroke-width="1.3"/>
<line x1="339.20" y1="559.60" x2="339.20" y2="699.20" stroke="#7a7a7a" stroke-width="1.1"/>
<line x1="336.70" y1="697.20" x2="393.70" y2="697.20" stroke="#7a7a7a" stroke-width="1.1"/>
<line x1="336.70" y1="697.20" x2="339.20" y2="697.20" stroke="#7a7a7a" stroke-width="1.1"/>
<text transform="translate(332.10 702.30) scale(1.035 1)" font-size="16" text-anchor="end">0</text>
<line x1="336.70" y1="677.60" x2="339.20" y2="677.60" stroke="#7a7a7a" stroke-width="1.1"/>
<text transform="translate(332.10 682.70) scale(1.035 1)" font-size="16" text-anchor="end">2</text>
<line x1="336.70" y1="657.90" x2="339.20" y2="657.90" stroke="#7a7a7a" stroke-width="1.1"/>
<text transform="translate(332.10 663.00) scale(1.035 1)" font-size="16" text-anchor="end">4</text>
<line x1="336.70" y1="638.20" x2="339.20" y2="638.20" stroke="#7a7a7a" stroke-width="1.1"/>
<text transform="translate(332.10 643.30) scale(1.035 1)" font-size="16" text-anchor="end">6</text>
<line x1="336.70" y1="618.60" x2="339.20" y2="618.60" stroke="#7a7a7a" stroke-width="1.1"/>
<text transform="translate(332.10 623.70) scale(1.035 1)" font-size="16" text-anchor="end">8</text>
<line x1="336.70" y1="599.10" x2="339.20" y2="599.10" stroke="#7a7a7a" stroke-width="1.1"/>
<text transform="translate(332.10 604.20) scale(1.035 1)" font-size="16" text-anchor="end">10</text>
<line x1="336.70" y1="579.30" x2="339.20" y2="579.30" stroke="#7a7a7a" stroke-width="1.1"/>
<text transform="translate(332.10 584.40) scale(1.035 1)" font-size="16" text-anchor="end">12</text>
<line x1="336.70" y1="559.60" x2="339.20" y2="559.60" stroke="#7a7a7a" stroke-width="1.1"/>
<text transform="translate(332.10 564.70) scale(1.035 1)" font-size="16" text-anchor="end">14</text>
<line x1="393.70" y1="697.20" x2="393.70" y2="700.20" stroke="#7a7a7a" stroke-width="1.1"/>
<path d="M357.7,560.6 L357.7,557.7 L374.1,557.7 L374.1,578.5" fill="none" stroke="#3f3f3f" stroke-width="1.4"/>
<path d="M354.66,546.90 L354.66,553.70 M357.61,548.60 L351.72,552.00 M357.61,552.00 L351.72,548.60 " fill="none" stroke="#6a6a6a" stroke-width="1.0"/>
<path d="M362.19,546.90 L362.19,553.70 M365.13,548.60 L359.24,552.00 M365.13,552.00 L359.24,548.60 " fill="none" stroke="#6a6a6a" stroke-width="1.0"/>
<path d="M369.71,546.90 L369.71,553.70 M372.66,548.60 L366.77,552.00 M372.66,552.00 L366.77,548.60 " fill="none" stroke="#6a6a6a" stroke-width="1.0"/>
<path d="M377.24,546.90 L377.24,553.70 M380.18,548.60 L374.29,552.00 M380.18,552.00 L374.29,548.60 " fill="none" stroke="#6a6a6a" stroke-width="1.0"/>
<text transform="translate(306.30 628.00) rotate(-90) scale(1.035 1)" font-size="16" text-anchor="middle">Blood volume (µl)</text>
<text transform="translate(375.55 712.30) rotate(-45) scale(1.035 1)" font-size="16" text-anchor="end">SV</text>
<rect x="465.00" y="645.40" width="15.50" height="51.80" fill="#7898ca"/>
<line x1="472.75" y1="645.40" x2="472.75" y2="641.90" stroke="#6a6a6a" stroke-width="1.3"/>
<line x1="469.45" y1="641.90" x2="476.05" y2="641.90" stroke="#6a6a6a" stroke-width="1.3"/>
<rect x="482.90" y="607.20" width="15.10" height="90.00" fill="#b9605a"/>
<line x1="490.45" y1="607.20" x2="490.45" y2="601.00" stroke="#6a6a6a" stroke-width="1.3"/>
<line x1="487.15" y1="601.00" x2="493.75" y2="601.00" stroke="#6a6a6a" stroke-width="1.3"/>
<rect x="505.70" y="647.10" width="15.40" height="50.10" fill="#7898ca"/>
<line x1="513.40" y1="647.10" x2="513.40" y2="644.30" stroke="#6a6a6a" stroke-width="1.3"/>
<line x1="510.10" y1="644.30" x2="516.70" y2="644.30" stroke="#6a6a6a" stroke-width="1.3"/>
<rect x="523.30" y="601.00" width="15.20" height="96.20" fill="#b9605a"/>
<line x1="530.90" y1="601.00" x2="530.90" y2="595.50" stroke="#6a6a6a" stroke-width="1.3"/>
<line x1="527.60" y1="595.50" x2="534.20" y2="595.50" stroke="#6a6a6a" stroke-width="1.3"/>
<line x1="459.30" y1="568.50" x2="459.30" y2="699.20" stroke="#7a7a7a" stroke-width="1.1"/>
<line x1="456.80" y1="697.20" x2="543.90" y2="697.20" stroke="#7a7a7a" stroke-width="1.1"/>
<line x1="456.80" y1="697.20" x2="459.30" y2="697.20" stroke="#7a7a7a" stroke-width="1.1"/>
<text transform="translate(452.00 702.30) scale(1.035 1)" font-size="16" text-anchor="end">0</text>
<line x1="456.80" y1="665.00" x2="459.30" y2="665.00" stroke="#7a7a7a" stroke-width="1.1"/>
<text transform="translate(452.00 670.10) scale(1.035 1)" font-size="16" text-anchor="end">0.5</text>
<line x1="456.80" y1="632.80" x2="459.30" y2="632.80" stroke="#7a7a7a" stroke-width="1.1"/>
<text transform="translate(452.00 637.90) scale(1.035 1)" font-size="16" text-anchor="end">1.0</text>
<line x1="456.80" y1="600.70" x2="459.30" y2="600.70" stroke="#7a7a7a" stroke-width="1.1"/>
<text transform="translate(452.00 605.80) scale(1.035 1)" font-size="16" text-anchor="end">1.5</text>
<line x1="456.80" y1="568.50" x2="459.30" y2="568.50" stroke="#7a7a7a" stroke-width="1.1"/>
<text transform="translate(452.00 573.60) scale(1.035 1)" font-size="16" text-anchor="end">2.0</text>
<line x1="501.60" y1="697.20" x2="501.60" y2="700.20" stroke="#7a7a7a" stroke-width="1.1"/>
<line x1="543.90" y1="697.20" x2="543.90" y2="700.20" stroke="#7a7a7a" stroke-width="1.1"/>
<path d="M471.2,603.2 L471.2,588.2 L489.4,588.2 L489.4,590.5" fill="none" stroke="#3f3f3f" stroke-width="1.4"/>
<path d="M513.8,577.5 L513.8,563.0 L531.4,563.0 L531.4,565.0" fill="none" stroke="#3f3f3f" stroke-width="1.4"/>
<path d="M472.90,577.00 L472.90,583.80 M475.84,578.70 L469.96,582.10 M475.84,582.10 L469.96,578.70 " fill="none" stroke="#6a6a6a" stroke-width="1.0"/>
<path d="M480.50,577.00 L480.50,583.80 M483.44,578.70 L477.56,582.10 M483.44,582.10 L477.56,578.70 " fill="none" stroke="#6a6a6a" stroke-width="1.0"/>
<path d="M488.10,577.00 L488.10,583.80 M491.04,578.70 L485.16,582.10 M491.04,582.10 L485.16,578.70 " fill="none" stroke="#6a6a6a" stroke-width="1.0"/>
<path d="M515.18,551.80 L515.18,558.60 M518.13,553.50 L512.24,556.90 M518.13,556.90 L512.24,553.50 " fill="none" stroke="#6a6a6a" stroke-width="1.0"/>
<path d="M522.75,551.80 L522.75,558.60 M525.69,553.50 L519.81,556.90 M525.69,556.90 L519.81,553.50 " fill="none" stroke="#6a6a6a" stroke-width="1.0"/>
<path d="M530.32,551.80 L530.32,558.60 M533.26,553.50 L527.37,556.90 M533.26,556.90 L527.37,553.50 " fill="none" stroke="#6a6a6a" stroke-width="1.0"/>
<text transform="translate(418.00 633.30) rotate(-90) scale(1.035 1)" font-size="16" text-anchor="middle">Wall thickness (mm)</text>
<text transform="translate(491.30 712.30) rotate(-45) scale(1.035 1)" font-size="16" text-anchor="end">LVAW</text>
<text transform="translate(531.90 712.30) rotate(-45) scale(1.035 1)" font-size="16" text-anchor="end">LVPW</text>
<rect x="610.10" y="581.60" width="15.50" height="115.60" fill="#7898ca"/>
<line x1="617.85" y1="581.60" x2="617.85" y2="574.30" stroke="#6a6a6a" stroke-width="1.3"/>
<line x1="614.55" y1="574.30" x2="621.15" y2="574.30" stroke="#6a6a6a" stroke-width="1.3"/>
<rect x="628.30" y="626.30" width="15.50" height="70.90" fill="#b9605a"/>
<line x1="636.05" y1="626.30" x2="636.05" y2="621.60" stroke="#6a6a6a" stroke-width="1.3"/>
<line x1="632.75" y1="621.60" x2="639.35" y2="621.60" stroke="#6a6a6a" stroke-width="1.3"/>
<rect x="651.10" y="629.60" width="15.50" height="67.60" fill="#7898ca"/>
<line x1="658.85" y1="629.60" x2="658.85" y2="621.90" stroke="#6a6a6a" stroke-width="1.3"/>
<line x1="655.55" y1="621.90" x2="662.15" y2="621.90" stroke="#6a6a6a" stroke-width="1.3"/>
<rect x="669.20" y="671.10" width="15.30" height="26.10" fill="#b9605a"/>
<line x1="676.85" y1="671.10" x2="676.85" y2="665.60" stroke="#6a6a6a" stroke-width="1.3"/>
<line x1="673.55" y1="665.60" x2="680.15" y2="665.60" stroke="#6a6a6a" stroke-width="1.3"/>
<line x1="604.40" y1="560.40" x2="604.40" y2="699.20" stroke="#7a7a7a" stroke-width="1.1"/>
<line x1="601.90" y1="697.20" x2="689.50" y2="697.20" stroke="#7a7a7a" stroke-width="1.1"/>
<line x1="601.90" y1="697.30" x2="604.40" y2="697.30" stroke="#7a7a7a" stroke-width="1.1"/>
<text transform="translate(597.50 702.40) scale(1.035 1)" font-size="16" text-anchor="end">0</text>
<line x1="601.90" y1="677.60" x2="604.40" y2="677.60" stroke="#7a7a7a" stroke-width="1.1"/>
<text transform="translate(597.50 682.70) scale(1.035 1)" font-size="16" text-anchor="end">0.5</text>
<line x1="601.90" y1="658.10" x2="604.40" y2="658.10" stroke="#7a7a7a" stroke-width="1.1"/>
<text transform="translate(597.50 663.20) scale(1.035 1)" font-size="16" text-anchor="end">1.0</text>
<line x1="601.90" y1="638.50" x2="604.40" y2="638.50" stroke="#7a7a7a" stroke-width="1.1"/>
<text transform="translate(597.50 643.60) scale(1.035 1)" font-size="16" text-anchor="end">1.5</text>
<line x1="601.90" y1="619.00" x2="604.40" y2="619.00" stroke="#7a7a7a" stroke-width="1.1"/>
<text transform="translate(597.50 624.10) scale(1.035 1)" font-size="16" text-anchor="end">2.0</text>
<line x1="601.90" y1="599.50" x2="604.40" y2="599.50" stroke="#7a7a7a" stroke-width="1.1"/>
<text transform="translate(597.50 604.60) scale(1.035 1)" font-size="16" text-anchor="end">2.5</text>
<line x1="601.90" y1="580.00" x2="604.40" y2="580.00" stroke="#7a7a7a" stroke-width="1.1"/>
<text transform="translate(597.50 585.10) scale(1.035 1)" font-size="16" text-anchor="end">3.0</text>
<line x1="601.90" y1="560.40" x2="604.40" y2="560.40" stroke="#7a7a7a" stroke-width="1.1"/>
<text transform="translate(597.50 565.50) scale(1.035 1)" font-size="16" text-anchor="end">3.5</text>
<line x1="647.20" y1="697.20" x2="647.20" y2="700.20" stroke="#7a7a7a" stroke-width="1.1"/>
<line x1="689.50" y1="697.20" x2="689.50" y2="700.20" stroke="#7a7a7a" stroke-width="1.1"/>
<path d="M618.6,568.2 L618.6,565.8 L634.5,565.8 L634.5,581.3" fill="none" stroke="#3f3f3f" stroke-width="1.4"/>
<path d="M658.4,602.9 L658.4,600.8 L676.8,600.8 L676.8,615.9" fill="none" stroke="#3f3f3f" stroke-width="1.4"/>
<path d="M614.82,556.40 L614.82,563.20 M617.77,558.10 L611.88,561.50 M617.77,561.50 L611.88,558.10 " fill="none" stroke="#6a6a6a" stroke-width="1.0"/>
<path d="M622.67,556.40 L622.67,563.20 M625.62,558.10 L619.73,561.50 M625.62,561.50 L619.73,558.10 " fill="none" stroke="#6a6a6a" stroke-width="1.0"/>
<path d="M630.52,556.40 L630.52,563.20 M633.47,558.10 L627.58,561.50 M633.47,561.50 L627.58,558.10 " fill="none" stroke="#6a6a6a" stroke-width="1.0"/>
<path d="M638.38,556.40 L638.38,563.20 M641.32,558.10 L635.43,561.50 M641.32,561.50 L635.43,558.10 " fill="none" stroke="#6a6a6a" stroke-width="1.0"/>
<path d="M660.30,590.60 L660.30,597.40 M663.24,592.30 L657.36,595.70 M663.24,595.70 L657.36,592.30 " fill="none" stroke="#6a6a6a" stroke-width="1.0"/>
<path d="M667.90,590.60 L667.90,597.40 M670.84,592.30 L664.96,595.70 M670.84,595.70 L664.96,592.30 " fill="none" stroke="#6a6a6a" stroke-width="1.0"/>
<path d="M675.50,590.60 L675.50,597.40 M678.44,592.30 L672.56,595.70 M678.44,595.70 L672.56,592.30 " fill="none" stroke="#6a6a6a" stroke-width="1.0"/>
<text transform="translate(562.00 628.90) rotate(-90) scale(1.035 1)" font-size="16" text-anchor="middle">Diameter (mm)</text>
<text transform="translate(636.75 712.30) rotate(-45) scale(1.035 1)" font-size="16" text-anchor="end">LVEDD</text>
<text transform="translate(677.60 712.30) rotate(-45) scale(1.035 1)" font-size="16" text-anchor="end">LVESD</text>
<rect x="755.90" y="582.40" width="15.10" height="114.80" fill="#7898ca"/>
<line x1="763.45" y1="582.40" x2="763.45" y2="570.70" stroke="#6a6a6a" stroke-width="1.3"/>
<line x1="760.15" y1="570.70" x2="766.75" y2="570.70" stroke="#6a6a6a" stroke-width="1.3"/>
<rect x="773.30" y="655.30" width="15.50" height="41.90" fill="#b9605a"/>
<line x1="781.05" y1="655.30" x2="781.05" y2="650.10" stroke="#6a6a6a" stroke-width="1.3"/>
<line x1="777.75" y1="650.10" x2="784.35" y2="650.10" stroke="#6a6a6a" stroke-width="1.3"/>
<line x1="744.20" y1="561.20" x2="744.20" y2="699.20" stroke="#7a7a7a" stroke-width="1.1"/>
<line x1="741.70" y1="697.20" x2="798.70" y2="697.20" stroke="#7a7a7a" stroke-width="1.1"/>
<line x1="741.70" y1="697.20" x2="744.20" y2="697.20" stroke="#7a7a7a" stroke-width="1.1"/>
<text transform="translate(736.80 702.30) scale(1.035 1)" font-size="16" text-anchor="end">0</text>
<line x1="741.70" y1="674.50" x2="744.20" y2="674.50" stroke="#7a7a7a" stroke-width="1.1"/>
<text transform="translate(736.80 679.60) scale(1.035 1)" font-size="16" text-anchor="end">5</text>
<line x1="741.70" y1="652.00" x2="744.20" y2="652.00" stroke="#7a7a7a" stroke-width="1.1"/>
<text transform="translate(736.80 657.10) scale(1.035 1)" font-size="16" text-anchor="end">10</text>
<line x1="741.70" y1="629.30" x2="744.20" y2="629.30" stroke="#7a7a7a" stroke-width="1.1"/>
<text transform="translate(736.80 634.40) scale(1.035 1)" font-size="16" text-anchor="end">15</text>
<line x1="741.70" y1="606.50" x2="744.20" y2="606.50" stroke="#7a7a7a" stroke-width="1.1"/>
<text transform="translate(736.80 611.60) scale(1.035 1)" font-size="16" text-anchor="end">20</text>
<line x1="741.70" y1="583.70" x2="744.20" y2="583.70" stroke="#7a7a7a" stroke-width="1.1"/>
<text transform="translate(736.80 588.80) scale(1.035 1)" font-size="16" text-anchor="end">25</text>
<line x1="741.70" y1="561.20" x2="744.20" y2="561.20" stroke="#7a7a7a" stroke-width="1.1"/>
<text transform="translate(736.80 566.30) scale(1.035 1)" font-size="16" text-anchor="end">30</text>
<line x1="798.70" y1="697.20" x2="798.70" y2="700.20" stroke="#7a7a7a" stroke-width="1.1"/>
<path d="M762.4,556.9 L762.4,554.4 L780.6,554.4 L780.6,569.0" fill="none" stroke="#3f3f3f" stroke-width="1.4"/>
<path d="M759.82,543.70 L759.82,550.50 M762.77,545.40 L756.88,548.80 M762.77,548.80 L756.88,545.40 " fill="none" stroke="#6a6a6a" stroke-width="1.0"/>
<path d="M767.67,543.70 L767.67,550.50 M770.62,545.40 L764.73,548.80 M770.62,548.80 L764.73,545.40 " fill="none" stroke="#6a6a6a" stroke-width="1.0"/>
<path d="M775.52,543.70 L775.52,550.50 M778.47,545.40 L772.58,548.80 M778.47,548.80 L772.58,545.40 " fill="none" stroke="#6a6a6a" stroke-width="1.0"/>
<path d="M783.38,543.70 L783.38,550.50 M786.32,545.40 L780.43,548.80 M786.32,548.80 L780.43,545.40 " fill="none" stroke="#6a6a6a" stroke-width="1.0"/>
<text transform="translate(707.00 629.60) rotate(-90) scale(1.035 1)" font-size="16" text-anchor="middle">Blood volume (µl)</text>
<text transform="translate(782.15 712.30) rotate(-45) scale(1.035 1)" font-size="16" text-anchor="end">SV</text>
<rect x="872.40" y="660.90" width="15.40" height="36.30" fill="#7898ca"/>
<line x1="880.10" y1="660.90" x2="880.10" y2="658.10" stroke="#6a6a6a" stroke-width="1.3"/>
<line x1="876.80" y1="658.10" x2="883.40" y2="658.10" stroke="#6a6a6a" stroke-width="1.3"/>
<rect x="888.60" y="606.10" width="15.50" height="91.10" fill="#b9605a"/>
<line x1="896.35" y1="606.10" x2="896.35" y2="597.50" stroke="#6a6a6a" stroke-width="1.3"/>
<line x1="893.05" y1="597.50" x2="899.65" y2="597.50" stroke="#6a6a6a" stroke-width="1.3"/>
<rect x="915.10" y="666.90" width="15.30" height="30.30" fill="#7898ca"/>
<line x1="922.75" y1="666.90" x2="922.75" y2="665.30" stroke="#6a6a6a" stroke-width="1.3"/>
<line x1="919.45" y1="665.30" x2="926.05" y2="665.30" stroke="#6a6a6a" stroke-width="1.3"/>
<rect x="931.40" y="582.80" width="15.40" height="114.40" fill="#b9605a"/>
<line x1="939.10" y1="582.80" x2="939.10" y2="576.70" stroke="#6a6a6a" stroke-width="1.3"/>
<line x1="935.80" y1="576.70" x2="942.40" y2="576.70" stroke="#6a6a6a" stroke-width="1.3"/>
<line x1="866.70" y1="568.20" x2="866.70" y2="699.20" stroke="#7a7a7a" stroke-width="1.1"/>
<line x1="864.20" y1="697.20" x2="952.00" y2="697.20" stroke="#7a7a7a" stroke-width="1.1"/>
<line x1="864.20" y1="697.20" x2="866.70" y2="697.20" stroke="#7a7a7a" stroke-width="1.1"/>
<text transform="translate(860.10 702.30) scale(1.035 1)" font-size="16" text-anchor="end">0</text>
<line x1="864.20" y1="675.50" x2="866.70" y2="675.50" stroke="#7a7a7a" stroke-width="1.1"/>
<text transform="translate(860.10 680.60) scale(1.035 1)" font-size="16" text-anchor="end">0.5</text>
<line x1="864.20" y1="654.10" x2="866.70" y2="654.10" stroke="#7a7a7a" stroke-width="1.1"/>
<text transform="translate(860.10 659.20) scale(1.035 1)" font-size="16" text-anchor="end">1.0</text>
<line x1="864.20" y1="632.40" x2="866.70" y2="632.40" stroke="#7a7a7a" stroke-width="1.1"/>
<text transform="translate(860.10 637.50) scale(1.035 1)" font-size="16" text-anchor="end">1.5</text>
<line x1="864.20" y1="611.00" x2="866.70" y2="611.00" stroke="#7a7a7a" stroke-width="1.1"/>
<text transform="translate(860.10 616.10) scale(1.035 1)" font-size="16" text-anchor="end">2.0</text>
<line x1="864.20" y1="589.30" x2="866.70" y2="589.30" stroke="#7a7a7a" stroke-width="1.1"/>
<text transform="translate(860.10 594.40) scale(1.035 1)" font-size="16" text-anchor="end">2.5</text>
<line x1="864.20" y1="568.20" x2="866.70" y2="568.20" stroke="#7a7a7a" stroke-width="1.1"/>
<text transform="translate(860.10 573.30) scale(1.035 1)" font-size="16" text-anchor="end">3.0</text>
<line x1="909.30" y1="697.20" x2="909.30" y2="700.20" stroke="#7a7a7a" stroke-width="1.1"/>
<line x1="952.00" y1="697.20" x2="952.00" y2="700.20" stroke="#7a7a7a" stroke-width="1.1"/>
<path d="M881.3,599.1 L881.3,577.6 L895.9,577.6 L895.9,580.1" fill="none" stroke="#3f3f3f" stroke-width="1.4"/>
<path d="M922.8,574.2 L922.8,551.1 L939.3,551.1 L939.3,554.1" fill="none" stroke="#3f3f3f" stroke-width="1.4"/>
<path d="M884.95,568.10 L884.95,574.90 M887.89,569.80 L882.01,573.20 M887.89,573.20 L882.01,569.80 " fill="none" stroke="#6a6a6a" stroke-width="1.0"/>
<path d="M892.25,568.10 L892.25,574.90 M895.19,569.80 L889.31,573.20 M895.19,573.20 L889.31,569.80 " fill="none" stroke="#6a6a6a" stroke-width="1.0"/>
<path d="M918.96,540.90 L918.96,547.70 M921.91,542.60 L916.02,546.00 M921.91,546.00 L916.02,542.60 " fill="none" stroke="#6a6a6a" stroke-width="1.0"/>
<path d="M926.69,540.90 L926.69,547.70 M929.63,542.60 L923.74,546.00 M929.63,546.00 L923.74,542.60 " fill="none" stroke="#6a6a6a" stroke-width="1.0"/>
<path d="M934.41,540.90 L934.41,547.70 M937.36,542.60 L931.47,546.00 M937.36,546.00 L931.47,542.60 " fill="none" stroke="#6a6a6a" stroke-width="1.0"/>
<path d="M942.14,540.90 L942.14,547.70 M945.08,542.60 L939.19,546.00 M945.08,546.00 L939.19,542.60 " fill="none" stroke="#6a6a6a" stroke-width="1.0"/>
<text transform="translate(824.50 633.30) rotate(-90) scale(1.035 1)" font-size="16" text-anchor="middle">Wall thickness (mm)</text>
<text transform="translate(898.05 712.30) rotate(-45) scale(1.035 1)" font-size="16" text-anchor="end">LVAW</text>
<text transform="translate(940.75 712.30) rotate(-45) scale(1.035 1)" font-size="16" text-anchor="end">LVPW</text>
<rect x="1001.70" y="591.80" width="15.00" height="105.40" fill="#7898ca"/>
<line x1="1009.20" y1="591.80" x2="1009.20" y2="587.70" stroke="#6a6a6a" stroke-width="1.3"/>
<line x1="1005.90" y1="587.70" x2="1012.50" y2="587.70" stroke="#6a6a6a" stroke-width="1.3"/>
<rect x="1018.30" y="646.70" width="15.00" height="50.50" fill="#b9605a"/>
<line x1="1025.80" y1="646.70" x2="1025.80" y2="639.40" stroke="#6a6a6a" stroke-width="1.3"/>
<line x1="1022.50" y1="639.40" x2="1029.10" y2="639.40" stroke="#6a6a6a" stroke-width="1.3"/>
<rect x="1044.80" y="623.80" width="15.30" height="73.40" fill="#7898ca"/>
<line x1="1052.45" y1="623.80" x2="1052.45" y2="619.40" stroke="#6a6a6a" stroke-width="1.3"/>
<line x1="1049.15" y1="619.40" x2="1055.75" y2="619.40" stroke="#6a6a6a" stroke-width="1.3"/>
<rect x="1061.10" y="676.80" width="14.90" height="20.40" fill="#b9605a"/>
<line x1="1068.55" y1="676.80" x2="1068.55" y2="671.50" stroke="#6a6a6a" stroke-width="1.3"/>
<line x1="1065.25" y1="671.50" x2="1071.85" y2="671.50" stroke="#6a6a6a" stroke-width="1.3"/>
<line x1="996.00" y1="568.50" x2="996.00" y2="699.20" stroke="#7a7a7a" stroke-width="1.1"/>
<line x1="993.50" y1="697.20" x2="1081.40" y2="697.20" stroke="#7a7a7a" stroke-width="1.1"/>
<line x1="993.50" y1="697.20" x2="996.00" y2="697.20" stroke="#7a7a7a" stroke-width="1.1"/>
<text transform="translate(988.50 702.30) scale(1.035 1)" font-size="16" text-anchor="end">0</text>
<line x1="993.50" y1="671.10" x2="996.00" y2="671.10" stroke="#7a7a7a" stroke-width="1.1"/>
<text transform="translate(988.50 676.20) scale(1.035 1)" font-size="16" text-anchor="end">1</text>
<line x1="993.50" y1="645.40" x2="996.00" y2="645.40" stroke="#7a7a7a" stroke-width="1.1"/>
<text transform="translate(988.50 650.50) scale(1.035 1)" font-size="16" text-anchor="end">2</text>
<line x1="993.50" y1="619.80" x2="996.00" y2="619.80" stroke="#7a7a7a" stroke-width="1.1"/>
<text transform="translate(988.50 624.90) scale(1.035 1)" font-size="16" text-anchor="end">3</text>
<line x1="993.50" y1="593.90" x2="996.00" y2="593.90" stroke="#7a7a7a" stroke-width="1.1"/>
<text transform="translate(988.50 599.00) scale(1.035 1)" font-size="16" text-anchor="end">4</text>
<line x1="993.50" y1="568.50" x2="996.00" y2="568.50" stroke="#7a7a7a" stroke-width="1.1"/>
<text transform="translate(988.50 573.60) scale(1.035 1)" font-size="16" text-anchor="end">5</text>
<line x1="1038.60" y1="697.20" x2="1038.60" y2="700.20" stroke="#7a7a7a" stroke-width="1.1"/>
<line x1="1081.40" y1="697.20" x2="1081.40" y2="700.20" stroke="#7a7a7a" stroke-width="1.1"/>
<path d="M1008.5,563.8 L1008.5,560.6 L1025.1,560.6 L1025.1,583.7" fill="none" stroke="#3f3f3f" stroke-width="1.4"/>
<path d="M1052.4,600.7 L1052.4,598.0 L1070.3,598.0 L1070.3,621.1" fill="none" stroke="#3f3f3f" stroke-width="1.4"/>
<path d="M1009.48,549.40 L1009.48,556.20 M1012.43,551.10 L1006.54,554.50 M1012.43,554.50 L1006.54,551.10 " fill="none" stroke="#6a6a6a" stroke-width="1.0"/>
<path d="M1017.25,549.40 L1017.25,556.20 M1020.19,551.10 L1014.31,554.50 M1020.19,554.50 L1014.31,551.10 " fill="none" stroke="#6a6a6a" stroke-width="1.0"/>
<path d="M1025.02,549.40 L1025.02,556.20 M1027.96,551.10 L1022.07,554.50 M1027.96,554.50 L1022.07,551.10 " fill="none" stroke="#6a6a6a" stroke-width="1.0"/>
<path d="M1053.80,587.10 L1053.80,593.90 M1056.74,588.80 L1050.86,592.20 M1056.74,592.20 L1050.86,588.80 " fill="none" stroke="#6a6a6a" stroke-width="1.0"/>
<path d="M1061.40,587.10 L1061.40,593.90 M1064.34,588.80 L1058.46,592.20 M1064.34,592.20 L1058.46,588.80 " fill="none" stroke="#6a6a6a" stroke-width="1.0"/>
<path d="M1069.00,587.10 L1069.00,593.90 M1071.94,588.80 L1066.06,592.20 M1071.94,592.20 L1066.06,588.80 " fill="none" stroke="#6a6a6a" stroke-width="1.0"/>
<text transform="translate(971.30 632.90) rotate(-90) scale(1.035 1)" font-size="16" text-anchor="middle">Diameter (mm)</text>
<text transform="translate(1027.30 712.30) rotate(-45) scale(1.035 1)" font-size="16" text-anchor="end">LVEDD</text>
<text transform="translate(1070.20 712.30) rotate(-45) scale(1.035 1)" font-size="16" text-anchor="end">LVESD</text>
<rect x="1150.20" y="583.20" width="15.50" height="114.00" fill="#7898ca"/>
<line x1="1157.95" y1="583.20" x2="1157.95" y2="572.60" stroke="#6a6a6a" stroke-width="1.3"/>
<line x1="1154.65" y1="572.60" x2="1161.25" y2="572.60" stroke="#6a6a6a" stroke-width="1.3"/>
<rect x="1167.30" y="663.80" width="14.70" height="33.40" fill="#b9605a"/>
<line x1="1174.65" y1="663.80" x2="1174.65" y2="653.60" stroke="#6a6a6a" stroke-width="1.3"/>
<line x1="1171.35" y1="653.60" x2="1177.95" y2="653.60" stroke="#6a6a6a" stroke-width="1.3"/>
<line x1="1137.40" y1="560.90" x2="1137.40" y2="699.20" stroke="#7a7a7a" stroke-width="1.1"/>
<line x1="1134.90" y1="697.20" x2="1194.60" y2="697.20" stroke="#7a7a7a" stroke-width="1.1"/>
<line x1="1134.90" y1="697.20" x2="1137.40" y2="697.20" stroke="#7a7a7a" stroke-width="1.1"/>
<text transform="translate(1129.80 702.30) scale(1.035 1)" font-size="16" text-anchor="end">0</text>
<line x1="1134.90" y1="669.50" x2="1137.40" y2="669.50" stroke="#7a7a7a" stroke-width="1.1"/>
<text transform="translate(1129.80 674.60) scale(1.035 1)" font-size="16" text-anchor="end">10</text>
<line x1="1134.90" y1="642.20" x2="1137.40" y2="642.20" stroke="#7a7a7a" stroke-width="1.1"/>
<text transform="translate(1129.80 647.30) scale(1.035 1)" font-size="16" text-anchor="end">20</text>
<line x1="1134.90" y1="615.00" x2="1137.40" y2="615.00" stroke="#7a7a7a" stroke-width="1.1"/>
<text transform="translate(1129.80 620.10) scale(1.035 1)" font-size="16" text-anchor="end">30</text>
<line x1="1134.90" y1="587.70" x2="1137.40" y2="587.70" stroke="#7a7a7a" stroke-width="1.1"/>
<text transform="translate(1129.80 592.80) scale(1.035 1)" font-size="16" text-anchor="end">40</text>
<line x1="1134.90" y1="560.90" x2="1137.40" y2="560.90" stroke="#7a7a7a" stroke-width="1.1"/>
<text transform="translate(1129.80 566.00) scale(1.035 1)" font-size="16" text-anchor="end">50</text>
<line x1="1194.60" y1="697.20" x2="1194.60" y2="700.20" stroke="#7a7a7a" stroke-width="1.1"/>
<path d="M1156.7,551.1 L1156.7,548.7 L1175.1,548.7 L1175.1,569.0" fill="none" stroke="#3f3f3f" stroke-width="1.4"/>
<path d="M1158.28,538.00 L1158.28,544.80 M1161.23,539.70 L1155.34,543.10 M1161.23,543.10 L1155.34,539.70 " fill="none" stroke="#6a6a6a" stroke-width="1.0"/>
<path d="M1165.85,538.00 L1165.85,544.80 M1168.79,539.70 L1162.91,543.10 M1168.79,543.10 L1162.91,539.70 " fill="none" stroke="#6a6a6a" stroke-width="1.0"/>
<path d="M1173.42,538.00 L1173.42,544.80 M1176.36,539.70 L1170.47,543.10 M1176.36,543.10 L1170.47,539.70 " fill="none" stroke="#6a6a6a" stroke-width="1.0"/>
<text transform="translate(1099.60 629.20) rotate(-90) scale(1.035 1)" font-size="16" text-anchor="middle">Blood volume (µl)</text>
<text transform="translate(1175.90 712.30) rotate(-45) scale(1.035 1)" font-size="16" text-anchor="end">SV</text>
<text transform="translate(9.50 779.00)" font-size="18" font-weight="bold" fill="#111">j</text>
<text transform="translate(403.50 779.40)" font-size="18" font-weight="bold" fill="#111">k</text>
<text transform="translate(801.50 779.40)" font-size="18" font-weight="bold" fill="#111">l</text>
<line x1="92.30" y1="813.30" x2="92.30" y2="932.40" stroke="#7a7a7a" stroke-width="1.1"/>
<line x1="92.30" y1="932.40" x2="288.90" y2="932.40" stroke="#7a7a7a" stroke-width="1.1"/>
<line x1="89.80" y1="932.40" x2="92.30" y2="932.40" stroke="#7a7a7a" stroke-width="1.1"/>
<text transform="translate(83.70 936.60) scale(1.035 1)" font-size="16" text-anchor="end">0</text>
<line x1="89.80" y1="915.39" x2="92.30" y2="915.39" stroke="#7a7a7a" stroke-width="1.1"/>
<text transform="translate(83.70 919.59) scale(1.035 1)" font-size="16" text-anchor="end">1</text>
<line x1="89.80" y1="898.38" x2="92.30" y2="898.38" stroke="#7a7a7a" stroke-width="1.1"/>
<text transform="translate(83.70 902.58) scale(1.035 1)" font-size="16" text-anchor="end">2</text>
<line x1="89.80" y1="881.37" x2="92.30" y2="881.37" stroke="#7a7a7a" stroke-width="1.1"/>
<text transform="translate(83.70 885.57) scale(1.035 1)" font-size="16" text-anchor="end">3</text>
<line x1="89.80" y1="864.36" x2="92.30" y2="864.36" stroke="#7a7a7a" stroke-width="1.1"/>
<text transform="translate(83.70 868.56) scale(1.035 1)" font-size="16" text-anchor="end">4</text>
<line x1="89.80" y1="847.35" x2="92.30" y2="847.35" stroke="#7a7a7a" stroke-width="1.1"/>
<text transform="translate(83.70 851.55) scale(1.035 1)" font-size="16" text-anchor="end">5</text>
<line x1="89.80" y1="830.34" x2="92.30" y2="830.34" stroke="#7a7a7a" stroke-width="1.1"/>
<text transform="translate(83.70 834.54) scale(1.035 1)" font-size="16" text-anchor="end">6</text>
<line x1="89.80" y1="813.33" x2="92.30" y2="813.33" stroke="#7a7a7a" stroke-width="1.1"/>
<text transform="translate(83.70 817.53) scale(1.035 1)" font-size="16" text-anchor="end">7</text>
<line x1="104.60" y1="932.40" x2="104.60" y2="935.40" stroke="#7a7a7a" stroke-width="1.1"/>
<text transform="translate(104.60 952.20) scale(1.035 1)" font-size="16" text-anchor="middle">0</text>
<line x1="129.04" y1="932.40" x2="129.04" y2="935.40" stroke="#7a7a7a" stroke-width="1.1"/>
<text transform="translate(129.04 952.20) scale(1.035 1)" font-size="16" text-anchor="middle">1</text>
<line x1="153.48" y1="932.40" x2="153.48" y2="935.40" stroke="#7a7a7a" stroke-width="1.1"/>
<text transform="translate(153.48 952.20) scale(1.035 1)" font-size="16" text-anchor="middle">2</text>
<line x1="177.92" y1="932.40" x2="177.92" y2="935.40" stroke="#7a7a7a" stroke-width="1.1"/>
<text transform="translate(177.92 952.20) scale(1.035 1)" font-size="16" text-anchor="middle">3</text>
<line x1="202.36" y1="932.40" x2="202.36" y2="935.40" stroke="#7a7a7a" stroke-width="1.1"/>
<text transform="translate(202.36 952.20) scale(1.035 1)" font-size="16" text-anchor="middle">4</text>
<line x1="226.80" y1="932.40" x2="226.80" y2="935.40" stroke="#7a7a7a" stroke-width="1.1"/>
<text transform="translate(226.80 952.20) scale(1.035 1)" font-size="16" text-anchor="middle">5</text>
<line x1="251.24" y1="932.40" x2="251.24" y2="935.40" stroke="#7a7a7a" stroke-width="1.1"/>
<text transform="translate(251.24 952.20) scale(1.035 1)" font-size="16" text-anchor="middle">6</text>
<line x1="275.68" y1="932.40" x2="275.68" y2="935.40" stroke="#7a7a7a" stroke-width="1.1"/>
<text transform="translate(275.68 952.20) scale(1.035 1)" font-size="16" text-anchor="middle">7</text>
<line x1="288.90" y1="932.40" x2="288.90" y2="935.40" stroke="#7a7a7a" stroke-width="1.1"/>
<line x1="177.92" y1="876.61" x2="177.92" y2="879.33" stroke="#5c5c5c" stroke-width="1.1"/>
<line x1="175.32" y1="876.61" x2="180.52" y2="876.61" stroke="#5c5c5c" stroke-width="1.1"/>
<line x1="175.32" y1="879.33" x2="180.52" y2="879.33" stroke="#5c5c5c" stroke-width="1.1"/>
<line x1="202.36" y1="865.21" x2="202.36" y2="868.61" stroke="#5c5c5c" stroke-width="1.1"/>
<line x1="199.76" y1="865.21" x2="204.96" y2="865.21" stroke="#5c5c5c" stroke-width="1.1"/>
<line x1="199.76" y1="868.61" x2="204.96" y2="868.61" stroke="#5c5c5c" stroke-width="1.1"/>
<line x1="226.80" y1="851.60" x2="226.80" y2="860.11" stroke="#5c5c5c" stroke-width="1.1"/>
<line x1="224.20" y1="851.60" x2="229.40" y2="851.60" stroke="#5c5c5c" stroke-width="1.1"/>
<line x1="224.20" y1="860.11" x2="229.40" y2="860.11" stroke="#5c5c5c" stroke-width="1.1"/>
<line x1="251.24" y1="840.55" x2="251.24" y2="850.75" stroke="#5c5c5c" stroke-width="1.1"/>
<line x1="248.64" y1="840.55" x2="253.84" y2="840.55" stroke="#5c5c5c" stroke-width="1.1"/>
<line x1="248.64" y1="850.75" x2="253.84" y2="850.75" stroke="#5c5c5c" stroke-width="1.1"/>
<line x1="275.68" y1="827.45" x2="275.68" y2="838.33" stroke="#5c5c5c" stroke-width="1.1"/>
<line x1="273.08" y1="827.45" x2="278.28" y2="827.45" stroke="#5c5c5c" stroke-width="1.1"/>
<line x1="273.08" y1="838.33" x2="278.28" y2="838.33" stroke="#5c5c5c" stroke-width="1.1"/>
<path d="M104.6,904.3 C108.7,903.1 120.9,899.4 129.0,896.7 C137.2,894.0 145.3,891.3 153.5,888.2 C161.6,885.1 169.8,881.5 177.9,878.0 C186.1,874.4 194.2,870.6 202.4,866.9 C210.5,863.2 218.7,859.4 226.8,855.9 C234.9,852.3 243.1,849.5 251.2,845.6 C259.4,841.8 271.6,835.0 275.7,832.9 " fill="none" stroke="#7898ca" stroke-width="4.8" stroke-linecap="round"/>
<line x1="202.36" y1="869.46" x2="202.36" y2="872.87" stroke="#5c5c5c" stroke-width="1.1"/>
<line x1="199.76" y1="869.46" x2="204.96" y2="869.46" stroke="#5c5c5c" stroke-width="1.1"/>
<line x1="199.76" y1="872.87" x2="204.96" y2="872.87" stroke="#5c5c5c" stroke-width="1.1"/>
<line x1="226.80" y1="863.85" x2="226.80" y2="869.97" stroke="#5c5c5c" stroke-width="1.1"/>
<line x1="224.20" y1="863.85" x2="229.40" y2="863.85" stroke="#5c5c5c" stroke-width="1.1"/>
<line x1="224.20" y1="869.97" x2="229.40" y2="869.97" stroke="#5c5c5c" stroke-width="1.1"/>
<line x1="251.24" y1="862.32" x2="251.24" y2="868.10" stroke="#5c5c5c" stroke-width="1.1"/>
<line x1="248.64" y1="862.32" x2="253.84" y2="862.32" stroke="#5c5c5c" stroke-width="1.1"/>
<line x1="248.64" y1="868.10" x2="253.84" y2="868.10" stroke="#5c5c5c" stroke-width="1.1"/>
<line x1="275.68" y1="863.51" x2="275.68" y2="868.61" stroke="#5c5c5c" stroke-width="1.1"/>
<line x1="273.08" y1="863.51" x2="278.28" y2="863.51" stroke="#5c5c5c" stroke-width="1.1"/>
<line x1="273.08" y1="868.61" x2="278.28" y2="868.61" stroke="#5c5c5c" stroke-width="1.1"/>
<path d="M104.6,904.3 C108.7,903.1 120.9,899.2 129.0,896.7 C137.2,894.1 145.3,891.9 153.5,889.0 C161.6,886.2 169.8,882.6 177.9,879.7 C186.1,876.7 194.2,873.3 202.4,871.2 C210.5,869.0 218.7,867.9 226.8,866.9 C234.9,865.9 243.1,865.4 251.2,865.2 C259.4,865.1 271.6,865.9 275.7,866.1 " fill="none" stroke="#b9605a" stroke-width="4.8" stroke-linecap="round"/>
<line x1="226.80" y1="851.60" x2="226.80" y2="860.11" stroke="#5c5c5c" stroke-width="1.1"/>
<line x1="224.20" y1="851.60" x2="229.40" y2="851.60" stroke="#5c5c5c" stroke-width="1.1"/>
<line x1="224.20" y1="860.11" x2="229.40" y2="860.11" stroke="#5c5c5c" stroke-width="1.1"/>
<line x1="251.24" y1="840.55" x2="251.24" y2="850.75" stroke="#5c5c5c" stroke-width="1.1"/>
<line x1="248.64" y1="840.55" x2="253.84" y2="840.55" stroke="#5c5c5c" stroke-width="1.1"/>
<line x1="248.64" y1="850.75" x2="253.84" y2="850.75" stroke="#5c5c5c" stroke-width="1.1"/>
<line x1="275.68" y1="827.45" x2="275.68" y2="838.33" stroke="#5c5c5c" stroke-width="1.1"/>
<line x1="273.08" y1="827.45" x2="278.28" y2="827.45" stroke="#5c5c5c" stroke-width="1.1"/>
<line x1="273.08" y1="838.33" x2="278.28" y2="838.33" stroke="#5c5c5c" stroke-width="1.1"/>
<path d="M226.80,839.00 L226.80,845.80 M229.74,840.70 L223.86,844.10 M229.74,844.10 L223.86,840.70 " fill="none" stroke="#6a6a6a" stroke-width="1.0"/>
<path d="M251.24,820.70 L251.24,827.50 M254.18,822.40 L248.30,825.80 M254.18,825.80 L248.30,822.40 " fill="none" stroke="#6a6a6a" stroke-width="1.0"/>
<path d="M251.24,829.30 L251.24,836.10 M254.18,831.00 L248.30,834.40 M254.18,834.40 L248.30,831.00 " fill="none" stroke="#6a6a6a" stroke-width="1.0"/>
<path d="M275.68,798.05 L275.68,804.85 M278.62,799.75 L272.74,803.15 M278.62,803.15 L272.74,799.75 " fill="none" stroke="#6a6a6a" stroke-width="1.0"/>
<path d="M275.68,806.55 L275.68,813.35 M278.62,808.25 L272.74,811.65 M278.62,811.65 L272.74,808.25 " fill="none" stroke="#6a6a6a" stroke-width="1.0"/>
<path d="M275.68,815.05 L275.68,821.85 M278.62,816.75 L272.74,820.15 M278.62,820.15 L272.74,816.75 " fill="none" stroke="#6a6a6a" stroke-width="1.0"/>
<text transform="translate(62.60 873.00) rotate(-90) scale(1.035 1)" font-size="16" text-anchor="middle">Body weight (g)</text>
<text transform="translate(190.50 973.90) scale(1.035 1)" font-size="16" text-anchor="middle">Time (d)</text>
<line x1="99.50" y1="775.50" x2="115.00" y2="775.50" stroke="#7898ca" stroke-width="4.6" stroke-linecap="round"/>
<text transform="translate(122.90 780.40) scale(1.035 1)" font-size="16">Ctrl</text>
<line x1="99.50" y1="793.00" x2="115.00" y2="793.00" stroke="#b9605a" stroke-width="4.6" stroke-linecap="round"/>
<text transform="translate(122.90 797.70) scale(1.035 1)" font-size="16">Neonatal ca<tspan font-style="italic">Erbb2</tspan></text>
<text transform="translate(331.50 787.70) scale(1.035 1)" font-size="16" text-anchor="middle">P7</text>
<line x1="308.50" y1="799.90" x2="327.00" y2="799.90" stroke="#7898ca" stroke-width="4" stroke-linecap="round"/>
<line x1="333.50" y1="799.90" x2="352.30" y2="799.90" stroke="#b9605a" stroke-width="4" stroke-linecap="round"/>
<path d="M322,852 Q324.5,866 326,878.5" fill="none" stroke="#2b1f22" stroke-width="1.6" stroke-linecap="round"/>
<path d="M320.0,811.7 C321.2,811.7 322.8,813.0 323.8,814.2 C324.7,815.5 324.8,817.4 325.6,819.3 C326.3,821.1 327.6,822.9 328.2,825.1 C328.9,827.4 329.2,830.0 329.4,832.7 C329.7,835.4 329.9,838.4 329.9,841.1 C329.8,843.8 329.7,846.6 329.0,848.7 C328.3,850.7 327.0,852.4 325.9,853.3 C324.7,854.1 323.4,853.7 322.1,853.7 C320.8,853.7 319.5,854.1 318.3,853.3 C317.1,852.4 315.6,850.7 314.7,848.7 C313.8,846.6 313.4,843.8 313.1,841.1 C312.7,838.4 312.6,835.4 312.7,832.7 C312.7,830.0 312.7,827.4 313.1,825.1 C313.5,822.9 314.6,821.1 315.2,819.3 C315.7,817.4 315.7,815.5 316.5,814.2 C317.3,813.0 318.8,811.7 320.0,811.7 Z" fill="#2b1f22"/>
<path d="M314,844 L309.5,848.5 M328.5,840.5 L334.5,841.5" fill="none" stroke="#2b1f22" stroke-width="3.2" stroke-linecap="round"/>
<path d="M345,845 Q342,856 334.5,862.7" fill="none" stroke="#2b1f22" stroke-width="1.4" stroke-linecap="round"/>
<path d="M346.5,812.1 C347.3,812.1 348.3,813.1 348.8,814.2 C349.3,815.2 349.3,816.8 349.7,818.3 C350.0,819.8 350.7,821.3 351.0,823.1 C351.3,824.9 351.4,827.1 351.4,829.3 C351.4,831.5 351.4,834.0 351.2,836.2 C351.0,838.4 350.7,840.7 350.2,842.4 C349.6,844.0 348.7,845.5 347.9,846.2 C347.1,846.8 346.3,846.5 345.5,846.5 C344.7,846.5 343.8,846.8 343.0,846.2 C342.3,845.5 341.4,844.0 341.0,842.4 C340.6,840.7 340.4,838.4 340.4,836.2 C340.3,834.0 340.4,831.5 340.6,829.3 C340.7,827.1 340.9,824.9 341.3,823.1 C341.7,821.3 342.5,819.8 343.0,818.3 C343.4,816.8 343.5,815.2 344.1,814.2 C344.7,813.1 345.7,812.1 346.5,812.1 Z" fill="#2b1f22"/>
<path d="M342,830.5 L337.5,833.8 M351,835 L353.8,837.4" fill="none" stroke="#2b1f22" stroke-width="2.6" stroke-linecap="round"/>
<line x1="482.90" y1="808.60" x2="482.90" y2="932.40" stroke="#7a7a7a" stroke-width="1.1"/>
<line x1="482.90" y1="932.40" x2="663.80" y2="932.40" stroke="#7a7a7a" stroke-width="1.1"/>
<line x1="480.40" y1="932.40" x2="482.90" y2="932.40" stroke="#7a7a7a" stroke-width="1.1"/>
<text transform="translate(476.20 936.60) scale(1.035 1)" font-size="16" text-anchor="end">0</text>
<line x1="480.40" y1="901.45" x2="482.90" y2="901.45" stroke="#7a7a7a" stroke-width="1.1"/>
<text transform="translate(476.20 905.65) scale(1.035 1)" font-size="16" text-anchor="end">5</text>
<line x1="480.40" y1="870.50" x2="482.90" y2="870.50" stroke="#7a7a7a" stroke-width="1.1"/>
<text transform="translate(476.20 874.70) scale(1.035 1)" font-size="16" text-anchor="end">10</text>
<line x1="480.40" y1="839.55" x2="482.90" y2="839.55" stroke="#7a7a7a" stroke-width="1.1"/>
<text transform="translate(476.20 843.75) scale(1.035 1)" font-size="16" text-anchor="end">15</text>
<line x1="480.40" y1="808.60" x2="482.90" y2="808.60" stroke="#7a7a7a" stroke-width="1.1"/>
<text transform="translate(476.20 812.80) scale(1.035 1)" font-size="16" text-anchor="end">20</text>
<line x1="495.20" y1="932.40" x2="495.20" y2="935.40" stroke="#7a7a7a" stroke-width="1.1"/>
<text transform="translate(495.20 952.20) scale(1.035 1)" font-size="16" text-anchor="middle">7</text>
<line x1="517.67" y1="932.40" x2="517.67" y2="935.40" stroke="#7a7a7a" stroke-width="1.1"/>
<text transform="translate(517.67 952.20) scale(1.035 1)" font-size="16" text-anchor="middle">10</text>
<line x1="540.14" y1="932.40" x2="540.14" y2="935.40" stroke="#7a7a7a" stroke-width="1.1"/>
<text transform="translate(540.14 952.20) scale(1.035 1)" font-size="16" text-anchor="middle">13</text>
<line x1="562.61" y1="932.40" x2="562.61" y2="935.40" stroke="#7a7a7a" stroke-width="1.1"/>
<text transform="translate(562.61 952.20) scale(1.035 1)" font-size="16" text-anchor="middle">16</text>
<line x1="585.08" y1="932.40" x2="585.08" y2="935.40" stroke="#7a7a7a" stroke-width="1.1"/>
<text transform="translate(585.08 952.20) scale(1.035 1)" font-size="16" text-anchor="middle">19</text>
<line x1="607.55" y1="932.40" x2="607.55" y2="935.40" stroke="#7a7a7a" stroke-width="1.1"/>
<text transform="translate(607.55 952.20) scale(1.035 1)" font-size="16" text-anchor="middle">22</text>
<line x1="630.02" y1="932.40" x2="630.02" y2="935.40" stroke="#7a7a7a" stroke-width="1.1"/>
<text transform="translate(630.02 952.20) scale(1.035 1)" font-size="16" text-anchor="middle">25</text>
<line x1="652.49" y1="932.40" x2="652.49" y2="935.40" stroke="#7a7a7a" stroke-width="1.1"/>
<text transform="translate(652.49 952.20) scale(1.035 1)" font-size="16" text-anchor="middle">28</text>
<line x1="663.80" y1="932.40" x2="663.80" y2="935.40" stroke="#7a7a7a" stroke-width="1.1"/>
<line x1="495.20" y1="907.02" x2="495.20" y2="910.74" stroke="#5c5c5c" stroke-width="1.1"/>
<line x1="492.60" y1="907.02" x2="497.80" y2="907.02" stroke="#5c5c5c" stroke-width="1.1"/>
<line x1="492.60" y1="910.74" x2="497.80" y2="910.74" stroke="#5c5c5c" stroke-width="1.1"/>
<line x1="517.67" y1="900.21" x2="517.67" y2="903.93" stroke="#5c5c5c" stroke-width="1.1"/>
<line x1="515.07" y1="900.21" x2="520.27" y2="900.21" stroke="#5c5c5c" stroke-width="1.1"/>
<line x1="515.07" y1="903.93" x2="520.27" y2="903.93" stroke="#5c5c5c" stroke-width="1.1"/>
<line x1="540.14" y1="894.95" x2="540.14" y2="899.28" stroke="#5c5c5c" stroke-width="1.1"/>
<line x1="537.54" y1="894.95" x2="542.74" y2="894.95" stroke="#5c5c5c" stroke-width="1.1"/>
<line x1="537.54" y1="899.28" x2="542.74" y2="899.28" stroke="#5c5c5c" stroke-width="1.1"/>
<line x1="562.61" y1="884.12" x2="562.61" y2="887.83" stroke="#5c5c5c" stroke-width="1.1"/>
<line x1="560.01" y1="884.12" x2="565.21" y2="884.12" stroke="#5c5c5c" stroke-width="1.1"/>
<line x1="560.01" y1="887.83" x2="565.21" y2="887.83" stroke="#5c5c5c" stroke-width="1.1"/>
<line x1="585.08" y1="874.83" x2="585.08" y2="878.55" stroke="#5c5c5c" stroke-width="1.1"/>
<line x1="582.48" y1="874.83" x2="587.68" y2="874.83" stroke="#5c5c5c" stroke-width="1.1"/>
<line x1="582.48" y1="878.55" x2="587.68" y2="878.55" stroke="#5c5c5c" stroke-width="1.1"/>
<line x1="607.55" y1="860.29" x2="607.55" y2="863.38" stroke="#5c5c5c" stroke-width="1.1"/>
<line x1="604.95" y1="860.29" x2="610.15" y2="860.29" stroke="#5c5c5c" stroke-width="1.1"/>
<line x1="604.95" y1="863.38" x2="610.15" y2="863.38" stroke="#5c5c5c" stroke-width="1.1"/>
<line x1="630.02" y1="839.55" x2="630.02" y2="843.26" stroke="#5c5c5c" stroke-width="1.1"/>
<line x1="627.42" y1="839.55" x2="632.62" y2="839.55" stroke="#5c5c5c" stroke-width="1.1"/>
<line x1="627.42" y1="843.26" x2="632.62" y2="843.26" stroke="#5c5c5c" stroke-width="1.1"/>
<line x1="652.49" y1="818.81" x2="652.49" y2="821.91" stroke="#5c5c5c" stroke-width="1.1"/>
<line x1="649.89" y1="818.81" x2="655.09" y2="818.81" stroke="#5c5c5c" stroke-width="1.1"/>
<line x1="649.89" y1="821.91" x2="655.09" y2="821.91" stroke="#5c5c5c" stroke-width="1.1"/>
<path d="M495.2,908.9 C498.9,907.7 510.2,904.0 517.7,902.1 C525.2,900.1 532.6,899.8 540.1,897.1 C547.6,894.4 555.1,889.4 562.6,886.0 C570.1,882.6 577.6,880.7 585.1,876.7 C592.6,872.7 600.1,867.7 607.5,861.8 C615.0,856.0 622.5,848.3 630.0,841.4 C637.5,834.5 648.7,823.9 652.5,820.4 " fill="none" stroke="#7898ca" stroke-width="4.8" stroke-linecap="round"/>
<path d="M495.2,909.5 C498.9,908.5 510.2,905.1 517.7,903.3 C525.2,901.6 532.6,901.8 540.1,899.0 C547.6,896.2 555.1,889.5 562.6,886.6 C570.1,883.7 577.6,882.1 585.1,881.6 C592.6,881.2 600.1,885.3 607.5,884.1 C615.0,883.0 622.5,877.3 630.0,874.8 C637.5,872.4 648.7,870.2 652.5,869.3 " fill="none" stroke="#b9605a" stroke-width="4.8" stroke-linecap="round"/>
<line x1="495.20" y1="905.78" x2="495.20" y2="913.21" stroke="#5c5c5c" stroke-width="1.1"/>
<line x1="492.60" y1="905.78" x2="497.80" y2="905.78" stroke="#5c5c5c" stroke-width="1.1"/>
<line x1="492.60" y1="913.21" x2="497.80" y2="913.21" stroke="#5c5c5c" stroke-width="1.1"/>
<line x1="517.67" y1="899.59" x2="517.67" y2="907.02" stroke="#5c5c5c" stroke-width="1.1"/>
<line x1="515.07" y1="899.59" x2="520.27" y2="899.59" stroke="#5c5c5c" stroke-width="1.1"/>
<line x1="515.07" y1="907.02" x2="520.27" y2="907.02" stroke="#5c5c5c" stroke-width="1.1"/>
<line x1="540.14" y1="894.02" x2="540.14" y2="903.93" stroke="#5c5c5c" stroke-width="1.1"/>
<line x1="537.54" y1="894.02" x2="542.74" y2="894.02" stroke="#5c5c5c" stroke-width="1.1"/>
<line x1="537.54" y1="903.93" x2="542.74" y2="903.93" stroke="#5c5c5c" stroke-width="1.1"/>
<line x1="562.61" y1="881.02" x2="562.61" y2="892.16" stroke="#5c5c5c" stroke-width="1.1"/>
<line x1="560.01" y1="881.02" x2="565.21" y2="881.02" stroke="#5c5c5c" stroke-width="1.1"/>
<line x1="560.01" y1="892.16" x2="565.21" y2="892.16" stroke="#5c5c5c" stroke-width="1.1"/>
<line x1="585.08" y1="876.07" x2="585.08" y2="887.21" stroke="#5c5c5c" stroke-width="1.1"/>
<line x1="582.48" y1="876.07" x2="587.68" y2="876.07" stroke="#5c5c5c" stroke-width="1.1"/>
<line x1="582.48" y1="887.21" x2="587.68" y2="887.21" stroke="#5c5c5c" stroke-width="1.1"/>
<line x1="607.55" y1="877.31" x2="607.55" y2="890.93" stroke="#5c5c5c" stroke-width="1.1"/>
<line x1="604.95" y1="877.31" x2="610.15" y2="877.31" stroke="#5c5c5c" stroke-width="1.1"/>
<line x1="604.95" y1="890.93" x2="610.15" y2="890.93" stroke="#5c5c5c" stroke-width="1.1"/>
<line x1="630.02" y1="868.95" x2="630.02" y2="880.71" stroke="#5c5c5c" stroke-width="1.1"/>
<line x1="627.42" y1="868.95" x2="632.62" y2="868.95" stroke="#5c5c5c" stroke-width="1.1"/>
<line x1="627.42" y1="880.71" x2="632.62" y2="880.71" stroke="#5c5c5c" stroke-width="1.1"/>
<line x1="652.49" y1="865.24" x2="652.49" y2="873.29" stroke="#5c5c5c" stroke-width="1.1"/>
<line x1="649.89" y1="865.24" x2="655.09" y2="865.24" stroke="#5c5c5c" stroke-width="1.1"/>
<line x1="649.89" y1="873.29" x2="655.09" y2="873.29" stroke="#5c5c5c" stroke-width="1.1"/>
<line x1="607.55" y1="860.29" x2="607.55" y2="863.38" stroke="#5c5c5c" stroke-width="1.1"/>
<line x1="604.95" y1="860.29" x2="610.15" y2="860.29" stroke="#5c5c5c" stroke-width="1.1"/>
<line x1="604.95" y1="863.38" x2="610.15" y2="863.38" stroke="#5c5c5c" stroke-width="1.1"/>
<line x1="630.02" y1="839.55" x2="630.02" y2="843.26" stroke="#5c5c5c" stroke-width="1.1"/>
<line x1="627.42" y1="839.55" x2="632.62" y2="839.55" stroke="#5c5c5c" stroke-width="1.1"/>
<line x1="627.42" y1="843.26" x2="632.62" y2="843.26" stroke="#5c5c5c" stroke-width="1.1"/>
<line x1="652.49" y1="818.81" x2="652.49" y2="821.91" stroke="#5c5c5c" stroke-width="1.1"/>
<line x1="649.89" y1="818.81" x2="655.09" y2="818.81" stroke="#5c5c5c" stroke-width="1.1"/>
<line x1="649.89" y1="821.91" x2="655.09" y2="821.91" stroke="#5c5c5c" stroke-width="1.1"/>
<path d="M607.55,821.55 L607.55,828.35 M610.49,823.25 L604.61,826.65 M610.49,826.65 L604.61,823.25 " fill="none" stroke="#6a6a6a" stroke-width="1.0"/>
<path d="M607.55,830.05 L607.55,836.85 M610.49,831.75 L604.61,835.15 M610.49,835.15 L604.61,831.75 " fill="none" stroke="#6a6a6a" stroke-width="1.0"/>
<path d="M607.55,838.55 L607.55,845.35 M610.49,840.25 L604.61,843.65 M610.49,843.65 L604.61,840.25 " fill="none" stroke="#6a6a6a" stroke-width="1.0"/>
<path d="M607.55,847.05 L607.55,853.85 M610.49,848.75 L604.61,852.15 M610.49,852.15 L604.61,848.75 " fill="none" stroke="#6a6a6a" stroke-width="1.0"/>
<path d="M630.02,800.29 L630.02,807.09 M632.96,801.99 L627.08,805.39 M632.96,805.39 L627.08,801.99 " fill="none" stroke="#6a6a6a" stroke-width="1.0"/>
<path d="M630.02,808.66 L630.02,815.46 M632.96,810.36 L627.08,813.76 M632.96,813.76 L627.08,810.36 " fill="none" stroke="#6a6a6a" stroke-width="1.0"/>
<path d="M630.02,817.04 L630.02,823.84 M632.96,818.74 L627.08,822.14 M632.96,822.14 L627.08,818.74 " fill="none" stroke="#6a6a6a" stroke-width="1.0"/>
<path d="M630.02,825.41 L630.02,832.21 M632.96,827.11 L627.08,830.51 M632.96,830.51 L627.08,827.11 " fill="none" stroke="#6a6a6a" stroke-width="1.0"/>
<path d="M652.49,780.71 L652.49,787.51 M655.43,782.41 L649.55,785.81 M655.43,785.81 L649.55,782.41 " fill="none" stroke="#6a6a6a" stroke-width="1.0"/>
<path d="M652.49,789.14 L652.49,795.94 M655.43,790.84 L649.55,794.24 M655.43,794.24 L649.55,790.84 " fill="none" stroke="#6a6a6a" stroke-width="1.0"/>
<path d="M652.49,797.56 L652.49,804.36 M655.43,799.26 L649.55,802.66 M655.43,802.66 L649.55,799.26 " fill="none" stroke="#6a6a6a" stroke-width="1.0"/>
<path d="M652.49,805.99 L652.49,812.79 M655.43,807.69 L649.55,811.09 M655.43,811.09 L649.55,807.69 " fill="none" stroke="#6a6a6a" stroke-width="1.0"/>
<text transform="translate(441.00 871.20) rotate(-90) scale(1.035 1)" font-size="16" text-anchor="middle">Male body weight (g)</text>
<text transform="translate(574.30 973.90) scale(1.035 1)" font-size="16" text-anchor="middle">Time (d)</text>
<line x1="474.00" y1="775.60" x2="489.20" y2="775.60" stroke="#7898ca" stroke-width="4.6" stroke-linecap="round"/>
<text transform="translate(497.60 780.40) scale(1.035 1)" font-size="16">Ctrl</text>
<line x1="474.00" y1="793.00" x2="489.20" y2="793.00" stroke="#b9605a" stroke-width="4.6" stroke-linecap="round"/>
<text transform="translate(497.60 797.70) scale(1.035 1)" font-size="16">Juvenile ca<tspan font-style="italic">Erbb2</tspan></text>
<text transform="translate(722.60 786.20) scale(1.035 1)" font-size="16" text-anchor="middle">P28</text>
<line x1="700.90" y1="802.10" x2="715.80" y2="802.10" stroke="#7898ca" stroke-width="4" stroke-linecap="round"/>
<line x1="726.60" y1="802.10" x2="741.80" y2="802.10" stroke="#b9605a" stroke-width="4" stroke-linecap="round"/>
<defs><radialGradient id="mk" cx="0.5" cy="0.5" r="0.6"><stop offset="0" stop-color="#332e1c"/><stop offset="0.6" stop-color="#464024"/><stop offset="1" stop-color="#7a6e3e"/></radialGradient></defs>
<path d="M710.6,866 Q711.5,884 712.1,899" fill="none" stroke="#8e8668" stroke-width="1.2" stroke-linecap="round"/>
<ellipse cx="703.8" cy="868.5" rx="2.0" ry="1.6" fill="url(#mk)"/>
<ellipse cx="715.3" cy="867.8" rx="2.0" ry="1.6" fill="url(#mk)"/>
<path d="M709.3,812.0 C710.6,812.0 712.3,813.7 713.3,815.4 C714.2,817.1 714.1,819.8 715.0,822.3 C715.8,824.7 717.8,827.2 718.6,830.2 C719.3,833.3 719.4,836.9 719.6,840.5 C719.8,844.1 719.9,848.3 719.6,851.9 C719.3,855.5 719.0,859.4 718.1,862.2 C717.1,864.9 715.4,867.3 713.9,868.4 C712.5,869.6 710.8,869.0 709.3,869.0 C707.8,869.0 706.1,869.6 704.7,868.4 C703.2,867.3 701.5,864.9 700.5,862.2 C699.6,859.4 699.3,855.5 699.0,851.9 C698.7,848.3 698.8,844.1 699.0,840.5 C699.2,836.9 699.3,833.3 700.0,830.2 C700.8,827.2 702.8,824.7 703.6,822.3 C704.5,819.8 704.4,817.1 705.3,815.4 C706.3,813.7 708.0,812.0 709.3,812.0 Z" fill="url(#mk)"/>
<circle cx="700.2" cy="824.8" r="2.6" fill="#8a7b52"/>
<circle cx="718.4" cy="824.8" r="2.6" fill="#8a7b52"/>
<path d="M736.4,860 Q736.4,872 736.4,882.1" fill="none" stroke="#8e8668" stroke-width="1.1" stroke-linecap="round"/>
<ellipse cx="731.5" cy="861.5" rx="1.8" ry="1.4400000000000002" fill="url(#mk)"/>
<ellipse cx="739.5" cy="861.5" rx="1.8" ry="1.4400000000000002" fill="url(#mk)"/>
<path d="M734.8,813.2 C735.9,813.2 737.2,814.7 738.0,816.1 C738.7,817.6 738.6,819.9 739.3,822.0 C740.0,824.1 741.6,826.2 742.2,828.8 C742.8,831.4 742.9,834.5 743.0,837.6 C743.1,840.7 743.2,844.3 743.0,847.4 C742.8,850.5 742.5,853.8 741.8,856.1 C741.0,858.5 739.7,860.5 738.5,861.5 C737.3,862.5 736.0,862.0 734.8,862.0 C733.6,862.0 732.3,862.5 731.1,861.5 C729.9,860.5 728.6,858.5 727.8,856.1 C727.1,853.8 726.8,850.5 726.6,847.4 C726.4,844.3 726.5,840.7 726.6,837.6 C726.7,834.5 726.8,831.4 727.4,828.8 C728.0,826.2 729.6,824.1 730.3,822.0 C731.0,819.9 730.9,817.6 731.6,816.1 C732.4,814.7 733.7,813.2 734.8,813.2 Z" fill="url(#mk)"/>
<circle cx="727.5" cy="823.5" r="2.4" fill="#8a7b52"/>
<circle cx="742.8" cy="824.5" r="2.4" fill="#8a7b52"/>
<line x1="874.40" y1="797.30" x2="874.40" y2="932.40" stroke="#7a7a7a" stroke-width="1.1"/>
<line x1="874.40" y1="932.40" x2="1069.50" y2="932.40" stroke="#7a7a7a" stroke-width="1.1"/>
<line x1="871.90" y1="932.40" x2="874.40" y2="932.40" stroke="#7a7a7a" stroke-width="1.1"/>
<text transform="translate(867.10 936.60) scale(1.035 1)" font-size="16" text-anchor="end">0</text>
<line x1="871.90" y1="905.38" x2="874.40" y2="905.38" stroke="#7a7a7a" stroke-width="1.1"/>
<text transform="translate(867.10 909.58) scale(1.035 1)" font-size="16" text-anchor="end">10</text>
<line x1="871.90" y1="878.36" x2="874.40" y2="878.36" stroke="#7a7a7a" stroke-width="1.1"/>
<text transform="translate(867.10 882.56) scale(1.035 1)" font-size="16" text-anchor="end">20</text>
<line x1="871.90" y1="851.34" x2="874.40" y2="851.34" stroke="#7a7a7a" stroke-width="1.1"/>
<text transform="translate(867.10 855.54) scale(1.035 1)" font-size="16" text-anchor="end">30</text>
<line x1="871.90" y1="824.32" x2="874.40" y2="824.32" stroke="#7a7a7a" stroke-width="1.1"/>
<text transform="translate(867.10 828.52) scale(1.035 1)" font-size="16" text-anchor="end">40</text>
<line x1="871.90" y1="797.30" x2="874.40" y2="797.30" stroke="#7a7a7a" stroke-width="1.1"/>
<text transform="translate(867.10 801.50) scale(1.035 1)" font-size="16" text-anchor="end">50</text>
<line x1="898.00" y1="932.40" x2="898.00" y2="935.40" stroke="#7a7a7a" stroke-width="1.1"/>
<text transform="translate(898.00 952.20) scale(1.035 1)" font-size="16" text-anchor="middle">28</text>
<line x1="947.10" y1="932.40" x2="947.10" y2="935.40" stroke="#7a7a7a" stroke-width="1.1"/>
<text transform="translate(947.10 952.20) scale(1.035 1)" font-size="16" text-anchor="middle">56</text>
<line x1="996.20" y1="932.40" x2="996.20" y2="935.40" stroke="#7a7a7a" stroke-width="1.1"/>
<text transform="translate(996.20 952.20) scale(1.035 1)" font-size="16" text-anchor="middle">84</text>
<line x1="1045.30" y1="932.40" x2="1045.30" y2="935.40" stroke="#7a7a7a" stroke-width="1.1"/>
<text transform="translate(1045.30 952.20) scale(1.035 1)" font-size="16" text-anchor="middle">112</text>
<line x1="1069.50" y1="932.40" x2="1069.50" y2="935.40" stroke="#7a7a7a" stroke-width="1.1"/>
<line x1="947.10" y1="847.56" x2="947.10" y2="866.47" stroke="#5c5c5c" stroke-width="1.1"/>
<line x1="944.50" y1="847.56" x2="949.70" y2="847.56" stroke="#5c5c5c" stroke-width="1.1"/>
<line x1="944.50" y1="866.47" x2="949.70" y2="866.47" stroke="#5c5c5c" stroke-width="1.1"/>
<line x1="996.20" y1="836.75" x2="996.20" y2="845.94" stroke="#5c5c5c" stroke-width="1.1"/>
<line x1="993.60" y1="836.75" x2="998.80" y2="836.75" stroke="#5c5c5c" stroke-width="1.1"/>
<line x1="993.60" y1="845.94" x2="998.80" y2="845.94" stroke="#5c5c5c" stroke-width="1.1"/>
<line x1="1045.30" y1="823.51" x2="1045.30" y2="834.86" stroke="#5c5c5c" stroke-width="1.1"/>
<line x1="1042.70" y1="823.51" x2="1047.90" y2="823.51" stroke="#5c5c5c" stroke-width="1.1"/>
<line x1="1042.70" y1="834.86" x2="1047.90" y2="834.86" stroke="#5c5c5c" stroke-width="1.1"/>
<path d="M898.0,893.8 C906.2,888.1 930.7,868.5 947.1,859.7 C963.5,851.0 979.8,846.4 996.2,841.3 C1012.6,836.3 1037.1,831.2 1045.3,829.2 " fill="none" stroke="#7898ca" stroke-width="4.8" stroke-linecap="round"/>
<path d="M898.0,893.8 C906.2,887.7 934.8,864.6 947.1,857.6 C959.4,850.5 963.5,852.8 971.7,851.6 C979.8,850.4 983.9,851.2 996.2,850.5 C1008.5,849.8 1037.1,847.8 1045.3,847.3 " fill="none" stroke="#b9605a" stroke-width="4.8" stroke-linecap="round"/>
<line x1="996.20" y1="846.48" x2="996.20" y2="854.58" stroke="#5c5c5c" stroke-width="1.1"/>
<line x1="993.60" y1="846.48" x2="998.80" y2="846.48" stroke="#5c5c5c" stroke-width="1.1"/>
<line x1="993.60" y1="854.58" x2="998.80" y2="854.58" stroke="#5c5c5c" stroke-width="1.1"/>
<line x1="1045.30" y1="844.31" x2="1045.30" y2="849.99" stroke="#5c5c5c" stroke-width="1.1"/>
<line x1="1042.70" y1="844.31" x2="1047.90" y2="844.31" stroke="#5c5c5c" stroke-width="1.1"/>
<line x1="1042.70" y1="849.99" x2="1047.90" y2="849.99" stroke="#5c5c5c" stroke-width="1.1"/>
<text transform="translate(834.40 865.50) rotate(-90) scale(1.035 1)" font-size="16" text-anchor="middle">Male body weight (g)</text>
<text transform="translate(972.20 973.90) scale(1.035 1)" font-size="16" text-anchor="middle">Time (d)</text>
<line x1="890.00" y1="775.50" x2="905.20" y2="775.50" stroke="#7898ca" stroke-width="4.6" stroke-linecap="round"/>
<text transform="translate(914.00 780.40) scale(1.035 1)" font-size="16">Ctrl</text>
<line x1="890.00" y1="793.00" x2="905.20" y2="793.00" stroke="#b9605a" stroke-width="4.6" stroke-linecap="round"/>
<text transform="translate(914.00 797.70) scale(1.035 1)" font-size="16">Adult ca<tspan font-style="italic">Erbb2</tspan></text>
<text transform="translate(2.00 998.10)" font-size="18" font-weight="bold" fill="#111">m</text>
<text transform="translate(403.00 998.30)" font-size="18" font-weight="bold" fill="#111">n</text>
<text transform="translate(795.50 999.10)" font-size="18" font-weight="bold" fill="#111">o</text>
<line x1="92.60" y1="998.10" x2="92.60" y2="1120.10" stroke="#7a7a7a" stroke-width="1.1"/>
<line x1="92.60" y1="1120.10" x2="293.40" y2="1120.10" stroke="#7a7a7a" stroke-width="1.1"/>
<line x1="88.60" y1="1120.10" x2="92.60" y2="1120.10" stroke="#7a7a7a" stroke-width="1.1"/>
<text transform="translate(83.40 1125.90) scale(1.035 1)" font-size="16" text-anchor="end">0</text>
<line x1="88.60" y1="1089.60" x2="92.60" y2="1089.60" stroke="#7a7a7a" stroke-width="1.1"/>
<text transform="translate(83.40 1095.40) scale(1.035 1)" font-size="16" text-anchor="end">25</text>
<line x1="88.60" y1="1059.10" x2="92.60" y2="1059.10" stroke="#7a7a7a" stroke-width="1.1"/>
<text transform="translate(83.40 1064.90) scale(1.035 1)" font-size="16" text-anchor="end">50</text>
<line x1="88.60" y1="1028.60" x2="92.60" y2="1028.60" stroke="#7a7a7a" stroke-width="1.1"/>
<text transform="translate(83.40 1034.40) scale(1.035 1)" font-size="16" text-anchor="end">75</text>
<line x1="88.60" y1="998.10" x2="92.60" y2="998.10" stroke="#7a7a7a" stroke-width="1.1"/>
<text transform="translate(83.40 1003.90) scale(1.035 1)" font-size="16" text-anchor="end">100</text>
<line x1="92.60" y1="1120.10" x2="92.60" y2="1124.10" stroke="#7a7a7a" stroke-width="1.1"/>
<text transform="translate(92.60 1142.00) scale(1.035 1)" font-size="16" text-anchor="middle">0</text>
<line x1="112.68" y1="1120.10" x2="112.68" y2="1124.10" stroke="#7a7a7a" stroke-width="1.1"/>
<text transform="translate(112.68 1142.00) scale(1.035 1)" font-size="16" text-anchor="middle">1</text>
<line x1="132.76" y1="1120.10" x2="132.76" y2="1124.10" stroke="#7a7a7a" stroke-width="1.1"/>
<text transform="translate(132.76 1142.00) scale(1.035 1)" font-size="16" text-anchor="middle">2</text>
<line x1="152.84" y1="1120.10" x2="152.84" y2="1124.10" stroke="#7a7a7a" stroke-width="1.1"/>
<text transform="translate(152.84 1142.00) scale(1.035 1)" font-size="16" text-anchor="middle">3</text>
<line x1="172.92" y1="1120.10" x2="172.92" y2="1124.10" stroke="#7a7a7a" stroke-width="1.1"/>
<text transform="translate(172.92 1142.00) scale(1.035 1)" font-size="16" text-anchor="middle">4</text>
<line x1="193.00" y1="1120.10" x2="193.00" y2="1124.10" stroke="#7a7a7a" stroke-width="1.1"/>
<text transform="translate(193.00 1142.00) scale(1.035 1)" font-size="16" text-anchor="middle">5</text>
<line x1="213.08" y1="1120.10" x2="213.08" y2="1124.10" stroke="#7a7a7a" stroke-width="1.1"/>
<text transform="translate(213.08 1142.00) scale(1.035 1)" font-size="16" text-anchor="middle">6</text>
<line x1="233.16" y1="1120.10" x2="233.16" y2="1124.10" stroke="#7a7a7a" stroke-width="1.1"/>
<text transform="translate(233.16 1142.00) scale(1.035 1)" font-size="16" text-anchor="middle">7</text>
<line x1="253.24" y1="1120.10" x2="253.24" y2="1124.10" stroke="#7a7a7a" stroke-width="1.1"/>
<text transform="translate(253.24 1142.00) scale(1.035 1)" font-size="16" text-anchor="middle">8</text>
<line x1="273.32" y1="1120.10" x2="273.32" y2="1124.10" stroke="#7a7a7a" stroke-width="1.1"/>
<text transform="translate(273.32 1142.00) scale(1.035 1)" font-size="16" text-anchor="middle">9</text>
<line x1="293.40" y1="1120.10" x2="293.40" y2="1124.10" stroke="#7a7a7a" stroke-width="1.1"/>
<text transform="translate(293.40 1142.00) scale(1.035 1)" font-size="16" text-anchor="middle">10</text>
<path d="M188.5,1001.4 H203.7 V1005.6 H213.6 V1024.2 H233.4 V1062.2 H253.7 V1090.2 H273.9 V1120" fill="none" stroke="#b9605a" stroke-width="4" stroke-linejoin="miter"/>
<line x1="92.60" y1="998.10" x2="295.40" y2="998.10" stroke="#7898ca" stroke-width="4"/>
<rect x="130.16" y="996.50" width="5.20" height="2.60" fill="#111"/>
<rect x="230.56" y="996.50" width="5.20" height="2.60" fill="#111"/>
<rect x="290.80" y="996.50" width="5.20" height="2.60" fill="#111"/>
<rect x="189.40" y="1000.10" width="5.20" height="2.60" fill="#111"/>
<rect x="200.90" y="1004.30" width="5.20" height="2.60" fill="#111"/>
<rect x="211.00" y="1022.90" width="5.20" height="2.60" fill="#111"/>
<rect x="230.80" y="1060.90" width="5.20" height="2.60" fill="#111"/>
<rect x="251.10" y="1088.90" width="5.20" height="2.60" fill="#111"/>
<rect x="271.30" y="1117.70" width="5.20" height="2.60" fill="#111"/>
<text transform="translate(249.10 1026.20) scale(1.035 1)" font-size="16"><tspan font-style="italic">P</tspan> &lt; 0.0001</text>
<line x1="102.50" y1="1087.40" x2="120.50" y2="1087.40" stroke="#7898ca" stroke-width="4.6" stroke-linecap="round"/>
<text transform="translate(129.80 1092.40) scale(1.035 1)" font-size="16">Ctrl</text>
<line x1="102.50" y1="1105.60" x2="120.50" y2="1105.60" stroke="#b9605a" stroke-width="4.6" stroke-linecap="round"/>
<text transform="translate(129.80 1110.60) scale(1.035 1)" font-size="16">Neonatal ca<tspan font-style="italic">Erbb2</tspan></text>
<text transform="translate(47.20 1058.90) rotate(-90) scale(1.035 1)" font-size="16" text-anchor="middle">Survival rate (%)</text>
<text transform="translate(193.40 1163.00) scale(1.035 1)" font-size="16" text-anchor="middle">Time (d)</text>
<line x1="483.30" y1="995.80" x2="483.30" y2="1119.50" stroke="#7a7a7a" stroke-width="1.1"/>
<line x1="483.30" y1="1119.50" x2="669.20" y2="1119.50" stroke="#7a7a7a" stroke-width="1.1"/>
<line x1="479.30" y1="1119.50" x2="483.30" y2="1119.50" stroke="#7a7a7a" stroke-width="1.1"/>
<text transform="translate(475.80 1125.30) scale(1.035 1)" font-size="16" text-anchor="end">0</text>
<line x1="479.30" y1="1088.60" x2="483.30" y2="1088.60" stroke="#7a7a7a" stroke-width="1.1"/>
<text transform="translate(475.80 1094.40) scale(1.035 1)" font-size="16" text-anchor="end">25</text>
<line x1="479.30" y1="1057.70" x2="483.30" y2="1057.70" stroke="#7a7a7a" stroke-width="1.1"/>
<text transform="translate(475.80 1063.50) scale(1.035 1)" font-size="16" text-anchor="end">50</text>
<line x1="479.30" y1="1026.70" x2="483.30" y2="1026.70" stroke="#7a7a7a" stroke-width="1.1"/>
<text transform="translate(475.80 1032.50) scale(1.035 1)" font-size="16" text-anchor="end">75</text>
<line x1="479.30" y1="995.80" x2="483.30" y2="995.80" stroke="#7a7a7a" stroke-width="1.1"/>
<text transform="translate(475.80 1001.60) scale(1.035 1)" font-size="16" text-anchor="end">100</text>
<line x1="483.30" y1="1119.50" x2="483.30" y2="1123.50" stroke="#7a7a7a" stroke-width="1.1"/>
<text transform="translate(483.30 1142.00) scale(1.035 1)" font-size="16" text-anchor="middle">0</text>
<line x1="514.28" y1="1119.50" x2="514.28" y2="1123.50" stroke="#7a7a7a" stroke-width="1.1"/>
<text transform="translate(514.28 1142.00) scale(1.035 1)" font-size="16" text-anchor="middle">7</text>
<line x1="545.26" y1="1119.50" x2="545.26" y2="1123.50" stroke="#7a7a7a" stroke-width="1.1"/>
<text transform="translate(545.26 1142.00) scale(1.035 1)" font-size="16" text-anchor="middle">14</text>
<line x1="576.25" y1="1119.50" x2="576.25" y2="1123.50" stroke="#7a7a7a" stroke-width="1.1"/>
<text transform="translate(576.25 1142.00) scale(1.035 1)" font-size="16" text-anchor="middle">21</text>
<line x1="607.23" y1="1119.50" x2="607.23" y2="1123.50" stroke="#7a7a7a" stroke-width="1.1"/>
<text transform="translate(607.23 1142.00) scale(1.035 1)" font-size="16" text-anchor="middle">28</text>
<line x1="638.21" y1="1119.50" x2="638.21" y2="1123.50" stroke="#7a7a7a" stroke-width="1.1"/>
<text transform="translate(638.21 1142.00) scale(1.035 1)" font-size="16" text-anchor="middle">35</text>
<line x1="669.19" y1="1119.50" x2="669.19" y2="1123.50" stroke="#7a7a7a" stroke-width="1.1"/>
<text transform="translate(669.19 1142.00) scale(1.035 1)" font-size="16" text-anchor="middle">42</text>
<path d="M570.8,998.8 H579.7 V1002.5 H584.7 V1008.3 H589.2 V1032.5 H598.3 V1035.3 H602.5 V1039.2 H607.5 V1047.5 H611.7 V1052 H615.8 V1079.2 H646.7 V1099.2 H657" fill="none" stroke="#b9605a" stroke-width="4" stroke-linejoin="miter"/>
<line x1="483.30" y1="995.80" x2="657.50" y2="995.80" stroke="#7898ca" stroke-width="4"/>
<rect x="511.40" y="994.20" width="5.20" height="2.60" fill="#111"/>
<rect x="542.90" y="994.20" width="5.20" height="2.60" fill="#111"/>
<rect x="546.90" y="994.20" width="5.20" height="2.60" fill="#111"/>
<rect x="550.90" y="994.20" width="5.20" height="2.60" fill="#111"/>
<rect x="556.90" y="994.20" width="5.20" height="2.60" fill="#111"/>
<rect x="569.90" y="994.20" width="5.20" height="2.60" fill="#111"/>
<rect x="573.90" y="994.20" width="5.20" height="2.60" fill="#111"/>
<rect x="577.90" y="994.20" width="5.20" height="2.60" fill="#111"/>
<rect x="586.90" y="994.20" width="5.20" height="2.60" fill="#111"/>
<rect x="599.40" y="994.20" width="5.20" height="2.60" fill="#111"/>
<rect x="603.40" y="994.20" width="5.20" height="2.60" fill="#111"/>
<rect x="607.40" y="994.20" width="5.20" height="2.60" fill="#111"/>
<rect x="616.40" y="994.20" width="5.20" height="2.60" fill="#111"/>
<rect x="634.90" y="994.20" width="5.20" height="2.60" fill="#111"/>
<rect x="643.70" y="994.20" width="5.20" height="2.60" fill="#111"/>
<rect x="653.20" y="994.20" width="5.20" height="2.60" fill="#111"/>
<rect x="577.40" y="1001.20" width="5.20" height="2.60" fill="#111"/>
<rect x="582.10" y="1007.00" width="5.20" height="2.60" fill="#111"/>
<rect x="586.90" y="1031.20" width="5.20" height="2.60" fill="#111"/>
<rect x="595.90" y="1034.00" width="5.20" height="2.60" fill="#111"/>
<rect x="599.90" y="1037.90" width="5.20" height="2.60" fill="#111"/>
<rect x="604.90" y="1046.20" width="5.20" height="2.60" fill="#111"/>
<rect x="609.10" y="1050.70" width="5.20" height="2.60" fill="#111"/>
<rect x="614.90" y="1077.90" width="5.20" height="2.60" fill="#111"/>
<rect x="618.90" y="1077.90" width="5.20" height="2.60" fill="#111"/>
<rect x="622.90" y="1077.90" width="5.20" height="2.60" fill="#111"/>
<rect x="644.90" y="1097.90" width="5.20" height="2.60" fill="#111"/>
<rect x="652.90" y="1097.90" width="5.20" height="2.60" fill="#111"/>
<text transform="translate(611.70 1024.70) scale(1.035 1)" font-size="16"><tspan font-style="italic">P</tspan> &lt; 0.0001</text>
<line x1="492.50" y1="1087.50" x2="507.50" y2="1087.50" stroke="#7898ca" stroke-width="4.6" stroke-linecap="round"/>
<text transform="translate(516.70 1092.50) scale(1.035 1)" font-size="16">Ctrl</text>
<line x1="492.50" y1="1105.00" x2="507.50" y2="1105.00" stroke="#b9605a" stroke-width="4.6" stroke-linecap="round"/>
<text transform="translate(516.70 1110.00) scale(1.035 1)" font-size="16">Juvenile ca<tspan font-style="italic">Erbb2</tspan></text>
<text transform="translate(439.20 1057.50) rotate(-90) scale(1.035 1)" font-size="16" text-anchor="middle">Survival rate (%)</text>
<text transform="translate(576.30 1162.50) scale(1.035 1)" font-size="16" text-anchor="middle">Time (d)</text>
<line x1="874.50" y1="996.30" x2="874.50" y2="1119.70" stroke="#7a7a7a" stroke-width="1.1"/>
<line x1="874.50" y1="1119.70" x2="1060.00" y2="1119.70" stroke="#7a7a7a" stroke-width="1.1"/>
<line x1="870.50" y1="1119.70" x2="874.50" y2="1119.70" stroke="#7a7a7a" stroke-width="1.1"/>
<text transform="translate(868.80 1125.50) scale(1.035 1)" font-size="16" text-anchor="end">0</text>
<line x1="870.50" y1="1095.00" x2="874.50" y2="1095.00" stroke="#7a7a7a" stroke-width="1.1"/>
<text transform="translate(868.80 1100.80) scale(1.035 1)" font-size="16" text-anchor="end">20</text>
<line x1="870.50" y1="1070.30" x2="874.50" y2="1070.30" stroke="#7a7a7a" stroke-width="1.1"/>
<text transform="translate(868.80 1076.10) scale(1.035 1)" font-size="16" text-anchor="end">40</text>
<line x1="870.50" y1="1045.60" x2="874.50" y2="1045.60" stroke="#7a7a7a" stroke-width="1.1"/>
<text transform="translate(868.80 1051.40) scale(1.035 1)" font-size="16" text-anchor="end">60</text>
<line x1="870.50" y1="1020.90" x2="874.50" y2="1020.90" stroke="#7a7a7a" stroke-width="1.1"/>
<text transform="translate(868.80 1026.70) scale(1.035 1)" font-size="16" text-anchor="end">80</text>
<line x1="870.50" y1="996.30" x2="874.50" y2="996.30" stroke="#7a7a7a" stroke-width="1.1"/>
<text transform="translate(868.80 1002.10) scale(1.035 1)" font-size="16" text-anchor="end">100</text>
<line x1="874.50" y1="1119.70" x2="874.50" y2="1123.70" stroke="#7a7a7a" stroke-width="1.1"/>
<text transform="translate(874.50 1142.00) scale(1.035 1)" font-size="16" text-anchor="middle">0</text>
<line x1="911.60" y1="1119.70" x2="911.60" y2="1123.70" stroke="#7a7a7a" stroke-width="1.1"/>
<text transform="translate(911.60 1142.00) scale(1.035 1)" font-size="16" text-anchor="middle">28</text>
<line x1="948.70" y1="1119.70" x2="948.70" y2="1123.70" stroke="#7a7a7a" stroke-width="1.1"/>
<text transform="translate(948.70 1142.00) scale(1.035 1)" font-size="16" text-anchor="middle">56</text>
<line x1="985.80" y1="1119.70" x2="985.80" y2="1123.70" stroke="#7a7a7a" stroke-width="1.1"/>
<text transform="translate(985.80 1142.00) scale(1.035 1)" font-size="16" text-anchor="middle">84</text>
<line x1="1022.90" y1="1119.70" x2="1022.90" y2="1123.70" stroke="#7a7a7a" stroke-width="1.1"/>
<text transform="translate(1022.90 1142.00) scale(1.035 1)" font-size="16" text-anchor="middle">112</text>
<line x1="1060.00" y1="1119.70" x2="1060.00" y2="1123.70" stroke="#7a7a7a" stroke-width="1.1"/>
<text transform="translate(1060.00 1142.00) scale(1.035 1)" font-size="16" text-anchor="middle">140</text>
<path d="M969.2,996.3 V1017.5 H995 V1029.2 H1028.3" fill="none" stroke="#b9605a" stroke-width="4" stroke-linejoin="miter"/>
<line x1="874.50" y1="996.30" x2="1028.30" y2="996.30" stroke="#7898ca" stroke-width="4"/>
<rect x="948.20" y="994.70" width="5.20" height="2.60" fill="#111"/>
<rect x="964.90" y="994.70" width="5.20" height="2.60" fill="#111"/>
<rect x="968.90" y="994.70" width="5.20" height="2.60" fill="#111"/>
<rect x="1023.20" y="994.70" width="5.20" height="2.60" fill="#111"/>
<rect x="969.90" y="1015.70" width="5.20" height="2.60" fill="#111"/>
<rect x="1023.20" y="1027.50" width="5.20" height="2.60" fill="#111"/>
<line x1="886.00" y1="1087.80" x2="900.00" y2="1087.80" stroke="#7898ca" stroke-width="4.6" stroke-linecap="round"/>
<text transform="translate(910.00 1092.80) scale(1.035 1)" font-size="16">Ctrl</text>
<line x1="886.00" y1="1105.30" x2="900.00" y2="1105.30" stroke="#b9605a" stroke-width="4.6" stroke-linecap="round"/>
<text transform="translate(910.00 1110.30) scale(1.035 1)" font-size="16">Adult ca<tspan font-style="italic">Erbb2</tspan></text>
<text transform="translate(833.40 1057.50) rotate(-90) scale(1.035 1)" font-size="16" text-anchor="middle">Survival rate (%)</text>
<text transform="translate(967.50 1162.50) scale(1.035 1)" font-size="16" text-anchor="middle">Time (d)</text>
</svg>
</body></html>
